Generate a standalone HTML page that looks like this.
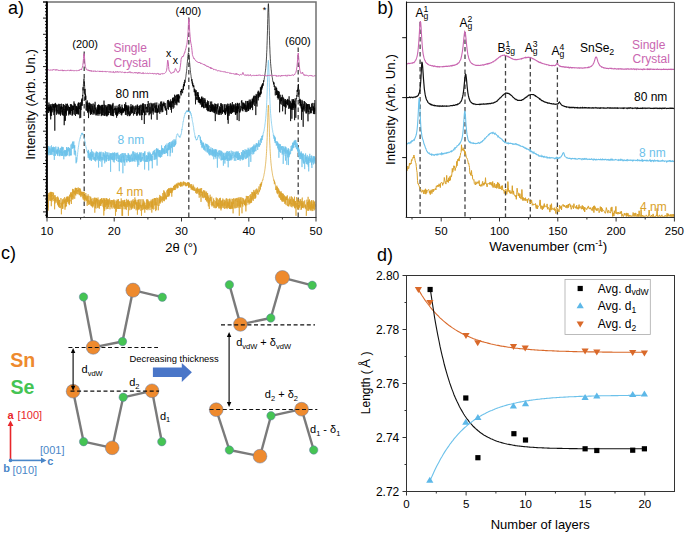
<!DOCTYPE html>
<html><head><meta charset="utf-8"><style>
html,body{margin:0;padding:0;background:#fff;}
svg{display:block;}
text{font-family:"Liberation Sans", sans-serif;}
</style></head><body>
<svg width="685" height="533" viewBox="0 0 685 533" font-family='"Liberation Sans", sans-serif'>
<rect width="685" height="533" fill="#fff"/>
<g id="pa">
<line x1="84.2" y1="51.5" x2="84.2" y2="217.5" stroke="#444" stroke-width="1.3" stroke-dasharray="4.5,3"/>
<line x1="188.8" y1="17.5" x2="188.8" y2="217.5" stroke="#444" stroke-width="1.3" stroke-dasharray="4.5,3"/>
<line x1="298.2" y1="47.5" x2="298.2" y2="217.5" stroke="#444" stroke-width="1.3" stroke-dasharray="4.5,3"/>
<path d="M47.6,194.9 L47.8,198.1 L47.9,207.4 L48.0,196.5 L48.2,210.6 L48.3,196.4 L48.5,194.9 L48.6,196.3 L48.8,192.9 L48.9,195.1 L49.1,195.2 L49.2,200.4 L49.4,200.6 L49.5,199.6 L49.7,196.8 L49.8,192.4 L50.0,197.1 L50.1,196.6 L50.3,197.3 L50.4,200.9 L50.6,191.9 L50.7,196.7 L50.9,192.6 L51.0,200.4 L51.2,191.9 L51.3,206.2 L51.5,192.8 L51.6,197.0 L51.8,192.0 L51.9,201.5 L52.1,198.2 L52.2,200.1 L52.4,195.5 L52.5,195.2 L52.7,196.0 L52.8,192.1 L53.0,199.1 L53.1,197.6 L53.3,198.4 L53.4,195.3 L53.6,192.8 L53.7,199.3 L53.9,201.1 L54.0,196.7 L54.2,196.9 L54.3,195.5 L54.5,195.3 L54.6,209.3 L54.8,198.8 L54.9,203.6 L55.1,199.8 L55.2,195.3 L55.4,196.4 L55.5,200.9 L55.7,197.6 L55.8,201.5 L56.0,201.1 L56.1,202.7 L56.3,200.9 L56.4,199.9 L56.6,200.1 L56.7,197.6 L56.9,197.0 L57.0,200.9 L57.2,199.9 L57.3,201.6 L57.5,204.1 L57.6,196.5 L57.8,202.3 L57.9,205.0 L58.1,202.2 L58.2,205.7 L58.4,197.6 L58.5,206.8 L58.7,199.6 L58.8,204.3 L59.0,205.8 L59.1,202.9 L59.3,200.0 L59.4,207.8 L59.6,199.9 L59.7,202.3 L59.9,203.8 L60.0,203.0 L60.2,206.0 L60.3,207.8 L60.5,208.1 L60.6,206.3 L60.8,206.8 L60.9,198.0 L61.1,200.4 L61.2,204.0 L61.4,214.3 L61.5,208.3 L61.7,208.1 L61.8,203.2 L62.0,205.6 L62.1,201.8 L62.3,206.7 L62.4,199.3 L62.6,208.9 L62.7,202.8 L62.9,208.6 L63.0,200.6 L63.2,200.8 L63.3,200.7 L63.5,200.8 L63.6,198.5 L63.8,204.2 L63.9,201.2 L64.1,203.0 L64.2,200.1 L64.4,202.4 L64.5,202.0 L64.7,197.1 L64.8,200.1 L65.0,209.7 L65.1,199.9 L65.3,201.3 L65.4,207.3 L65.6,198.6 L65.7,206.0 L65.9,204.2 L66.0,206.8 L66.2,204.8 L66.3,206.0 L66.5,197.2 L66.6,204.0 L66.8,199.2 L66.9,199.5 L67.1,196.3 L67.2,196.5 L67.4,202.2 L67.5,197.1 L67.7,201.5 L67.8,198.3 L68.0,201.1 L68.1,200.9 L68.3,196.4 L68.4,203.7 L68.6,201.4 L68.7,199.7 L68.9,200.1 L69.0,200.3 L69.2,197.1 L69.3,205.1 L69.5,194.7 L69.6,203.4 L69.8,200.2 L69.9,200.8 L70.1,200.4 L70.2,201.4 L70.4,197.2 L70.5,194.9 L70.7,192.5 L70.8,197.3 L71.0,193.5 L71.1,196.5 L71.3,192.2 L71.4,204.0 L71.6,194.9 L71.7,194.2 L71.9,199.0 L72.0,194.8 L72.2,195.3 L72.3,197.0 L72.5,188.9 L72.6,193.2 L72.8,199.7 L72.9,196.5 L73.1,190.9 L73.2,198.6 L73.4,198.2 L73.5,193.1 L73.7,189.2 L73.8,192.8 L74.0,192.3 L74.1,190.3 L74.3,194.0 L74.4,191.0 L74.6,194.0 L74.7,198.8 L74.9,196.1 L75.0,190.3 L75.2,187.9 L75.3,195.0 L75.5,189.4 L75.6,187.8 L75.8,195.5 L75.9,188.2 L76.1,193.1 L76.2,188.0 L76.4,193.8 L76.5,193.4 L76.7,189.2 L76.8,188.9 L77.0,188.0 L77.1,191.7 L77.3,190.2 L77.4,194.2 L77.6,189.9 L77.7,191.0 L77.9,190.0 L78.0,189.1 L78.2,187.4 L78.3,191.9 L78.5,189.4 L78.6,193.5 L78.8,192.7 L78.9,192.6 L79.1,194.7 L79.2,188.0 L79.4,195.2 L79.5,194.7 L79.7,189.3 L79.8,189.7 L80.0,188.3 L80.1,192.0 L80.3,189.2 L80.4,195.6 L80.6,190.9 L80.7,190.6 L80.9,197.1 L81.0,191.7 L81.2,192.1 L81.3,194.3 L81.5,194.3 L81.6,192.2 L81.8,195.4 L81.9,191.7 L82.1,196.3 L82.2,192.5 L82.4,192.0 L82.5,193.6 L82.7,192.9 L82.8,198.4 L83.0,198.1 L83.1,191.9 L83.3,199.8 L83.4,199.2 L83.6,192.1 L83.7,196.2 L83.9,196.6 L84.0,196.5 L84.2,191.7 L84.3,200.9 L84.5,196.1 L84.6,199.2 L84.8,197.5 L84.9,201.5 L85.1,195.1 L85.2,199.4 L85.4,195.6 L85.5,199.2 L85.7,195.7 L85.8,193.0 L86.0,196.8 L86.1,200.2 L86.3,197.2 L86.4,200.9 L86.6,200.9 L86.7,195.6 L86.9,197.6 L87.0,203.9 L87.2,205.9 L87.3,203.0 L87.5,198.0 L87.6,196.2 L87.8,203.4 L87.9,198.9 L88.1,194.3 L88.2,201.8 L88.4,200.1 L88.5,203.4 L88.7,205.0 L88.8,202.1 L89.0,196.2 L89.1,195.9 L89.3,203.7 L89.4,203.1 L89.6,204.1 L89.7,201.2 L89.9,201.8 L90.0,204.5 L90.2,200.2 L90.3,201.6 L90.5,198.8 L90.6,196.6 L90.8,205.6 L90.9,197.6 L91.1,201.7 L91.2,203.5 L91.4,201.6 L91.5,206.1 L91.7,198.9 L91.8,206.3 L92.0,204.8 L92.1,202.6 L92.3,201.2 L92.4,206.2 L92.6,202.2 L92.7,207.5 L92.9,198.5 L93.0,198.0 L93.2,198.9 L93.3,206.4 L93.5,201.9 L93.6,202.3 L93.8,204.6 L93.9,199.5 L94.1,202.1 L94.2,204.0 L94.4,197.6 L94.5,199.6 L94.7,203.9 L94.8,212.7 L95.0,198.4 L95.1,198.1 L95.3,207.9 L95.4,206.3 L95.6,200.3 L95.7,205.5 L95.9,197.7 L96.0,208.6 L96.2,201.2 L96.3,202.4 L96.5,198.2 L96.6,201.1 L96.8,198.8 L96.9,201.3 L97.1,201.9 L97.2,204.3 L97.4,199.0 L97.5,207.2 L97.7,208.1 L97.8,199.0 L98.0,197.5 L98.1,206.4 L98.3,201.3 L98.4,200.6 L98.6,200.6 L98.7,199.7 L98.9,207.8 L99.0,205.1 L99.2,200.1 L99.3,208.8 L99.5,201.4 L99.6,206.2 L99.8,205.9 L99.9,202.6 L100.1,205.2 L100.2,199.2 L100.4,205.9 L100.5,200.0 L100.7,199.2 L100.8,202.0 L101.0,205.7 L101.1,205.8 L101.3,200.9 L101.4,198.2 L101.6,204.0 L101.7,203.4 L101.9,198.3 L102.0,199.4 L102.2,203.0 L102.3,200.1 L102.5,202.2 L102.6,199.9 L102.8,205.8 L102.9,206.6 L103.1,206.5 L103.2,198.3 L103.4,199.5 L103.5,207.8 L103.7,205.7 L103.8,215.5 L104.0,198.2 L104.1,209.1 L104.3,201.6 L104.4,198.6 L104.6,210.9 L104.7,199.7 L104.9,205.3 L105.0,202.7 L105.2,201.2 L105.3,200.0 L105.5,201.2 L105.6,207.1 L105.8,202.2 L105.9,198.2 L106.1,209.3 L106.2,208.8 L106.4,202.3 L106.5,205.4 L106.7,198.1 L106.8,203.1 L107.0,198.8 L107.1,200.8 L107.3,208.7 L107.4,199.7 L107.6,204.1 L107.7,204.9 L107.9,200.7 L108.0,209.0 L108.2,203.9 L108.3,199.1 L108.5,206.9 L108.6,203.6 L108.8,200.2 L108.9,202.3 L109.1,204.5 L109.2,203.9 L109.4,203.2 L109.5,198.4 L109.7,199.4 L109.8,203.0 L110.0,209.3 L110.1,200.3 L110.3,201.0 L110.4,203.5 L110.6,201.8 L110.7,205.2 L110.9,206.9 L111.0,206.1 L111.2,200.0 L111.3,202.6 L111.5,207.3 L111.6,204.7 L111.8,200.1 L111.9,208.0 L112.1,208.7 L112.2,207.0 L112.4,205.1 L112.5,200.3 L112.7,202.4 L112.8,203.5 L113.0,204.9 L113.1,204.5 L113.3,200.1 L113.4,205.2 L113.6,207.5 L113.7,200.9 L113.9,199.4 L114.0,202.9 L114.2,202.9 L114.3,208.9 L114.5,201.6 L114.6,207.2 L114.8,207.8 L114.9,200.1 L115.1,206.3 L115.2,205.0 L115.4,208.3 L115.5,215.8 L115.7,204.1 L115.8,208.1 L116.0,201.6 L116.1,202.2 L116.3,205.3 L116.4,211.7 L116.6,201.0 L116.7,207.7 L116.9,207.8 L117.0,199.6 L117.2,206.6 L117.3,209.0 L117.5,207.8 L117.6,200.3 L117.8,199.7 L117.9,203.7 L118.1,208.7 L118.2,208.9 L118.4,199.0 L118.5,208.8 L118.7,206.0 L118.8,206.1 L119.0,201.4 L119.1,205.8 L119.3,206.2 L119.4,205.3 L119.6,209.0 L119.7,206.5 L119.9,201.5 L120.0,202.7 L120.2,201.7 L120.3,202.1 L120.5,206.3 L120.6,204.3 L120.8,208.9 L120.9,201.0 L121.1,200.3 L121.2,198.4 L121.4,201.6 L121.5,206.8 L121.7,200.7 L121.8,206.0 L122.0,215.8 L122.1,205.9 L122.3,200.6 L122.4,207.4 L122.6,215.8 L122.7,204.8 L122.9,203.2 L123.0,202.9 L123.2,200.0 L123.3,206.3 L123.5,201.4 L123.6,206.0 L123.8,202.4 L123.9,203.1 L124.1,209.3 L124.2,202.7 L124.4,205.8 L124.5,200.1 L124.7,206.7 L124.8,199.8 L125.0,204.6 L125.1,206.6 L125.3,202.0 L125.4,202.1 L125.6,209.2 L125.7,203.8 L125.9,206.1 L126.0,207.0 L126.2,207.1 L126.3,209.8 L126.5,209.7 L126.6,198.9 L126.8,199.6 L126.9,207.3 L127.1,201.3 L127.2,206.9 L127.4,200.3 L127.5,204.2 L127.7,203.9 L127.8,203.9 L128.0,205.2 L128.1,200.5 L128.3,204.0 L128.4,215.8 L128.6,199.7 L128.7,204.7 L128.9,205.4 L129.0,201.1 L129.2,206.5 L129.3,202.9 L129.5,204.4 L129.6,201.5 L129.8,210.2 L129.9,209.5 L130.1,204.7 L130.2,204.4 L130.4,203.5 L130.5,205.5 L130.7,206.1 L130.8,207.6 L131.0,200.7 L131.1,206.6 L131.3,207.8 L131.4,209.6 L131.6,201.5 L131.7,204.6 L131.9,208.5 L132.0,203.1 L132.2,200.3 L132.3,206.7 L132.5,207.3 L132.6,203.7 L132.8,206.5 L132.9,208.5 L133.1,199.2 L133.2,206.4 L133.4,206.1 L133.5,204.2 L133.7,201.4 L133.8,202.9 L134.0,201.0 L134.1,208.3 L134.3,207.4 L134.4,204.9 L134.6,200.1 L134.7,208.9 L134.9,197.4 L135.0,203.2 L135.2,202.9 L135.3,204.6 L135.5,199.7 L135.6,203.9 L135.8,200.8 L135.9,199.8 L136.1,210.3 L136.2,208.5 L136.4,202.9 L136.5,205.5 L136.7,201.8 L136.8,209.1 L137.0,206.3 L137.1,204.1 L137.3,202.4 L137.4,214.7 L137.6,207.6 L137.7,207.9 L137.9,199.8 L138.0,210.1 L138.2,205.0 L138.3,209.3 L138.5,199.8 L138.6,208.8 L138.8,205.8 L138.9,200.3 L139.1,199.2 L139.2,201.9 L139.4,209.4 L139.5,206.6 L139.7,202.9 L139.8,202.6 L140.0,207.3 L140.1,203.7 L140.3,199.4 L140.4,206.3 L140.6,204.9 L140.7,206.3 L140.9,210.9 L141.0,206.6 L141.2,207.9 L141.3,204.9 L141.5,215.8 L141.6,209.1 L141.8,207.5 L141.9,199.2 L142.1,199.4 L142.2,202.2 L142.4,210.2 L142.5,209.9 L142.7,204.3 L142.8,206.2 L143.0,202.7 L143.1,206.4 L143.3,199.4 L143.4,206.2 L143.6,209.4 L143.7,206.9 L143.9,200.8 L144.0,202.4 L144.2,208.6 L144.3,202.6 L144.5,208.1 L144.6,208.8 L144.8,212.7 L144.9,202.6 L145.1,202.9 L145.2,208.8 L145.4,207.3 L145.5,208.4 L145.7,209.0 L145.8,205.2 L146.0,206.8 L146.1,205.6 L146.3,209.9 L146.4,200.3 L146.6,199.5 L146.7,208.2 L146.9,207.9 L147.0,204.3 L147.2,199.4 L147.3,202.7 L147.5,208.7 L147.6,200.9 L147.8,199.5 L147.9,210.2 L148.1,205.3 L148.2,200.5 L148.4,203.4 L148.5,208.7 L148.7,208.7 L148.8,202.1 L149.0,207.9 L149.1,203.0 L149.3,201.3 L149.4,205.7 L149.6,203.4 L149.7,207.9 L149.9,209.2 L150.0,210.1 L150.2,207.7 L150.3,203.2 L150.5,203.1 L150.6,201.3 L150.8,204.4 L150.9,207.5 L151.1,199.7 L151.2,200.4 L151.4,206.8 L151.5,201.9 L151.7,204.0 L151.8,212.6 L152.0,200.8 L152.1,208.8 L152.3,204.1 L152.4,199.2 L152.6,208.6 L152.7,206.9 L152.9,200.5 L153.0,207.5 L153.2,198.7 L153.3,203.9 L153.5,205.9 L153.6,209.5 L153.8,208.9 L153.9,208.1 L154.1,208.5 L154.2,199.4 L154.4,198.1 L154.5,199.2 L154.7,205.5 L154.8,198.3 L155.0,199.6 L155.1,198.2 L155.3,204.5 L155.4,205.0 L155.6,198.3 L155.7,211.1 L155.9,208.0 L156.0,201.9 L156.2,209.9 L156.3,204.4 L156.5,204.8 L156.6,202.5 L156.8,197.6 L156.9,199.4 L157.1,205.2 L157.2,199.4 L157.4,198.0 L157.5,199.2 L157.7,204.2 L157.8,205.9 L158.0,205.4 L158.1,205.4 L158.3,210.3 L158.4,206.1 L158.6,204.6 L158.7,202.1 L158.9,198.4 L159.0,205.9 L159.2,197.3 L159.3,198.3 L159.5,203.0 L159.6,199.3 L159.8,194.9 L159.9,200.3 L160.1,203.7 L160.2,199.8 L160.4,202.3 L160.5,196.0 L160.7,202.2 L160.8,197.2 L161.0,197.4 L161.1,201.3 L161.3,199.3 L161.4,197.8 L161.6,196.9 L161.7,196.3 L161.9,200.3 L162.0,198.9 L162.2,200.8 L162.3,202.6 L162.5,197.2 L162.6,199.8 L162.8,193.0 L162.9,197.3 L163.1,199.1 L163.2,199.7 L163.4,198.2 L163.5,196.6 L163.7,201.1 L163.8,190.3 L164.0,198.4 L164.1,195.3 L164.3,191.4 L164.4,201.2 L164.6,198.8 L164.7,199.4 L164.9,192.0 L165.0,198.9 L165.2,195.1 L165.3,193.4 L165.5,196.0 L165.6,198.7 L165.8,199.5 L165.9,195.1 L166.1,197.4 L166.2,198.0 L166.4,196.1 L166.5,199.2 L166.7,194.0 L166.8,190.5 L167.0,193.6 L167.1,194.2 L167.3,196.3 L167.4,196.8 L167.6,189.4 L167.7,191.0 L167.9,190.1 L168.0,196.9 L168.2,189.4 L168.3,196.2 L168.5,188.3 L168.6,195.9 L168.8,192.5 L168.9,195.0 L169.1,196.1 L169.2,196.3 L169.4,188.2 L169.5,195.0 L169.7,193.7 L169.8,190.2 L170.0,188.8 L170.1,190.4 L170.3,192.6 L170.4,187.8 L170.6,192.6 L170.7,191.0 L170.9,191.9 L171.0,192.9 L171.2,189.8 L171.3,193.3 L171.5,190.4 L171.6,187.9 L171.8,196.7 L171.9,187.9 L172.1,192.7 L172.2,190.4 L172.4,188.2 L172.5,191.2 L172.7,189.6 L172.8,188.8 L173.0,188.2 L173.1,190.4 L173.3,187.7 L173.4,187.3 L173.6,186.0 L173.7,186.6 L173.9,189.8 L174.0,185.8 L174.2,190.1 L174.3,189.7 L174.5,185.8 L174.6,184.8 L174.8,189.6 L174.9,187.8 L175.1,189.4 L175.2,190.0 L175.4,185.0 L175.5,187.9 L175.7,185.3 L175.8,186.7 L176.0,184.3 L176.1,188.5 L176.3,185.8 L176.4,183.5 L176.6,184.0 L176.7,185.8 L176.9,184.7 L177.0,187.3 L177.2,184.1 L177.3,184.8 L177.5,188.3 L177.6,184.9 L177.8,183.6 L177.9,182.7 L178.1,187.8 L178.2,183.3 L178.4,183.8 L178.5,184.3 L178.7,184.5 L178.8,182.7 L179.0,184.6 L179.1,183.5 L179.3,184.5 L179.4,185.3 L179.6,184.8 L179.7,182.8 L179.9,185.6 L180.0,183.1 L180.2,186.1 L180.3,184.5 L180.5,182.1 L180.6,186.8 L180.8,183.1 L180.9,181.8 L181.1,185.9 L181.2,183.7 L181.4,183.5 L181.5,185.3 L181.7,186.4 L181.8,182.3 L182.0,185.3 L182.1,185.2 L182.3,185.9 L182.4,186.1 L182.6,186.2 L182.7,183.8 L182.9,184.3 L183.0,182.5 L183.2,184.1 L183.3,181.6 L183.5,185.3 L183.6,183.0 L183.8,181.6 L183.9,182.6 L184.1,185.4 L184.2,182.3 L184.4,182.6 L184.5,182.6 L184.7,183.4 L184.8,182.3 L185.0,182.5 L185.1,185.1 L185.3,184.2 L185.4,182.5 L185.6,186.1 L185.7,183.1 L185.9,184.1 L186.0,184.6 L186.2,186.3 L186.3,185.0 L186.5,185.8 L186.6,183.7 L186.8,182.9 L186.9,185.6 L187.1,184.9 L187.2,184.1 L187.4,182.5 L187.5,184.3 L187.7,182.4 L187.8,185.8 L188.0,183.3 L188.1,185.0 L188.3,184.8 L188.4,182.4 L188.6,187.6 L188.7,183.5 L188.9,186.5 L189.0,187.7 L189.2,185.3 L189.3,184.5 L189.5,183.2 L189.6,184.5 L189.8,185.5 L189.9,185.3 L190.1,184.3 L190.2,185.2 L190.4,187.8 L190.5,185.6 L190.7,184.7 L190.8,185.2 L191.0,184.7 L191.1,189.5 L191.3,189.0 L191.4,184.1 L191.6,184.5 L191.7,189.1 L191.9,187.0 L192.0,186.0 L192.2,190.1 L192.3,186.8 L192.5,187.0 L192.6,190.1 L192.8,189.3 L192.9,188.1 L193.1,184.6 L193.2,188.1 L193.4,190.4 L193.5,188.4 L193.7,185.9 L193.8,189.2 L194.0,190.4 L194.1,188.7 L194.3,188.6 L194.4,190.9 L194.6,187.6 L194.7,187.3 L194.9,188.3 L195.0,187.9 L195.2,190.2 L195.3,191.2 L195.5,189.4 L195.6,192.7 L195.8,192.3 L195.9,192.3 L196.1,191.5 L196.2,193.3 L196.4,188.2 L196.5,191.5 L196.7,189.2 L196.8,189.6 L197.0,194.0 L197.1,190.5 L197.3,191.1 L197.4,187.3 L197.6,192.9 L197.7,188.9 L197.9,190.2 L198.0,188.8 L198.2,192.2 L198.3,188.8 L198.5,191.7 L198.6,190.6 L198.8,192.0 L198.9,194.6 L199.1,191.3 L199.2,197.7 L199.4,192.4 L199.5,189.2 L199.7,194.8 L199.8,192.1 L200.0,193.7 L200.1,188.3 L200.3,192.4 L200.4,190.5 L200.6,188.7 L200.7,196.6 L200.9,194.2 L201.0,201.9 L201.2,193.7 L201.3,191.5 L201.5,192.9 L201.6,188.0 L201.8,194.3 L201.9,194.9 L202.1,193.5 L202.2,195.9 L202.4,191.8 L202.5,197.5 L202.7,195.5 L202.8,191.5 L203.0,195.7 L203.1,196.0 L203.3,198.2 L203.4,194.2 L203.6,190.2 L203.7,191.1 L203.9,193.0 L204.0,194.0 L204.2,197.3 L204.3,190.7 L204.5,191.3 L204.6,197.5 L204.8,192.3 L204.9,190.7 L205.1,191.4 L205.2,197.1 L205.4,196.6 L205.5,200.1 L205.7,192.4 L205.8,197.7 L206.0,198.0 L206.1,199.4 L206.3,196.5 L206.4,192.0 L206.6,191.6 L206.7,201.4 L206.9,196.7 L207.0,201.3 L207.2,193.4 L207.3,197.0 L207.5,199.4 L207.6,193.0 L207.8,198.3 L207.9,202.7 L208.1,195.4 L208.2,204.2 L208.4,206.4 L208.5,198.7 L208.7,196.8 L208.8,199.6 L209.0,203.8 L209.1,200.2 L209.3,209.0 L209.4,202.2 L209.6,200.7 L209.7,198.1 L209.9,202.5 L210.0,195.9 L210.2,194.7 L210.3,200.8 L210.5,197.0 L210.6,197.8 L210.8,198.3 L210.9,198.7 L211.1,201.4 L211.2,204.8 L211.4,205.3 L211.5,201.2 L211.7,197.3 L211.8,196.7 L212.0,206.5 L212.1,204.8 L212.3,204.9 L212.4,202.4 L212.6,204.7 L212.7,205.1 L212.9,201.5 L213.0,205.5 L213.2,205.5 L213.3,205.9 L213.5,203.6 L213.6,198.4 L213.8,202.1 L213.9,207.8 L214.1,200.1 L214.2,200.6 L214.4,206.4 L214.5,205.6 L214.7,205.9 L214.8,206.5 L215.0,208.2 L215.1,207.2 L215.3,203.1 L215.4,201.7 L215.6,201.2 L215.7,205.9 L215.9,208.2 L216.0,205.0 L216.2,197.5 L216.3,201.9 L216.5,207.8 L216.6,203.1 L216.8,199.8 L216.9,198.7 L217.1,205.2 L217.2,198.3 L217.4,206.5 L217.5,202.9 L217.7,204.5 L217.8,206.1 L218.0,202.6 L218.1,206.2 L218.3,206.4 L218.4,205.1 L218.6,199.6 L218.7,208.3 L218.9,203.1 L219.0,205.7 L219.2,200.6 L219.3,198.8 L219.5,198.2 L219.6,198.3 L219.8,208.5 L219.9,198.6 L220.1,199.2 L220.2,207.8 L220.4,197.8 L220.5,204.7 L220.7,206.4 L220.8,207.9 L221.0,210.4 L221.1,200.6 L221.3,208.8 L221.4,206.4 L221.6,200.7 L221.7,200.8 L221.9,206.3 L222.0,204.0 L222.2,207.8 L222.3,201.8 L222.5,200.0 L222.6,206.1 L222.8,198.5 L222.9,201.3 L223.1,202.5 L223.2,204.1 L223.4,203.7 L223.5,207.8 L223.7,207.2 L223.8,199.7 L224.0,199.5 L224.1,205.3 L224.3,202.1 L224.4,208.9 L224.6,201.3 L224.7,200.2 L224.9,201.8 L225.0,205.8 L225.2,204.3 L225.3,200.8 L225.5,208.1 L225.6,208.4 L225.8,207.0 L225.9,201.3 L226.1,198.6 L226.2,205.2 L226.4,205.4 L226.5,208.0 L226.7,198.3 L226.8,200.6 L227.0,208.5 L227.1,209.1 L227.3,201.9 L227.4,207.7 L227.6,207.2 L227.7,199.3 L227.9,206.6 L228.0,202.6 L228.2,201.7 L228.3,206.0 L228.5,202.8 L228.6,207.9 L228.8,201.2 L228.9,200.7 L229.1,198.9 L229.2,207.5 L229.4,208.8 L229.5,198.7 L229.7,208.9 L229.8,199.8 L230.0,200.5 L230.1,205.6 L230.3,208.9 L230.4,205.6 L230.6,209.1 L230.7,201.8 L230.9,201.9 L231.0,198.7 L231.2,205.3 L231.3,207.5 L231.5,208.8 L231.6,201.7 L231.8,207.9 L231.9,202.6 L232.1,206.8 L232.2,202.6 L232.4,208.7 L232.5,198.9 L232.7,206.1 L232.8,208.4 L233.0,206.8 L233.1,213.4 L233.3,201.4 L233.4,204.0 L233.6,203.5 L233.7,198.3 L233.9,206.7 L234.0,198.6 L234.2,200.4 L234.3,201.0 L234.5,208.3 L234.6,208.0 L234.8,207.5 L234.9,201.9 L235.1,199.8 L235.2,200.9 L235.4,198.7 L235.5,205.0 L235.7,208.3 L235.8,200.0 L236.0,198.7 L236.1,199.3 L236.3,198.1 L236.4,202.2 L236.6,206.8 L236.7,207.9 L236.9,200.3 L237.0,198.8 L237.2,201.8 L237.3,197.8 L237.5,206.6 L237.6,200.9 L237.8,200.9 L237.9,207.3 L238.1,207.9 L238.2,207.5 L238.4,203.1 L238.5,201.1 L238.7,198.3 L238.8,206.2 L239.0,197.1 L239.1,206.5 L239.3,215.8 L239.4,206.3 L239.6,206.1 L239.7,199.3 L239.9,206.8 L240.0,201.2 L240.2,207.6 L240.3,197.7 L240.5,206.7 L240.6,201.3 L240.8,203.4 L240.9,197.4 L241.1,197.1 L241.2,198.1 L241.4,199.4 L241.5,200.2 L241.7,203.9 L241.8,201.5 L242.0,213.3 L242.1,199.7 L242.3,197.8 L242.4,205.1 L242.6,203.1 L242.7,206.2 L242.9,206.6 L243.0,201.5 L243.2,198.6 L243.3,198.2 L243.5,201.2 L243.6,199.5 L243.8,204.0 L243.9,201.3 L244.1,202.5 L244.2,199.8 L244.4,204.5 L244.5,201.6 L244.7,205.2 L244.8,201.0 L245.0,205.1 L245.1,204.7 L245.3,198.7 L245.4,198.8 L245.6,206.3 L245.7,199.9 L245.9,211.4 L246.0,205.2 L246.2,200.2 L246.3,195.9 L246.5,199.6 L246.6,200.8 L246.8,205.3 L246.9,205.1 L247.1,196.7 L247.2,196.0 L247.4,197.2 L247.5,199.1 L247.7,202.7 L247.8,199.7 L248.0,196.1 L248.1,198.6 L248.3,196.2 L248.4,202.6 L248.6,199.7 L248.7,202.0 L248.9,200.0 L249.0,204.5 L249.2,198.5 L249.3,200.3 L249.5,202.0 L249.6,200.9 L249.8,203.4 L249.9,194.9 L250.1,201.2 L250.2,203.2 L250.4,201.3 L250.5,201.5 L250.7,194.2 L250.8,195.4 L251.0,203.0 L251.1,196.1 L251.3,199.1 L251.4,198.4 L251.6,202.5 L251.7,195.7 L251.9,191.9 L252.0,197.1 L252.2,200.2 L252.3,194.4 L252.5,192.6 L252.6,193.7 L252.8,198.8 L252.9,192.4 L253.1,197.2 L253.2,200.9 L253.4,200.0 L253.5,193.6 L253.7,190.9 L253.8,189.9 L254.0,198.4 L254.1,198.5 L254.3,191.6 L254.4,195.9 L254.6,192.1 L254.7,193.1 L254.9,195.1 L255.0,199.0 L255.2,190.2 L255.3,196.3 L255.5,197.7 L255.6,193.6 L255.8,197.6 L255.9,192.5 L256.1,189.1 L256.2,192.5 L256.4,193.0 L256.5,193.9 L256.7,188.7 L256.8,188.5 L257.0,189.1 L257.1,189.0 L257.3,189.4 L257.4,192.9 L257.6,190.3 L257.7,194.5 L257.9,194.3 L258.0,194.1 L258.2,193.5 L258.3,194.4 L258.5,190.6 L258.6,189.1 L258.8,189.2 L258.9,186.4 L259.1,186.6 L259.2,192.3 L259.4,190.1 L259.5,191.1 L259.7,190.7 L259.8,190.0 L260.0,186.6 L260.1,184.2 L260.3,186.4 L260.4,189.5 L260.6,183.9 L260.7,186.0 L260.9,183.6 L261.0,186.8 L261.2,186.5 L261.3,182.4 L261.5,184.5 L261.6,184.8 L261.8,182.3 L261.9,182.6 L262.1,182.0 L262.2,181.4 L262.4,180.4 L262.5,180.0 L262.7,180.3 L262.8,179.6 L263.0,179.8 L263.1,178.5 L263.3,178.0 L263.4,177.5 L263.6,176.9 L263.7,176.3 L263.9,175.5 L264.0,174.6 L264.2,173.9 L264.3,172.9 L264.5,172.4 L264.6,171.4 L264.8,170.3 L264.9,169.5 L265.1,168.3 L265.2,166.9 L265.4,165.8 L265.5,164.3 L265.7,163.2 L265.8,161.7 L266.0,159.7 L266.1,157.8 L266.3,155.6 L266.4,153.7 L266.6,151.4 L266.7,148.5 L266.9,145.2 L267.0,141.4 L267.2,137.6 L267.3,132.7 L267.5,128.1 L267.6,122.9 L267.8,117.9 L267.9,112.6 L268.1,108.8 L268.2,105.8 L268.4,105.1 L268.5,105.9 L268.7,108.6 L268.8,112.8 L269.0,117.8 L269.1,123.0 L269.3,128.1 L269.4,132.9 L269.6,137.7 L269.7,142.0 L269.9,145.2 L270.0,148.5 L270.2,151.5 L270.3,153.9 L270.5,156.3 L270.6,158.5 L270.8,160.3 L270.9,162.2 L271.1,163.9 L271.2,165.3 L271.4,166.4 L271.5,167.8 L271.7,168.8 L271.8,170.1 L272.0,171.1 L272.1,172.1 L272.3,172.8 L272.4,173.7 L272.6,174.9 L272.7,175.6 L272.9,176.2 L273.0,177.1 L273.2,177.5 L273.3,178.2 L273.5,178.9 L273.6,179.7 L273.8,180.6 L273.9,179.7 L274.1,181.1 L274.2,180.9 L274.4,184.2 L274.5,181.1 L274.7,182.6 L274.8,182.8 L275.0,182.5 L275.1,183.6 L275.3,183.6 L275.4,186.2 L275.6,186.4 L275.7,187.5 L275.9,190.0 L276.0,186.4 L276.2,189.9 L276.3,189.3 L276.5,190.3 L276.6,190.0 L276.8,185.6 L276.9,192.6 L277.1,190.5 L277.2,193.6 L277.4,193.7 L277.5,186.9 L277.7,188.9 L277.8,190.8 L278.0,194.3 L278.1,188.1 L278.3,192.8 L278.4,189.7 L278.6,191.5 L278.7,190.9 L278.9,189.5 L279.0,196.6 L279.2,194.9 L279.3,197.5 L279.5,190.8 L279.6,195.4 L279.8,194.8 L279.9,198.1 L280.1,191.6 L280.2,192.2 L280.4,194.1 L280.5,199.7 L280.7,192.5 L280.8,195.6 L281.0,193.5 L281.1,191.3 L281.3,199.4 L281.4,192.9 L281.6,193.8 L281.7,200.5 L281.9,198.2 L282.0,201.5 L282.2,193.6 L282.3,200.0 L282.5,193.5 L282.6,200.2 L282.8,197.0 L282.9,201.8 L283.1,196.4 L283.2,201.2 L283.4,196.5 L283.5,193.8 L283.7,199.5 L283.8,195.6 L284.0,201.4 L284.1,201.6 L284.3,197.5 L284.4,195.4 L284.6,202.3 L284.7,203.6 L284.9,203.9 L285.0,202.2 L285.2,196.2 L285.3,203.4 L285.5,197.7 L285.6,199.7 L285.8,197.1 L285.9,202.6 L286.1,205.1 L286.2,198.6 L286.4,196.8 L286.5,200.0 L286.7,196.9 L286.8,196.5 L287.0,200.2 L287.1,200.0 L287.3,195.3 L287.4,205.7 L287.6,206.1 L287.7,204.4 L287.9,198.8 L288.0,202.5 L288.2,205.7 L288.3,204.4 L288.5,206.4 L288.6,203.9 L288.8,199.4 L288.9,198.9 L289.1,198.5 L289.2,203.9 L289.4,200.4 L289.5,202.6 L289.7,204.6 L289.8,196.7 L290.0,199.3 L290.1,206.3 L290.3,201.3 L290.4,199.7 L290.6,203.6 L290.7,198.9 L290.9,201.7 L291.0,203.9 L291.2,206.6 L291.3,196.3 L291.5,198.3 L291.6,204.5 L291.8,203.0 L291.9,207.1 L292.1,207.3 L292.2,205.1 L292.4,197.4 L292.5,205.2 L292.7,206.0 L292.8,204.6 L293.0,199.9 L293.1,201.8 L293.3,202.4 L293.4,198.8 L293.6,202.8 L293.7,206.3 L293.9,200.0 L294.0,204.7 L294.2,201.5 L294.3,206.8 L294.5,196.7 L294.6,208.2 L294.8,205.4 L294.9,201.0 L295.1,202.3 L295.2,207.6 L295.4,208.4 L295.5,201.1 L295.7,205.2 L295.8,203.2 L296.0,215.8 L296.1,206.4 L296.3,202.7 L296.4,199.6 L296.6,197.1 L296.7,207.3 L296.9,203.2 L297.0,207.4 L297.2,207.5 L297.3,206.3 L297.5,200.1 L297.6,209.3 L297.8,202.9 L297.9,209.1 L298.1,198.5 L298.2,206.9 L298.4,208.2 L298.5,207.7 L298.7,205.7 L298.8,209.6 L299.0,201.2 L299.1,203.5 L299.3,201.1 L299.4,207.6 L299.6,204.8 L299.7,207.3 L299.9,199.5 L300.0,199.2 L300.2,199.6 L300.3,205.6 L300.5,204.7 L300.6,199.4 L300.8,199.4 L300.9,206.6 L301.1,210.0 L301.2,206.3 L301.4,201.0 L301.5,209.0 L301.7,202.7 L301.8,207.5 L302.0,202.4 L302.1,199.0 L302.3,197.6 L302.4,208.0 L302.6,202.9 L302.7,206.9 L302.9,201.1 L303.0,202.2 L303.2,205.3 L303.3,207.6 L303.5,208.2 L303.6,203.3 L303.8,202.5 L303.9,201.6 L304.1,207.0 L304.2,206.8 L304.4,202.3 L304.5,201.5 L304.7,200.4 L304.8,200.7 L305.0,207.9 L305.1,208.3 L305.3,204.6 L305.4,208.0 L305.6,205.3 L305.7,205.3 L305.9,209.2 L306.0,204.6 L306.2,205.4 L306.3,215.8 L306.5,210.6 L306.6,206.4 L306.8,205.1 L306.9,199.7 L307.1,204.7 L307.2,202.8 L307.4,204.6 L307.5,202.2 L307.7,210.7 L307.8,202.3 L308.0,207.1 L308.1,196.8 L308.3,204.3 L308.4,210.8 L308.6,204.0 L308.7,200.8 L308.9,207.3 L309.0,209.4 L309.2,200.2 L309.3,206.7 L309.5,199.4 L309.6,208.7 L309.8,206.7 L309.9,209.1 L310.1,210.5 L310.2,205.0 L310.4,208.8 L310.5,204.7 L310.7,201.4 L310.8,210.4 L311.0,203.5 L311.1,209.8 L311.3,205.2 L311.4,200.2 L311.6,206.7 L311.7,208.4 L311.9,200.3 L312.0,211.1 L312.2,203.8 L312.3,205.2 L312.5,208.4 L312.6,206.6 L312.8,205.4 L312.9,210.9 L313.1,201.6 L313.2,208.2 L313.4,200.3 L313.5,208.8 L313.7,208.2 L313.8,204.8 L314.0,204.8 L314.1,205.4 L314.3,210.3 L314.4,202.0 L314.6,204.6 L314.7,205.4 L314.9,201.2 L315.0,209.2 L315.2,205.7 L315.3,204.1 L315.5,206.9 L315.6,205.2" fill="none" stroke="#daa12a" stroke-width="0.7"/>
<path d="M47.6,149.2 L47.8,148.6 L47.9,148.0 L48.0,154.5 L48.2,150.8 L48.3,146.0 L48.5,152.0 L48.6,154.6 L48.8,155.1 L48.9,155.3 L49.1,154.6 L49.2,147.8 L49.4,151.1 L49.5,153.1 L49.7,152.4 L49.8,148.9 L50.0,146.4 L50.1,154.9 L50.3,153.8 L50.4,154.6 L50.6,149.9 L50.7,148.5 L50.9,154.4 L51.0,152.5 L51.2,152.7 L51.3,146.4 L51.5,145.4 L51.6,153.7 L51.8,154.8 L51.9,149.6 L52.1,154.7 L52.2,147.9 L52.4,151.8 L52.5,147.2 L52.7,151.4 L52.8,148.0 L53.0,149.9 L53.1,150.7 L53.3,149.0 L53.4,146.7 L53.6,152.1 L53.7,148.2 L53.9,155.8 L54.0,148.5 L54.2,147.2 L54.3,159.9 L54.5,151.8 L54.6,150.6 L54.8,152.7 L54.9,147.2 L55.1,150.3 L55.2,151.7 L55.4,155.8 L55.5,155.0 L55.7,151.9 L55.8,146.5 L56.0,147.3 L56.1,152.5 L56.3,150.3 L56.4,150.9 L56.6,153.4 L56.7,150.8 L56.9,154.0 L57.0,149.1 L57.2,149.5 L57.3,154.8 L57.5,149.7 L57.6,155.7 L57.8,154.6 L57.9,155.5 L58.1,146.8 L58.2,153.7 L58.4,152.0 L58.5,147.5 L58.7,149.3 L58.8,151.1 L59.0,151.9 L59.1,151.2 L59.3,156.1 L59.4,156.2 L59.6,149.8 L59.7,153.5 L59.9,155.6 L60.0,156.1 L60.2,148.2 L60.3,155.3 L60.5,151.5 L60.6,152.9 L60.8,148.8 L60.9,147.8 L61.1,152.2 L61.2,153.0 L61.4,150.6 L61.5,155.9 L61.7,153.5 L61.8,146.6 L62.0,155.8 L62.1,147.1 L62.3,154.8 L62.4,152.1 L62.6,155.9 L62.7,147.8 L62.9,149.5 L63.0,147.0 L63.2,147.4 L63.3,150.8 L63.5,152.3 L63.6,151.7 L63.8,159.3 L63.9,150.8 L64.1,151.0 L64.2,155.9 L64.4,149.9 L64.5,152.9 L64.7,151.5 L64.8,154.4 L65.0,152.7 L65.1,156.6 L65.3,153.0 L65.4,150.1 L65.6,150.9 L65.7,155.2 L65.9,150.4 L66.0,156.0 L66.2,151.1 L66.3,156.2 L66.5,147.1 L66.6,154.6 L66.8,151.2 L66.9,149.0 L67.1,152.7 L67.2,147.4 L67.4,148.8 L67.5,155.3 L67.7,152.0 L67.8,150.2 L68.0,148.3 L68.1,148.4 L68.3,149.1 L68.4,151.4 L68.6,147.0 L68.7,148.9 L68.9,151.1 L69.0,155.7 L69.2,155.5 L69.3,156.2 L69.5,149.0 L69.6,148.0 L69.8,155.2 L69.9,153.6 L70.1,148.9 L70.2,150.3 L70.4,155.4 L70.5,154.1 L70.7,155.1 L70.8,150.5 L71.0,144.5 L71.1,150.2 L71.3,155.4 L71.4,145.4 L71.6,144.8 L71.7,143.7 L71.9,144.5 L72.0,144.9 L72.2,148.4 L72.3,147.7 L72.5,141.6 L72.6,148.4 L72.8,147.6 L72.9,148.4 L73.1,142.1 L73.2,146.2 L73.4,144.8 L73.5,146.1 L73.7,147.9 L73.8,141.3 L74.0,148.0 L74.1,148.7 L74.3,154.6 L74.4,146.0 L74.6,148.0 L74.7,145.1 L74.9,151.9 L75.0,151.2 L75.2,152.8 L75.3,155.5 L75.5,150.7 L75.6,151.6 L75.8,153.8 L75.9,154.7 L76.1,163.3 L76.2,157.3 L76.4,158.6 L76.5,162.2 L76.7,161.6 L76.8,161.7 L77.0,159.5 L77.1,159.5 L77.3,157.4 L77.4,156.7 L77.6,154.3 L77.7,152.4 L77.9,151.7 L78.0,149.6 L78.2,149.2 L78.3,147.6 L78.5,147.0 L78.6,145.8 L78.8,144.5 L78.9,144.0 L79.1,142.3 L79.2,141.7 L79.4,141.2 L79.5,140.9 L79.7,140.9 L79.8,138.8 L80.0,138.6 L80.1,137.7 L80.3,138.3 L80.4,137.8 L80.6,136.7 L80.7,135.7 L80.9,136.2 L81.0,134.9 L81.2,135.0 L81.3,134.9 L81.5,133.9 L81.6,133.5 L81.8,133.0 L81.9,134.3 L82.1,132.8 L82.2,134.0 L82.4,134.3 L82.5,133.5 L82.7,133.3 L82.8,134.4 L83.0,133.9 L83.1,134.6 L83.3,134.8 L83.4,135.9 L83.6,136.4 L83.7,136.7 L83.9,137.1 L84.0,138.1 L84.2,137.8 L84.3,138.5 L84.5,139.1 L84.6,139.8 L84.8,141.0 L84.9,141.2 L85.1,143.1 L85.2,142.5 L85.4,144.6 L85.5,145.1 L85.7,145.4 L85.8,146.0 L86.0,147.1 L86.1,147.0 L86.3,148.4 L86.4,148.4 L86.6,149.5 L86.7,149.6 L86.9,150.9 L87.0,150.8 L87.2,151.3 L87.3,151.1 L87.5,152.7 L87.6,151.6 L87.8,151.9 L87.9,152.7 L88.1,157.7 L88.2,156.3 L88.4,149.9 L88.5,151.7 L88.7,156.3 L88.8,151.4 L89.0,158.0 L89.1,156.6 L89.3,159.6 L89.4,153.6 L89.6,157.2 L89.7,156.4 L89.9,157.3 L90.0,160.2 L90.2,154.1 L90.3,152.9 L90.5,158.9 L90.6,152.1 L90.8,156.3 L90.9,160.3 L91.1,159.5 L91.2,157.9 L91.4,149.4 L91.5,161.0 L91.7,155.5 L91.8,153.9 L92.0,157.0 L92.1,152.4 L92.3,151.4 L92.4,156.8 L92.6,154.9 L92.7,154.0 L92.9,159.5 L93.0,151.8 L93.2,155.4 L93.3,159.4 L93.5,159.7 L93.6,158.4 L93.8,156.5 L93.9,152.7 L94.1,155.2 L94.2,158.7 L94.4,159.2 L94.5,157.5 L94.7,160.5 L94.8,157.0 L95.0,160.0 L95.1,160.6 L95.3,152.9 L95.4,152.7 L95.6,161.5 L95.7,154.3 L95.9,155.9 L96.0,155.6 L96.2,160.1 L96.3,151.4 L96.5,156.4 L96.6,156.1 L96.8,152.3 L96.9,155.9 L97.1,160.4 L97.2,151.9 L97.4,153.9 L97.5,157.7 L97.7,157.0 L97.8,159.3 L98.0,154.9 L98.1,152.7 L98.3,155.2 L98.4,160.0 L98.6,167.5 L98.7,155.6 L98.9,159.6 L99.0,157.5 L99.2,152.9 L99.3,155.4 L99.5,160.9 L99.6,151.8 L99.8,159.4 L99.9,154.7 L100.1,159.3 L100.2,153.2 L100.4,158.4 L100.5,159.2 L100.7,152.2 L100.8,161.5 L101.0,152.7 L101.1,151.7 L101.3,160.2 L101.4,156.9 L101.6,158.3 L101.7,158.4 L101.9,166.9 L102.0,162.0 L102.2,161.8 L102.3,160.8 L102.5,157.1 L102.6,160.2 L102.8,159.4 L102.9,152.3 L103.1,159.5 L103.2,154.8 L103.4,156.1 L103.5,152.6 L103.7,153.2 L103.8,157.0 L104.0,160.5 L104.1,160.0 L104.3,153.4 L104.4,157.4 L104.6,155.0 L104.7,163.3 L104.9,155.6 L105.0,158.9 L105.2,161.4 L105.3,151.4 L105.5,154.9 L105.6,157.6 L105.8,157.0 L105.9,155.9 L106.1,160.2 L106.2,152.1 L106.4,161.7 L106.5,154.7 L106.7,160.7 L106.8,160.6 L107.0,160.6 L107.1,158.4 L107.3,158.7 L107.4,152.4 L107.6,156.4 L107.7,156.3 L107.9,154.8 L108.0,159.0 L108.2,157.7 L108.3,158.9 L108.5,160.9 L108.6,155.5 L108.8,158.5 L108.9,152.5 L109.1,160.3 L109.2,160.5 L109.4,159.2 L109.5,159.2 L109.7,157.9 L109.8,155.4 L110.0,160.3 L110.1,153.4 L110.3,158.1 L110.4,153.2 L110.6,171.8 L110.7,157.3 L110.9,158.7 L111.0,153.9 L111.2,156.4 L111.3,159.0 L111.5,156.7 L111.6,159.6 L111.8,153.0 L111.9,155.8 L112.1,153.2 L112.2,159.8 L112.4,156.2 L112.5,159.9 L112.7,160.0 L112.8,152.5 L113.0,158.6 L113.1,160.5 L113.3,161.7 L113.4,153.1 L113.6,153.1 L113.7,156.8 L113.9,160.0 L114.0,153.3 L114.2,162.5 L114.3,159.6 L114.5,152.3 L114.6,159.9 L114.8,154.1 L114.9,154.0 L115.1,159.1 L115.2,159.6 L115.4,158.7 L115.5,154.8 L115.7,154.1 L115.8,152.8 L116.0,154.0 L116.1,156.0 L116.3,155.7 L116.4,152.9 L116.6,161.0 L116.7,154.2 L116.9,153.1 L117.0,153.6 L117.2,156.8 L117.3,158.7 L117.5,153.1 L117.6,153.8 L117.8,152.5 L117.9,156.4 L118.1,161.8 L118.2,160.4 L118.4,161.1 L118.5,161.7 L118.7,154.5 L118.8,159.0 L119.0,156.6 L119.1,156.0 L119.3,171.2 L119.4,158.1 L119.6,158.7 L119.7,155.1 L119.9,162.0 L120.0,159.1 L120.2,158.8 L120.3,160.1 L120.5,161.7 L120.6,154.1 L120.8,155.0 L120.9,162.4 L121.1,159.2 L121.2,161.5 L121.4,153.5 L121.5,162.5 L121.7,156.7 L121.8,160.6 L122.0,161.7 L122.1,157.6 L122.3,156.6 L122.4,157.4 L122.6,153.6 L122.7,153.0 L122.9,173.3 L123.0,159.0 L123.2,153.1 L123.3,158.4 L123.5,154.8 L123.6,161.0 L123.8,156.0 L123.9,162.2 L124.1,159.1 L124.2,162.6 L124.4,159.9 L124.5,162.2 L124.7,153.3 L124.8,165.8 L125.0,160.3 L125.1,157.0 L125.3,153.3 L125.4,155.8 L125.6,155.2 L125.7,159.5 L125.9,160.2 L126.0,159.9 L126.2,159.2 L126.3,160.0 L126.5,161.8 L126.6,154.9 L126.8,155.1 L126.9,162.4 L127.1,161.4 L127.2,159.1 L127.4,160.4 L127.5,158.9 L127.7,155.4 L127.8,158.1 L128.0,154.7 L128.1,153.2 L128.3,155.7 L128.4,160.6 L128.6,153.6 L128.7,160.6 L128.9,154.6 L129.0,160.3 L129.2,161.3 L129.3,155.0 L129.5,162.2 L129.6,157.1 L129.8,159.3 L129.9,159.1 L130.1,156.8 L130.2,160.9 L130.4,161.5 L130.5,157.0 L130.7,155.3 L130.8,161.9 L131.0,159.4 L131.1,155.9 L131.3,153.8 L131.4,156.2 L131.6,155.2 L131.7,160.6 L131.9,159.4 L132.0,157.4 L132.2,161.6 L132.3,158.2 L132.5,161.1 L132.6,151.5 L132.8,152.9 L132.9,161.0 L133.1,159.7 L133.2,154.8 L133.4,151.4 L133.5,152.8 L133.7,155.4 L133.8,161.3 L134.0,151.9 L134.1,154.7 L134.3,160.7 L134.4,154.0 L134.6,154.5 L134.7,159.8 L134.9,158.2 L135.0,161.8 L135.2,152.5 L135.3,155.5 L135.5,158.4 L135.6,155.5 L135.8,159.7 L135.9,154.4 L136.1,158.3 L136.2,153.7 L136.4,152.9 L136.5,160.3 L136.7,158.5 L136.8,157.9 L137.0,155.9 L137.1,159.0 L137.3,161.9 L137.4,155.9 L137.6,152.5 L137.7,166.8 L137.9,160.1 L138.0,155.1 L138.2,159.8 L138.3,154.1 L138.5,158.2 L138.6,155.7 L138.8,165.1 L138.9,155.8 L139.1,158.1 L139.2,159.6 L139.4,159.2 L139.5,156.4 L139.7,152.3 L139.8,160.5 L140.0,153.0 L140.1,155.8 L140.3,159.5 L140.4,162.1 L140.6,159.4 L140.7,153.1 L140.9,161.9 L141.0,152.4 L141.2,152.2 L141.3,159.5 L141.5,161.4 L141.6,158.5 L141.8,160.9 L141.9,157.1 L142.1,159.4 L142.2,158.3 L142.4,158.1 L142.5,157.0 L142.7,158.6 L142.8,156.7 L143.0,152.9 L143.1,160.8 L143.3,153.9 L143.4,153.9 L143.6,153.1 L143.7,155.4 L143.9,155.9 L144.0,153.8 L144.2,161.7 L144.3,156.4 L144.5,151.9 L144.6,169.5 L144.8,152.8 L144.9,151.2 L145.1,153.0 L145.2,160.5 L145.4,160.0 L145.5,161.9 L145.7,160.1 L145.8,156.9 L146.0,155.7 L146.1,157.7 L146.3,158.2 L146.4,161.9 L146.6,155.1 L146.7,161.0 L146.9,161.5 L147.0,161.5 L147.2,158.0 L147.3,157.9 L147.5,161.8 L147.6,155.8 L147.8,159.5 L147.9,152.3 L148.1,153.9 L148.2,156.6 L148.4,159.0 L148.5,153.2 L148.7,170.4 L148.8,157.2 L149.0,152.6 L149.1,151.6 L149.3,155.3 L149.4,159.7 L149.6,161.3 L149.7,159.0 L149.9,153.4 L150.0,160.3 L150.2,152.6 L150.3,155.1 L150.5,157.9 L150.6,160.4 L150.8,154.3 L150.9,155.3 L151.1,160.2 L151.2,155.6 L151.4,161.1 L151.5,154.3 L151.7,156.7 L151.8,156.2 L152.0,160.5 L152.1,155.8 L152.3,168.3 L152.4,158.2 L152.6,155.2 L152.7,152.6 L152.9,155.0 L153.0,151.5 L153.2,151.1 L153.3,151.3 L153.5,151.4 L153.6,150.9 L153.8,154.1 L153.9,151.5 L154.1,160.0 L154.2,154.1 L154.4,149.9 L154.5,156.6 L154.7,157.1 L154.8,159.5 L155.0,152.1 L155.1,152.8 L155.3,157.2 L155.4,153.3 L155.6,155.9 L155.7,159.0 L155.9,159.6 L156.0,149.3 L156.2,151.6 L156.3,158.9 L156.5,148.2 L156.6,150.9 L156.8,156.6 L156.9,149.7 L157.1,165.6 L157.2,158.3 L157.4,154.3 L157.5,148.8 L157.7,149.8 L157.8,152.8 L158.0,148.7 L158.1,155.3 L158.3,151.2 L158.4,150.4 L158.6,156.3 L158.7,155.8 L158.9,156.4 L159.0,150.1 L159.2,157.2 L159.3,154.5 L159.5,150.2 L159.6,156.2 L159.8,152.1 L159.9,157.1 L160.1,150.0 L160.2,154.4 L160.4,155.8 L160.5,157.6 L160.7,151.3 L160.8,156.4 L161.0,153.5 L161.1,153.8 L161.3,149.8 L161.4,153.8 L161.6,145.4 L161.7,156.9 L161.9,152.6 L162.0,152.6 L162.2,148.4 L162.3,152.6 L162.5,148.1 L162.6,154.7 L162.8,153.8 L162.9,147.9 L163.1,153.9 L163.2,152.3 L163.4,148.8 L163.5,149.5 L163.7,152.6 L163.8,150.1 L164.0,152.3 L164.1,150.3 L164.3,154.0 L164.4,153.3 L164.6,146.1 L164.7,153.3 L164.9,154.0 L165.0,149.4 L165.2,153.3 L165.3,146.7 L165.5,144.8 L165.6,148.6 L165.8,145.3 L165.9,145.3 L166.1,148.2 L166.2,153.1 L166.4,148.7 L166.5,152.9 L166.7,148.3 L166.8,147.8 L167.0,143.5 L167.1,144.0 L167.3,151.2 L167.4,153.9 L167.6,148.1 L167.7,156.1 L167.9,148.7 L168.0,145.2 L168.2,150.4 L168.3,149.0 L168.5,143.1 L168.6,149.7 L168.8,145.4 L168.9,149.6 L169.1,149.1 L169.2,149.9 L169.4,142.0 L169.5,148.2 L169.7,144.4 L169.8,149.1 L170.0,142.5 L170.1,156.3 L170.3,149.8 L170.4,145.8 L170.6,145.9 L170.7,152.9 L170.9,148.8 L171.0,141.8 L171.2,147.0 L171.3,143.8 L171.5,144.2 L171.6,148.1 L171.8,141.7 L171.9,141.4 L172.1,146.2 L172.2,146.5 L172.4,142.3 L172.5,152.6 L172.7,143.2 L172.8,140.4 L173.0,142.3 L173.1,141.4 L173.3,143.6 L173.4,143.5 L173.6,142.9 L173.7,146.9 L173.9,142.6 L174.0,139.3 L174.2,146.7 L174.3,144.1 L174.5,146.2 L174.6,142.1 L174.8,143.0 L174.9,140.6 L175.1,144.8 L175.2,139.5 L175.4,143.5 L175.5,145.3 L175.7,141.2 L175.8,144.1 L176.0,140.0 L176.1,138.6 L176.3,136.9 L176.4,136.0 L176.6,135.9 L176.7,136.1 L176.9,135.7 L177.0,134.2 L177.2,134.4 L177.3,134.2 L177.5,133.7 L177.6,133.6 L177.8,133.9 L177.9,134.1 L178.1,134.7 L178.2,135.0 L178.4,135.2 L178.5,135.3 L178.7,135.2 L178.8,135.4 L179.0,135.8 L179.1,137.0 L179.3,136.4 L179.4,137.0 L179.6,136.8 L179.7,136.9 L179.9,137.6 L180.0,137.6 L180.2,137.0 L180.3,136.8 L180.5,136.5 L180.6,136.3 L180.8,134.6 L180.9,134.4 L181.1,134.6 L181.2,134.3 L181.4,133.1 L181.5,132.5 L181.7,130.6 L181.8,129.5 L182.0,130.1 L182.1,128.0 L182.3,127.1 L182.4,126.8 L182.6,125.7 L182.7,125.2 L182.9,123.3 L183.0,122.3 L183.2,121.3 L183.3,121.5 L183.5,120.5 L183.6,119.7 L183.8,118.3 L183.9,117.4 L184.1,117.6 L184.2,117.0 L184.4,115.6 L184.5,115.1 L184.7,115.3 L184.8,114.8 L185.0,113.4 L185.1,113.1 L185.3,113.6 L185.4,113.2 L185.6,112.4 L185.7,112.8 L185.9,112.4 L186.0,111.8 L186.2,111.8 L186.3,111.2 L186.5,111.4 L186.6,110.8 L186.8,111.4 L186.9,110.7 L187.1,110.5 L187.2,112.1 L187.4,110.7 L187.5,111.0 L187.7,111.9 L187.8,110.6 L188.0,111.4 L188.1,111.3 L188.3,111.5 L188.4,111.6 L188.6,111.4 L188.7,112.0 L188.9,111.6 L189.0,110.9 L189.2,111.6 L189.3,110.9 L189.5,111.3 L189.6,112.4 L189.8,111.2 L189.9,111.9 L190.1,111.6 L190.2,113.2 L190.4,112.1 L190.5,113.2 L190.7,113.4 L190.8,114.4 L191.0,113.5 L191.1,113.9 L191.3,115.7 L191.4,115.2 L191.6,116.2 L191.7,117.6 L191.9,117.3 L192.0,117.9 L192.2,119.6 L192.3,120.4 L192.5,121.5 L192.6,122.0 L192.8,122.6 L192.9,122.9 L193.1,124.7 L193.2,125.3 L193.4,126.1 L193.5,127.3 L193.7,127.6 L193.8,129.8 L194.0,129.8 L194.1,131.6 L194.3,132.3 L194.4,132.9 L194.6,133.2 L194.7,134.7 L194.9,134.9 L195.0,136.5 L195.2,136.2 L195.3,137.6 L195.5,136.9 L195.6,138.6 L195.8,138.5 L195.9,139.0 L196.1,139.3 L196.2,140.1 L196.4,139.6 L196.5,140.2 L196.7,139.8 L196.8,139.3 L197.0,139.9 L197.1,139.4 L197.3,139.0 L197.4,139.1 L197.6,137.6 L197.7,137.2 L197.9,137.5 L198.0,136.8 L198.2,136.1 L198.3,136.0 L198.5,135.4 L198.6,136.4 L198.8,135.2 L198.9,135.0 L199.1,135.8 L199.2,135.5 L199.4,135.5 L199.5,136.4 L199.7,136.6 L199.8,137.0 L200.0,137.9 L200.1,138.0 L200.3,140.6 L200.4,136.7 L200.6,143.0 L200.7,139.7 L200.9,140.6 L201.0,144.6 L201.2,145.0 L201.3,140.2 L201.5,142.4 L201.6,144.1 L201.8,143.2 L201.9,147.3 L202.1,141.6 L202.2,148.2 L202.4,145.1 L202.5,145.7 L202.7,146.4 L202.8,143.1 L203.0,144.7 L203.1,142.9 L203.3,146.1 L203.4,144.1 L203.6,142.6 L203.7,149.2 L203.9,144.6 L204.0,150.0 L204.2,145.7 L204.3,147.6 L204.5,148.9 L204.6,146.6 L204.8,150.5 L204.9,149.4 L205.1,150.3 L205.2,147.1 L205.4,143.6 L205.5,144.1 L205.7,144.0 L205.8,147.6 L206.0,151.6 L206.1,148.0 L206.3,147.0 L206.4,144.2 L206.6,146.8 L206.7,143.9 L206.9,147.8 L207.0,147.9 L207.2,152.5 L207.3,147.6 L207.5,152.3 L207.6,144.5 L207.8,147.5 L207.9,151.2 L208.1,148.7 L208.2,145.3 L208.4,148.1 L208.5,149.1 L208.7,154.2 L208.8,147.4 L209.0,146.0 L209.1,152.7 L209.3,149.0 L209.4,155.4 L209.6,149.5 L209.7,149.0 L209.9,152.4 L210.0,154.5 L210.2,149.0 L210.3,155.2 L210.5,150.4 L210.6,151.2 L210.8,149.0 L210.9,147.4 L211.1,148.6 L211.2,149.2 L211.4,151.2 L211.5,151.8 L211.7,155.4 L211.8,150.6 L212.0,154.8 L212.1,149.7 L212.3,152.0 L212.4,148.0 L212.6,156.3 L212.7,150.9 L212.9,153.9 L213.0,153.2 L213.2,152.5 L213.3,150.0 L213.5,155.5 L213.6,152.5 L213.8,159.3 L213.9,148.9 L214.1,153.0 L214.2,153.7 L214.4,150.8 L214.5,150.5 L214.7,156.6 L214.8,155.2 L215.0,149.7 L215.1,156.6 L215.3,149.0 L215.4,157.1 L215.6,157.0 L215.7,149.8 L215.9,158.7 L216.0,157.9 L216.2,150.5 L216.3,155.4 L216.5,153.6 L216.6,149.5 L216.8,151.0 L216.9,151.1 L217.1,155.9 L217.2,154.9 L217.4,167.7 L217.5,152.3 L217.7,154.1 L217.8,153.1 L218.0,153.2 L218.1,155.3 L218.3,155.2 L218.4,156.5 L218.6,150.6 L218.7,152.3 L218.9,156.0 L219.0,157.4 L219.2,158.6 L219.3,153.4 L219.5,154.4 L219.6,150.2 L219.8,155.1 L219.9,153.0 L220.1,155.3 L220.2,156.1 L220.4,151.7 L220.5,150.7 L220.7,157.4 L220.8,157.5 L221.0,160.3 L221.1,155.3 L221.3,150.8 L221.4,150.9 L221.6,160.2 L221.7,157.8 L221.9,151.5 L222.0,154.6 L222.2,152.3 L222.3,158.4 L222.5,157.9 L222.6,160.0 L222.8,157.2 L222.9,154.6 L223.1,159.9 L223.2,154.4 L223.4,165.7 L223.5,152.8 L223.7,159.7 L223.8,156.8 L224.0,153.6 L224.1,159.5 L224.3,156.0 L224.4,160.2 L224.6,156.9 L224.7,156.6 L224.9,163.6 L225.0,152.7 L225.2,154.3 L225.3,160.0 L225.5,157.7 L225.6,158.7 L225.8,155.0 L225.9,152.8 L226.1,159.0 L226.2,155.1 L226.4,158.8 L226.5,151.5 L226.7,154.4 L226.8,157.5 L227.0,160.5 L227.1,152.9 L227.3,161.0 L227.4,157.8 L227.6,152.9 L227.7,151.0 L227.9,160.5 L228.0,157.9 L228.2,167.3 L228.3,155.2 L228.5,151.8 L228.6,155.9 L228.8,154.5 L228.9,153.8 L229.1,160.9 L229.2,159.0 L229.4,151.1 L229.5,154.0 L229.7,160.3 L229.8,158.7 L230.0,159.3 L230.1,152.9 L230.3,160.1 L230.4,157.8 L230.6,155.2 L230.7,158.1 L230.9,153.6 L231.0,160.4 L231.2,150.6 L231.3,153.8 L231.5,158.5 L231.6,155.4 L231.8,157.8 L231.9,159.7 L232.1,158.1 L232.2,154.8 L232.4,155.6 L232.5,152.9 L232.7,154.3 L232.8,151.2 L233.0,153.8 L233.1,158.3 L233.3,156.7 L233.4,154.5 L233.6,154.5 L233.7,153.0 L233.9,151.9 L234.0,152.7 L234.2,157.6 L234.3,160.8 L234.5,158.2 L234.6,154.7 L234.8,156.9 L234.9,152.5 L235.1,151.9 L235.2,151.7 L235.4,157.0 L235.5,157.2 L235.7,152.7 L235.8,160.9 L236.0,152.5 L236.1,156.4 L236.3,157.8 L236.4,151.4 L236.6,153.9 L236.7,156.6 L236.9,158.1 L237.0,158.1 L237.2,157.9 L237.3,151.8 L237.5,151.6 L237.6,159.9 L237.8,152.5 L237.9,154.8 L238.1,159.7 L238.2,151.4 L238.4,159.9 L238.5,157.8 L238.7,155.0 L238.8,153.4 L239.0,156.3 L239.1,159.5 L239.3,153.0 L239.4,153.5 L239.6,156.1 L239.7,159.3 L239.9,155.2 L240.0,155.1 L240.2,160.8 L240.3,156.4 L240.5,158.9 L240.6,157.7 L240.8,156.4 L240.9,155.2 L241.1,157.5 L241.2,159.3 L241.4,152.1 L241.5,153.4 L241.7,152.7 L241.8,158.9 L242.0,153.8 L242.1,155.0 L242.3,153.6 L242.4,160.2 L242.6,150.3 L242.7,152.1 L242.9,159.1 L243.0,154.8 L243.2,153.8 L243.3,159.7 L243.5,151.0 L243.6,150.0 L243.8,159.2 L243.9,158.2 L244.1,155.2 L244.2,152.3 L244.4,157.6 L244.5,151.1 L244.7,153.8 L244.8,151.1 L245.0,153.4 L245.1,149.2 L245.3,153.8 L245.4,153.7 L245.6,159.1 L245.7,152.8 L245.9,153.8 L246.0,150.3 L246.2,151.6 L246.3,150.9 L246.5,158.5 L246.6,149.7 L246.8,154.9 L246.9,156.8 L247.1,157.8 L247.2,155.3 L247.4,149.9 L247.5,157.4 L247.7,152.0 L247.8,153.2 L248.0,156.8 L248.1,147.8 L248.3,154.9 L248.4,155.2 L248.6,154.2 L248.7,149.3 L248.9,166.9 L249.0,149.7 L249.2,150.4 L249.3,155.5 L249.5,156.3 L249.6,149.6 L249.8,151.7 L249.9,155.3 L250.1,152.1 L250.2,147.6 L250.4,150.3 L250.5,152.8 L250.7,153.7 L250.8,161.9 L251.0,148.2 L251.1,154.0 L251.3,149.1 L251.4,148.5 L251.6,148.8 L251.7,148.2 L251.9,147.1 L252.0,149.5 L252.2,147.5 L252.3,151.9 L252.5,146.5 L252.6,148.9 L252.8,154.5 L252.9,149.6 L253.1,151.2 L253.2,147.2 L253.4,152.5 L253.5,145.6 L253.7,153.9 L253.8,153.9 L254.0,151.1 L254.1,144.4 L254.3,151.5 L254.4,151.8 L254.6,150.3 L254.7,151.3 L254.9,146.3 L255.0,151.1 L255.2,145.7 L255.3,148.2 L255.5,147.1 L255.6,145.3 L255.8,145.5 L255.9,151.2 L256.1,143.5 L256.2,147.3 L256.4,147.0 L256.5,143.5 L256.7,143.1 L256.8,146.2 L257.0,145.3 L257.1,144.3 L257.3,144.1 L257.4,143.7 L257.6,147.1 L257.7,149.9 L257.9,143.9 L258.0,144.5 L258.2,146.9 L258.3,143.4 L258.5,141.7 L258.6,145.8 L258.8,143.2 L258.9,140.1 L259.1,142.6 L259.2,146.8 L259.4,147.0 L259.5,146.3 L259.7,143.9 L259.8,145.3 L260.0,143.0 L260.1,143.8 L260.3,144.8 L260.4,139.3 L260.6,138.6 L260.7,141.6 L260.9,140.7 L261.0,140.6 L261.2,138.7 L261.3,142.9 L261.5,138.7 L261.6,139.8 L261.8,136.0 L261.9,137.1 L262.1,136.7 L262.2,140.1 L262.4,135.3 L262.5,136.6 L262.7,137.2 L262.8,136.1 L263.0,136.1 L263.1,134.0 L263.3,132.9 L263.4,132.6 L263.6,132.8 L263.7,132.1 L263.9,131.2 L264.0,131.0 L264.2,129.7 L264.3,128.8 L264.5,128.1 L264.6,127.2 L264.8,126.3 L264.9,125.1 L265.1,123.7 L265.2,122.7 L265.4,121.2 L265.5,119.8 L265.7,118.5 L265.8,117.0 L266.0,115.1 L266.1,112.8 L266.3,110.8 L266.4,108.6 L266.6,105.9 L266.7,102.6 L266.9,99.5 L267.0,96.0 L267.2,91.8 L267.3,87.3 L267.5,82.6 L267.6,77.6 L267.8,72.7 L267.9,68.0 L268.1,63.9 L268.2,61.3 L268.4,60.3 L268.5,61.4 L268.7,64.0 L268.8,68.0 L269.0,72.9 L269.1,77.6 L269.3,82.6 L269.4,87.7 L269.6,92.1 L269.7,96.4 L269.9,99.8 L270.0,103.2 L270.2,106.2 L270.3,108.6 L270.5,110.9 L270.6,113.3 L270.8,115.2 L270.9,117.0 L271.1,118.7 L271.2,120.3 L271.4,121.9 L271.5,123.3 L271.7,124.5 L271.8,125.7 L272.0,126.5 L272.1,127.8 L272.3,128.9 L272.4,129.8 L272.6,130.2 L272.7,131.1 L272.9,132.5 L273.0,133.0 L273.2,133.2 L273.3,135.3 L273.5,136.3 L273.6,135.6 L273.8,134.9 L273.9,138.7 L274.1,136.9 L274.2,136.7 L274.4,135.9 L274.5,141.0 L274.7,140.0 L274.8,136.7 L275.0,137.7 L275.1,142.9 L275.3,137.6 L275.4,142.1 L275.6,141.7 L275.7,141.5 L275.9,143.3 L276.0,141.0 L276.2,143.5 L276.3,145.7 L276.5,143.7 L276.6,143.6 L276.8,144.5 L276.9,141.4 L277.1,142.6 L277.2,144.3 L277.4,145.2 L277.5,141.7 L277.7,148.3 L277.8,144.6 L278.0,143.4 L278.1,142.7 L278.3,149.7 L278.4,148.2 L278.6,144.7 L278.7,143.8 L278.9,157.8 L279.0,143.8 L279.2,146.3 L279.3,148.9 L279.5,151.5 L279.6,149.4 L279.8,144.2 L279.9,148.2 L280.1,152.0 L280.2,146.1 L280.4,144.6 L280.5,144.4 L280.7,151.9 L280.8,153.0 L281.0,148.6 L281.1,147.3 L281.3,148.3 L281.4,146.3 L281.6,148.9 L281.7,149.4 L281.9,150.1 L282.0,146.1 L282.2,154.6 L282.3,151.3 L282.5,150.9 L282.6,153.5 L282.8,146.0 L282.9,151.4 L283.1,149.3 L283.2,163.9 L283.4,155.1 L283.5,146.7 L283.7,147.8 L283.8,149.6 L284.0,151.5 L284.1,154.5 L284.3,153.7 L284.4,151.9 L284.6,148.4 L284.7,151.6 L284.9,151.0 L285.0,146.4 L285.2,155.9 L285.3,155.2 L285.5,160.6 L285.6,146.9 L285.8,152.8 L285.9,150.3 L286.1,153.6 L286.2,147.5 L286.4,153.2 L286.5,152.9 L286.7,156.6 L286.8,164.8 L287.0,155.2 L287.1,149.6 L287.3,153.0 L287.4,150.7 L287.6,157.4 L287.7,157.1 L287.9,149.9 L288.0,153.7 L288.2,148.1 L288.3,152.9 L288.5,165.1 L288.6,148.8 L288.8,154.7 L288.9,152.5 L289.1,157.2 L289.2,151.2 L289.4,155.4 L289.5,152.9 L289.7,154.9 L289.8,153.2 L290.0,153.0 L290.1,149.4 L290.3,152.2 L290.4,153.9 L290.6,154.0 L290.7,151.9 L290.9,149.9 L291.0,146.0 L291.2,146.0 L291.3,150.9 L291.5,148.2 L291.6,150.5 L291.8,148.7 L291.9,147.2 L292.1,145.1 L292.2,150.6 L292.4,145.0 L292.5,147.9 L292.7,142.9 L292.8,148.5 L293.0,142.7 L293.1,145.4 L293.3,147.7 L293.4,142.5 L293.6,145.7 L293.7,143.5 L293.9,147.7 L294.0,140.9 L294.2,141.2 L294.3,142.8 L294.5,144.8 L294.6,143.9 L294.8,140.8 L294.9,143.2 L295.1,139.9 L295.2,144.7 L295.4,142.1 L295.5,147.3 L295.7,143.0 L295.8,140.4 L296.0,140.2 L296.1,143.1 L296.3,142.8 L296.4,149.0 L296.6,148.0 L296.7,144.8 L296.9,144.2 L297.0,142.9 L297.2,143.8 L297.3,150.0 L297.5,144.1 L297.6,151.4 L297.8,148.2 L297.9,151.5 L298.1,151.4 L298.2,146.9 L298.4,152.5 L298.5,155.5 L298.7,148.2 L298.8,157.4 L299.0,156.1 L299.1,154.5 L299.3,155.9 L299.4,149.6 L299.6,151.8 L299.7,159.2 L299.9,159.1 L300.0,152.7 L300.2,156.4 L300.3,154.6 L300.5,153.2 L300.6,158.7 L300.8,158.8 L300.9,152.7 L301.1,159.1 L301.2,151.4 L301.4,153.5 L301.5,156.9 L301.7,153.1 L301.8,157.3 L302.0,167.1 L302.1,155.7 L302.3,160.3 L302.4,153.9 L302.6,154.2 L302.7,158.5 L302.9,153.6 L303.0,161.3 L303.2,162.7 L303.3,153.6 L303.5,161.9 L303.6,159.5 L303.8,163.8 L303.9,162.0 L304.1,163.1 L304.2,162.6 L304.4,162.7 L304.5,161.7 L304.7,169.1 L304.8,154.8 L305.0,162.3 L305.1,161.0 L305.3,157.8 L305.4,158.6 L305.6,153.4 L305.7,157.3 L305.9,161.6 L306.0,156.9 L306.2,163.8 L306.3,156.9 L306.5,156.6 L306.6,161.9 L306.8,164.2 L306.9,158.1 L307.1,158.4 L307.2,154.9 L307.4,156.8 L307.5,163.9 L307.7,164.6 L307.8,159.6 L308.0,163.4 L308.1,156.8 L308.3,166.7 L308.4,164.1 L308.6,158.2 L308.7,171.4 L308.9,162.4 L309.0,156.1 L309.2,157.4 L309.3,160.9 L309.5,157.4 L309.6,156.4 L309.8,153.8 L309.9,162.9 L310.1,159.6 L310.2,160.6 L310.4,161.5 L310.5,158.2 L310.7,161.7 L310.8,159.6 L311.0,155.9 L311.1,160.4 L311.3,160.1 L311.4,162.1 L311.6,165.0 L311.7,155.5 L311.9,168.0 L312.0,162.3 L312.2,157.6 L312.3,159.5 L312.5,162.5 L312.6,160.7 L312.8,159.4 L312.9,161.1 L313.1,161.4 L313.2,156.0 L313.4,158.9 L313.5,164.4 L313.7,156.8 L313.8,160.6 L314.0,161.8 L314.1,156.4 L314.3,157.3 L314.4,158.6 L314.6,161.4 L314.7,156.5 L314.9,163.2 L315.0,162.3 L315.2,163.6 L315.3,157.7 L315.5,160.9 L315.6,164.2" fill="none" stroke="#6cc1ea" stroke-width="0.7"/>
<path d="M47.6,108.3 L47.8,107.6 L47.9,111.5 L48.0,105.9 L48.2,104.9 L48.3,112.3 L48.5,113.0 L48.6,107.3 L48.8,109.8 L48.9,102.5 L49.1,108.6 L49.2,110.8 L49.4,106.8 L49.5,107.9 L49.7,111.2 L49.8,110.9 L50.0,104.3 L50.1,112.4 L50.3,104.6 L50.4,115.6 L50.6,106.1 L50.7,119.4 L50.9,106.1 L51.0,112.6 L51.2,107.2 L51.3,111.1 L51.5,115.9 L51.6,115.4 L51.8,104.1 L51.9,110.1 L52.1,109.3 L52.2,112.3 L52.4,107.8 L52.5,107.4 L52.7,103.7 L52.8,104.0 L53.0,110.4 L53.1,104.6 L53.3,106.1 L53.4,107.7 L53.6,104.5 L53.7,104.0 L53.9,115.1 L54.0,108.2 L54.2,106.1 L54.3,112.4 L54.5,103.7 L54.6,106.6 L54.8,130.7 L54.9,114.7 L55.1,111.5 L55.2,104.8 L55.4,107.5 L55.5,102.9 L55.7,106.3 L55.8,103.9 L56.0,105.2 L56.1,111.5 L56.3,104.8 L56.4,105.5 L56.6,114.8 L56.7,107.8 L56.9,107.7 L57.0,104.7 L57.2,113.5 L57.3,112.0 L57.5,110.4 L57.6,111.3 L57.8,104.8 L57.9,106.8 L58.1,110.8 L58.2,113.1 L58.4,113.7 L58.5,111.5 L58.7,110.0 L58.8,103.8 L59.0,114.6 L59.1,104.2 L59.3,105.2 L59.4,112.2 L59.6,113.7 L59.7,113.3 L59.9,109.2 L60.0,105.8 L60.2,104.0 L60.3,114.1 L60.5,115.7 L60.6,106.6 L60.8,114.3 L60.9,108.6 L61.1,107.4 L61.2,109.8 L61.4,103.7 L61.5,109.1 L61.7,106.1 L61.8,112.4 L62.0,109.8 L62.1,114.3 L62.3,114.7 L62.4,107.5 L62.6,107.0 L62.7,115.2 L62.9,109.8 L63.0,104.8 L63.2,104.1 L63.3,115.8 L63.5,110.7 L63.6,104.2 L63.8,109.9 L63.9,109.8 L64.1,109.0 L64.2,125.2 L64.4,115.3 L64.5,105.1 L64.7,105.4 L64.8,121.0 L65.0,113.9 L65.1,111.3 L65.3,120.6 L65.4,110.7 L65.6,106.1 L65.7,113.7 L65.9,103.7 L66.0,112.2 L66.2,105.9 L66.3,109.4 L66.5,115.6 L66.6,110.2 L66.8,104.2 L66.9,106.2 L67.1,111.1 L67.2,104.2 L67.4,105.4 L67.5,103.7 L67.7,110.2 L67.8,108.2 L68.0,109.8 L68.1,107.2 L68.3,108.1 L68.4,105.6 L68.6,114.7 L68.7,115.4 L68.9,109.6 L69.0,109.3 L69.2,114.1 L69.3,107.1 L69.5,113.4 L69.6,107.0 L69.8,112.4 L69.9,107.6 L70.1,110.9 L70.2,114.9 L70.4,104.1 L70.5,113.5 L70.7,110.2 L70.8,108.1 L71.0,107.8 L71.1,104.3 L71.3,106.6 L71.4,111.1 L71.6,104.6 L71.7,111.7 L71.9,115.3 L72.0,115.5 L72.2,114.4 L72.3,113.4 L72.5,105.6 L72.6,115.4 L72.8,105.9 L72.9,114.1 L73.1,112.7 L73.2,108.4 L73.4,109.8 L73.5,105.8 L73.7,109.7 L73.8,106.9 L74.0,101.4 L74.1,104.8 L74.3,113.2 L74.4,114.7 L74.6,105.0 L74.7,103.4 L74.9,106.5 L75.0,104.8 L75.2,104.0 L75.3,110.4 L75.5,116.0 L75.6,108.4 L75.8,105.6 L75.9,111.3 L76.1,106.6 L76.2,107.9 L76.4,108.7 L76.5,114.1 L76.7,106.0 L76.8,111.8 L77.0,106.7 L77.1,113.9 L77.3,107.7 L77.4,109.0 L77.6,113.5 L77.7,111.0 L77.9,103.8 L78.0,104.2 L78.2,114.7 L78.3,102.8 L78.5,106.1 L78.6,114.1 L78.8,102.4 L78.9,104.1 L79.1,104.6 L79.2,103.0 L79.4,107.6 L79.5,109.0 L79.7,105.5 L79.8,118.2 L80.0,111.2 L80.1,110.9 L80.3,107.8 L80.4,102.3 L80.6,107.0 L80.7,117.8 L80.9,105.0 L81.0,110.0 L81.2,103.8 L81.3,104.8 L81.5,99.5 L81.6,104.3 L81.8,106.0 L81.9,104.7 L82.1,98.3 L82.2,105.6 L82.4,101.2 L82.5,96.6 L82.7,94.9 L82.8,96.4 L83.0,87.2 L83.1,90.4 L83.3,88.2 L83.4,84.4 L83.6,83.3 L83.7,80.2 L83.9,79.1 L84.0,78.7 L84.2,80.6 L84.3,80.9 L84.5,84.4 L84.6,85.1 L84.8,91.6 L84.9,94.6 L85.1,88.9 L85.2,100.0 L85.4,97.9 L85.5,93.8 L85.7,99.6 L85.8,95.7 L86.0,102.4 L86.1,110.4 L86.3,101.8 L86.4,101.7 L86.6,105.8 L86.7,107.9 L86.9,110.8 L87.0,103.8 L87.2,107.0 L87.3,100.4 L87.5,105.0 L87.6,112.6 L87.8,102.5 L87.9,111.9 L88.1,109.4 L88.2,105.2 L88.4,111.3 L88.5,118.1 L88.7,113.0 L88.8,103.1 L89.0,103.6 L89.1,111.5 L89.3,107.9 L89.4,102.6 L89.6,108.8 L89.7,106.2 L89.9,109.4 L90.0,111.9 L90.2,113.3 L90.3,103.5 L90.5,110.2 L90.6,115.0 L90.8,108.6 L90.9,112.5 L91.1,104.2 L91.2,113.8 L91.4,110.3 L91.5,114.1 L91.7,112.9 L91.8,110.5 L92.0,103.9 L92.1,112.1 L92.3,105.7 L92.4,106.5 L92.6,107.3 L92.7,110.6 L92.9,111.1 L93.0,114.9 L93.2,103.5 L93.3,105.8 L93.5,107.9 L93.6,113.5 L93.8,110.2 L93.9,109.8 L94.1,112.9 L94.2,111.3 L94.4,107.1 L94.5,104.6 L94.7,109.2 L94.8,114.4 L95.0,110.9 L95.1,101.8 L95.3,109.0 L95.4,108.3 L95.6,110.8 L95.7,110.8 L95.9,115.4 L96.0,107.4 L96.2,108.5 L96.3,111.2 L96.5,114.6 L96.6,112.4 L96.8,109.5 L96.9,113.0 L97.1,109.7 L97.2,115.6 L97.4,107.2 L97.5,105.2 L97.7,114.0 L97.8,107.4 L98.0,114.2 L98.1,111.2 L98.3,110.0 L98.4,104.8 L98.6,113.5 L98.7,104.5 L98.9,115.7 L99.0,114.6 L99.2,107.5 L99.3,105.3 L99.5,114.1 L99.6,109.7 L99.8,105.3 L99.9,109.9 L100.1,106.5 L100.2,108.8 L100.4,111.7 L100.5,112.3 L100.7,113.7 L100.8,105.8 L101.0,109.7 L101.1,109.9 L101.3,116.1 L101.4,104.9 L101.6,110.1 L101.7,115.1 L101.9,108.7 L102.0,107.0 L102.2,110.7 L102.3,105.6 L102.5,115.3 L102.6,104.9 L102.8,106.4 L102.9,104.9 L103.1,112.7 L103.2,107.5 L103.4,115.0 L103.5,114.9 L103.7,115.4 L103.8,115.4 L104.0,100.6 L104.1,108.7 L104.3,115.8 L104.4,113.3 L104.6,104.6 L104.7,112.6 L104.9,115.2 L105.0,115.9 L105.2,112.7 L105.3,114.6 L105.5,114.3 L105.6,108.3 L105.8,105.1 L105.9,112.9 L106.1,105.6 L106.2,108.6 L106.4,116.2 L106.5,107.2 L106.7,110.4 L106.8,115.6 L107.0,107.4 L107.1,116.3 L107.3,115.2 L107.4,108.4 L107.6,108.0 L107.7,105.5 L107.9,115.3 L108.0,106.2 L108.2,104.0 L108.3,114.9 L108.5,111.3 L108.6,112.2 L108.8,113.0 L108.9,104.4 L109.1,105.1 L109.2,110.1 L109.4,104.5 L109.5,110.2 L109.7,113.1 L109.8,112.1 L110.0,111.6 L110.1,104.5 L110.3,106.9 L110.4,115.1 L110.6,105.5 L110.7,110.5 L110.9,104.6 L111.0,115.6 L111.2,106.1 L111.3,109.0 L111.5,107.3 L111.6,112.9 L111.8,115.6 L111.9,113.1 L112.1,108.3 L112.2,104.9 L112.4,112.7 L112.5,116.0 L112.7,104.2 L112.8,113.6 L113.0,102.9 L113.1,109.7 L113.3,110.4 L113.4,111.6 L113.6,116.2 L113.7,112.5 L113.9,108.8 L114.0,112.8 L114.2,109.7 L114.3,109.1 L114.5,108.5 L114.6,110.1 L114.8,107.4 L114.9,107.0 L115.1,105.8 L115.2,109.4 L115.4,107.6 L115.5,114.3 L115.7,114.5 L115.8,108.2 L116.0,111.6 L116.1,115.1 L116.3,108.4 L116.4,110.8 L116.6,117.7 L116.7,112.0 L116.9,115.9 L117.0,105.7 L117.2,115.9 L117.3,112.2 L117.5,113.8 L117.6,111.8 L117.8,114.8 L117.9,108.0 L118.1,112.7 L118.2,107.2 L118.4,110.3 L118.5,112.4 L118.7,106.5 L118.8,104.7 L119.0,113.8 L119.1,114.0 L119.3,110.6 L119.4,107.9 L119.6,112.1 L119.7,104.1 L119.9,108.8 L120.0,111.1 L120.2,111.6 L120.3,109.5 L120.5,106.7 L120.6,113.0 L120.8,109.7 L120.9,113.2 L121.1,108.5 L121.2,114.9 L121.4,110.7 L121.5,109.2 L121.7,115.4 L121.8,115.0 L122.0,104.7 L122.1,113.5 L122.3,107.2 L122.4,112.6 L122.6,108.6 L122.7,107.9 L122.9,109.5 L123.0,110.5 L123.2,112.5 L123.3,111.8 L123.5,112.3 L123.6,108.7 L123.8,112.3 L123.9,108.2 L124.1,111.2 L124.2,109.6 L124.4,110.9 L124.5,104.1 L124.7,110.1 L124.8,106.6 L125.0,108.7 L125.1,104.8 L125.3,109.3 L125.4,114.8 L125.6,108.3 L125.7,102.3 L125.9,111.6 L126.0,105.5 L126.2,115.0 L126.3,105.4 L126.5,108.4 L126.6,110.0 L126.8,105.4 L126.9,107.8 L127.1,107.3 L127.2,112.7 L127.4,116.1 L127.5,108.4 L127.7,113.7 L127.8,105.6 L128.0,111.1 L128.1,109.2 L128.3,107.4 L128.4,114.1 L128.6,113.1 L128.7,105.5 L128.9,114.8 L129.0,114.0 L129.2,116.2 L129.3,111.4 L129.5,114.7 L129.6,116.0 L129.8,113.0 L129.9,111.8 L130.1,106.6 L130.2,108.4 L130.4,111.6 L130.5,115.3 L130.7,107.6 L130.8,108.7 L131.0,104.1 L131.1,112.4 L131.3,109.3 L131.4,113.7 L131.6,106.7 L131.7,112.0 L131.9,112.1 L132.0,107.2 L132.2,106.1 L132.3,108.8 L132.5,113.0 L132.6,106.1 L132.8,104.9 L132.9,109.5 L133.1,106.7 L133.2,113.7 L133.4,113.9 L133.5,115.5 L133.7,114.2 L133.8,111.8 L134.0,106.0 L134.1,113.9 L134.3,112.7 L134.4,113.0 L134.6,112.4 L134.7,114.0 L134.9,107.4 L135.0,112.0 L135.2,110.1 L135.3,107.9 L135.5,107.7 L135.6,105.6 L135.8,109.8 L135.9,108.2 L136.1,108.9 L136.2,114.2 L136.4,112.1 L136.5,112.1 L136.7,115.8 L136.8,106.3 L137.0,108.8 L137.1,104.8 L137.3,108.5 L137.4,115.4 L137.6,104.7 L137.7,113.0 L137.9,112.5 L138.0,109.9 L138.2,113.5 L138.3,109.0 L138.5,108.0 L138.6,109.8 L138.8,106.0 L138.9,107.4 L139.1,107.3 L139.2,114.3 L139.4,107.7 L139.5,106.4 L139.7,115.2 L139.8,105.2 L140.0,115.5 L140.1,114.1 L140.3,111.5 L140.4,108.8 L140.6,105.9 L140.7,104.8 L140.9,104.7 L141.0,107.3 L141.2,108.5 L141.3,114.9 L141.5,110.1 L141.6,115.7 L141.8,120.1 L141.9,105.2 L142.1,110.3 L142.2,105.4 L142.4,103.9 L142.5,115.1 L142.7,107.6 L142.8,103.4 L143.0,104.1 L143.1,111.4 L143.3,109.1 L143.4,103.5 L143.6,112.2 L143.7,106.5 L143.9,113.0 L144.0,109.4 L144.2,109.9 L144.3,124.0 L144.5,111.6 L144.6,115.5 L144.8,113.1 L144.9,104.1 L145.1,109.4 L145.2,106.1 L145.4,104.5 L145.5,105.6 L145.7,106.3 L145.8,115.1 L146.0,110.6 L146.1,111.2 L146.3,111.8 L146.4,107.1 L146.6,108.0 L146.7,108.6 L146.9,106.8 L147.0,108.3 L147.2,112.7 L147.3,104.0 L147.5,106.5 L147.6,109.0 L147.8,111.4 L147.9,111.0 L148.1,112.0 L148.2,101.0 L148.4,105.2 L148.5,106.8 L148.7,106.5 L148.8,112.3 L149.0,115.3 L149.1,111.4 L149.3,103.3 L149.4,106.6 L149.6,112.9 L149.7,114.4 L149.9,110.3 L150.0,107.2 L150.2,107.3 L150.3,110.7 L150.5,113.5 L150.6,107.0 L150.8,105.2 L150.9,102.8 L151.1,104.5 L151.2,113.3 L151.4,119.4 L151.5,115.0 L151.7,103.6 L151.8,107.3 L152.0,112.6 L152.1,110.9 L152.3,103.5 L152.4,107.6 L152.6,110.5 L152.7,111.1 L152.9,108.2 L153.0,104.9 L153.2,114.5 L153.3,108.3 L153.5,111.4 L153.6,109.2 L153.8,103.5 L153.9,105.4 L154.1,103.3 L154.2,104.8 L154.4,104.9 L154.5,107.6 L154.7,106.4 L154.8,106.9 L155.0,112.5 L155.1,102.6 L155.3,103.6 L155.4,112.3 L155.6,108.9 L155.7,107.7 L155.9,105.6 L156.0,109.0 L156.2,105.0 L156.3,112.8 L156.5,112.4 L156.6,106.2 L156.8,102.5 L156.9,113.1 L157.1,119.8 L157.2,110.2 L157.4,112.7 L157.5,109.0 L157.7,112.7 L157.8,108.1 L158.0,112.4 L158.1,107.7 L158.3,105.2 L158.4,107.9 L158.6,106.1 L158.7,111.4 L158.9,112.1 L159.0,103.6 L159.2,103.9 L159.3,106.5 L159.5,107.5 L159.6,113.5 L159.8,113.3 L159.9,113.6 L160.1,110.7 L160.2,110.0 L160.4,105.0 L160.5,106.2 L160.7,101.6 L160.8,111.8 L161.0,104.9 L161.1,102.5 L161.3,105.3 L161.4,105.4 L161.6,110.3 L161.7,101.4 L161.9,104.2 L162.0,112.3 L162.2,111.8 L162.3,109.0 L162.5,108.1 L162.6,103.9 L162.8,111.9 L162.9,107.0 L163.1,106.1 L163.2,103.0 L163.4,103.7 L163.5,105.7 L163.7,105.0 L163.8,101.7 L164.0,105.9 L164.1,106.4 L164.3,102.9 L164.4,105.5 L164.6,104.8 L164.7,105.3 L164.9,108.3 L165.0,106.7 L165.2,103.0 L165.3,110.3 L165.5,106.8 L165.6,106.1 L165.8,109.1 L165.9,109.6 L166.1,110.7 L166.2,109.2 L166.4,108.4 L166.5,109.0 L166.7,114.9 L166.8,108.6 L167.0,103.2 L167.1,103.2 L167.3,101.4 L167.4,101.4 L167.6,100.1 L167.7,107.8 L167.9,108.9 L168.0,109.1 L168.2,101.2 L168.3,104.7 L168.5,109.7 L168.6,99.9 L168.8,101.8 L168.9,102.6 L169.1,104.9 L169.2,101.3 L169.4,105.7 L169.5,103.3 L169.7,107.0 L169.8,105.4 L170.0,107.2 L170.1,101.8 L170.3,107.3 L170.4,107.6 L170.6,107.3 L170.7,99.4 L170.9,109.9 L171.0,105.4 L171.2,101.6 L171.3,103.5 L171.5,112.6 L171.6,102.4 L171.8,101.0 L171.9,101.1 L172.1,102.2 L172.2,107.1 L172.4,102.1 L172.5,98.1 L172.7,102.9 L172.8,99.8 L173.0,97.5 L173.1,108.8 L173.3,100.6 L173.4,103.4 L173.6,101.2 L173.7,97.5 L173.9,107.3 L174.0,107.6 L174.2,98.7 L174.3,101.3 L174.5,100.4 L174.6,94.7 L174.8,103.8 L174.9,105.0 L175.1,104.6 L175.2,103.5 L175.4,95.8 L175.5,98.1 L175.7,101.2 L175.8,103.2 L176.0,99.5 L176.1,100.0 L176.3,104.3 L176.4,94.9 L176.6,97.5 L176.7,97.6 L176.9,105.3 L177.0,96.6 L177.2,94.4 L177.3,98.3 L177.5,100.7 L177.6,95.1 L177.8,102.4 L177.9,95.2 L178.1,100.5 L178.2,94.4 L178.4,101.9 L178.5,94.5 L178.7,99.9 L178.8,100.7 L179.0,102.8 L179.1,102.5 L179.3,97.1 L179.4,96.2 L179.6,95.8 L179.7,98.5 L179.9,95.1 L180.0,95.2 L180.2,94.8 L180.3,94.2 L180.5,93.5 L180.6,90.9 L180.8,91.9 L180.9,91.3 L181.1,90.9 L181.2,95.4 L181.4,89.1 L181.5,89.6 L181.7,92.1 L181.8,89.9 L182.0,89.0 L182.1,89.8 L182.3,90.4 L182.4,91.4 L182.6,93.2 L182.7,91.8 L182.9,88.3 L183.0,88.1 L183.2,87.4 L183.3,85.8 L183.5,89.9 L183.6,84.0 L183.8,84.4 L183.9,86.5 L184.1,85.5 L184.2,82.1 L184.4,86.0 L184.5,83.0 L184.7,83.1 L184.8,79.9 L185.0,82.6 L185.1,79.7 L185.3,79.7 L185.4,79.5 L185.6,78.6 L185.7,77.6 L185.9,76.6 L186.0,75.2 L186.2,73.9 L186.3,73.0 L186.5,71.4 L186.6,70.6 L186.8,68.5 L186.9,67.1 L187.1,65.3 L187.2,63.4 L187.4,61.9 L187.5,59.8 L187.7,58.5 L187.8,56.8 L188.0,55.1 L188.1,54.2 L188.3,53.4 L188.4,52.7 L188.6,53.1 L188.7,53.7 L188.9,54.4 L189.0,55.6 L189.2,57.4 L189.3,59.1 L189.5,60.6 L189.6,62.3 L189.8,64.5 L189.9,66.1 L190.1,67.6 L190.2,69.3 L190.4,70.6 L190.5,72.4 L190.7,73.3 L190.8,74.4 L191.0,75.4 L191.1,76.6 L191.3,78.0 L191.4,78.3 L191.6,79.3 L191.7,81.2 L191.9,79.1 L192.0,81.0 L192.2,83.5 L192.3,81.4 L192.5,85.4 L192.6,85.7 L192.8,82.9 L192.9,85.8 L193.1,86.1 L193.2,87.4 L193.4,85.6 L193.5,86.5 L193.7,84.9 L193.8,86.7 L194.0,86.3 L194.1,91.9 L194.3,92.3 L194.4,88.7 L194.6,91.7 L194.7,90.5 L194.9,89.1 L195.0,90.0 L195.2,95.6 L195.3,90.6 L195.5,104.3 L195.6,96.6 L195.8,91.2 L195.9,96.1 L196.1,90.0 L196.2,96.1 L196.4,97.1 L196.5,97.7 L196.7,99.4 L196.8,97.1 L197.0,100.1 L197.1,93.4 L197.3,96.1 L197.4,93.2 L197.6,92.1 L197.7,96.0 L197.9,99.1 L198.0,100.0 L198.2,92.3 L198.3,102.2 L198.5,95.1 L198.6,95.8 L198.8,101.8 L198.9,102.7 L199.1,101.2 L199.2,97.0 L199.4,98.6 L199.5,102.9 L199.7,97.8 L199.8,103.0 L200.0,102.9 L200.1,99.6 L200.3,104.6 L200.4,99.0 L200.6,103.3 L200.7,102.2 L200.9,98.9 L201.0,101.3 L201.2,99.7 L201.3,101.7 L201.5,96.9 L201.6,107.2 L201.8,107.1 L201.9,96.5 L202.1,107.1 L202.2,102.5 L202.4,97.9 L202.5,106.1 L202.7,101.7 L202.8,105.1 L203.0,106.6 L203.1,103.3 L203.3,97.7 L203.4,106.9 L203.6,105.5 L203.7,108.2 L203.9,99.7 L204.0,106.9 L204.2,108.1 L204.3,102.0 L204.5,102.8 L204.6,102.0 L204.8,98.1 L204.9,100.9 L205.1,102.2 L205.2,99.6 L205.4,107.6 L205.5,103.6 L205.7,105.4 L205.8,102.1 L206.0,103.1 L206.1,107.9 L206.3,104.6 L206.4,106.2 L206.6,104.2 L206.7,105.9 L206.9,110.1 L207.0,102.5 L207.2,105.6 L207.3,107.8 L207.5,100.5 L207.6,111.2 L207.8,105.7 L207.9,102.7 L208.1,109.0 L208.2,109.8 L208.4,107.6 L208.5,111.1 L208.7,101.1 L208.8,106.5 L209.0,109.2 L209.1,111.4 L209.3,108.1 L209.4,107.7 L209.6,105.1 L209.7,107.4 L209.9,107.3 L210.0,111.6 L210.2,110.7 L210.3,109.7 L210.5,112.0 L210.6,101.6 L210.8,108.1 L210.9,106.5 L211.1,110.1 L211.2,104.6 L211.4,106.7 L211.5,111.2 L211.7,101.5 L211.8,104.7 L212.0,104.6 L212.1,111.7 L212.3,104.6 L212.4,111.4 L212.6,104.4 L212.7,105.1 L212.9,108.3 L213.0,109.5 L213.2,112.4 L213.3,112.4 L213.5,104.7 L213.6,110.6 L213.8,109.5 L213.9,106.5 L214.1,111.3 L214.2,112.7 L214.4,107.4 L214.5,113.2 L214.7,103.5 L214.8,104.0 L215.0,111.4 L215.1,105.8 L215.3,121.1 L215.4,108.2 L215.6,103.9 L215.7,111.5 L215.9,111.4 L216.0,104.0 L216.2,105.5 L216.3,112.2 L216.5,113.6 L216.6,113.1 L216.8,108.6 L216.9,107.0 L217.1,114.4 L217.2,104.7 L217.4,108.6 L217.5,105.4 L217.7,104.6 L217.8,107.3 L218.0,103.4 L218.1,108.5 L218.3,111.3 L218.4,110.8 L218.6,114.8 L218.7,113.3 L218.9,110.6 L219.0,113.9 L219.2,108.3 L219.3,112.7 L219.5,106.4 L219.6,109.4 L219.8,115.0 L219.9,110.3 L220.1,109.2 L220.2,112.7 L220.4,106.9 L220.5,113.3 L220.7,103.3 L220.8,106.0 L221.0,105.3 L221.1,106.3 L221.3,114.8 L221.4,103.4 L221.6,106.8 L221.7,110.3 L221.9,111.9 L222.0,112.8 L222.2,107.9 L222.3,105.9 L222.5,113.8 L222.6,104.7 L222.8,104.1 L222.9,106.1 L223.1,109.4 L223.2,112.2 L223.4,111.3 L223.5,110.3 L223.7,109.8 L223.8,111.9 L224.0,111.1 L224.1,107.5 L224.3,104.5 L224.4,105.9 L224.6,113.1 L224.7,111.2 L224.9,113.3 L225.0,104.0 L225.2,114.6 L225.3,108.2 L225.5,114.9 L225.6,110.8 L225.8,110.2 L225.9,113.6 L226.1,111.2 L226.2,111.8 L226.4,105.4 L226.5,110.9 L226.7,107.9 L226.8,104.4 L227.0,105.1 L227.1,109.4 L227.3,106.7 L227.4,112.9 L227.6,119.9 L227.7,103.6 L227.9,115.8 L228.0,107.3 L228.2,123.7 L228.3,106.1 L228.5,106.0 L228.6,108.4 L228.8,113.2 L228.9,103.9 L229.1,113.8 L229.2,115.7 L229.4,110.3 L229.5,107.9 L229.7,106.3 L229.8,105.7 L230.0,107.4 L230.1,113.9 L230.3,103.4 L230.4,113.1 L230.6,111.6 L230.7,103.6 L230.9,104.2 L231.0,112.4 L231.2,111.7 L231.3,107.2 L231.5,114.0 L231.6,105.9 L231.8,108.6 L231.9,104.7 L232.1,111.3 L232.2,104.3 L232.4,102.0 L232.5,112.7 L232.7,109.4 L232.8,108.0 L233.0,112.3 L233.1,108.0 L233.3,105.6 L233.4,111.8 L233.6,104.5 L233.7,106.4 L233.9,108.6 L234.0,104.5 L234.2,104.3 L234.3,111.1 L234.5,112.2 L234.6,107.6 L234.8,107.8 L234.9,105.5 L235.1,109.4 L235.2,110.1 L235.4,114.4 L235.5,103.3 L235.7,114.1 L235.8,115.0 L236.0,107.0 L236.1,109.1 L236.3,112.9 L236.4,107.0 L236.6,106.2 L236.7,108.7 L236.9,113.5 L237.0,103.9 L237.2,120.1 L237.3,102.8 L237.5,112.9 L237.6,112.1 L237.8,103.0 L237.9,111.6 L238.1,110.9 L238.2,103.9 L238.4,108.8 L238.5,108.7 L238.7,106.4 L238.8,106.6 L239.0,114.2 L239.1,121.1 L239.3,108.3 L239.4,102.9 L239.6,103.5 L239.7,112.5 L239.9,111.1 L240.0,112.3 L240.2,109.0 L240.3,109.0 L240.5,108.4 L240.6,110.9 L240.8,105.8 L240.9,107.8 L241.1,107.5 L241.2,107.9 L241.4,101.1 L241.5,101.9 L241.7,102.6 L241.8,100.1 L242.0,109.5 L242.1,106.7 L242.3,110.6 L242.4,106.8 L242.6,102.5 L242.7,106.9 L242.9,111.3 L243.0,107.4 L243.2,108.8 L243.3,105.6 L243.5,102.8 L243.6,108.6 L243.8,106.8 L243.9,102.8 L244.1,103.9 L244.2,109.3 L244.4,104.6 L244.5,107.7 L244.7,103.7 L244.8,109.7 L245.0,105.0 L245.1,106.3 L245.3,111.7 L245.4,109.1 L245.6,109.2 L245.7,100.9 L245.9,110.4 L246.0,104.8 L246.2,112.1 L246.3,110.9 L246.5,107.9 L246.6,109.9 L246.8,106.4 L246.9,108.6 L247.1,101.1 L247.2,111.6 L247.4,109.2 L247.5,101.2 L247.7,102.3 L247.8,106.3 L248.0,108.5 L248.1,100.9 L248.3,110.7 L248.4,103.2 L248.6,110.9 L248.7,107.9 L248.9,104.6 L249.0,103.1 L249.2,99.8 L249.3,99.6 L249.5,106.0 L249.6,107.7 L249.8,109.2 L249.9,102.6 L250.1,109.4 L250.2,101.6 L250.4,109.2 L250.5,108.8 L250.7,99.6 L250.8,107.9 L251.0,106.0 L251.1,105.8 L251.3,107.4 L251.4,103.7 L251.6,103.2 L251.7,101.4 L251.9,107.2 L252.0,107.5 L252.2,98.7 L252.3,105.8 L252.5,99.8 L252.6,110.1 L252.8,98.7 L252.9,102.9 L253.1,99.4 L253.2,98.8 L253.4,97.0 L253.5,99.5 L253.7,104.6 L253.8,95.8 L254.0,100.9 L254.1,102.2 L254.3,95.7 L254.4,98.4 L254.6,105.2 L254.7,106.0 L254.9,104.2 L255.0,103.9 L255.2,102.9 L255.3,99.2 L255.5,95.9 L255.6,99.2 L255.8,115.1 L255.9,103.2 L256.1,97.7 L256.2,93.9 L256.4,102.8 L256.5,103.5 L256.7,98.2 L256.8,95.0 L257.0,106.5 L257.1,99.6 L257.3,97.1 L257.4,95.5 L257.6,94.2 L257.7,94.5 L257.9,91.8 L258.0,93.7 L258.2,100.4 L258.3,90.7 L258.5,97.6 L258.6,98.0 L258.8,93.9 L258.9,95.5 L259.1,91.7 L259.2,95.6 L259.4,95.7 L259.5,95.6 L259.7,93.1 L259.8,97.1 L260.0,95.8 L260.1,92.9 L260.3,93.5 L260.4,87.2 L260.6,94.9 L260.7,92.0 L260.9,93.7 L261.0,88.5 L261.2,93.4 L261.3,86.4 L261.5,89.2 L261.6,85.8 L261.8,86.0 L261.9,89.5 L262.1,84.5 L262.2,86.1 L262.4,84.5 L262.5,87.6 L262.7,83.1 L262.8,83.0 L263.0,86.0 L263.1,84.6 L263.3,84.0 L263.4,84.4 L263.6,80.4 L263.7,81.8 L263.9,81.3 L264.0,80.4 L264.2,79.5 L264.3,78.0 L264.5,77.4 L264.6,76.9 L264.8,75.9 L264.9,74.7 L265.1,73.5 L265.2,72.7 L265.4,71.2 L265.5,70.3 L265.7,68.6 L265.8,67.3 L266.0,65.1 L266.1,63.4 L266.3,61.0 L266.4,59.0 L266.6,56.1 L266.7,52.7 L266.9,49.7 L267.0,45.5 L267.2,40.8 L267.3,36.1 L267.5,30.3 L267.6,24.7 L267.8,18.3 L267.9,13.1 L268.1,7.8 L268.2,5.0 L268.4,3.6 L268.5,4.8 L268.7,8.1 L268.8,12.5 L269.0,18.2 L269.1,24.1 L269.3,30.5 L269.4,35.7 L269.6,40.9 L269.7,45.2 L269.9,49.2 L270.0,53.2 L270.2,56.0 L270.3,58.8 L270.5,61.3 L270.6,63.5 L270.8,65.0 L270.9,66.8 L271.1,68.5 L271.2,69.8 L271.4,71.1 L271.5,72.8 L271.7,73.8 L271.8,74.7 L272.0,75.5 L272.1,76.8 L272.3,77.5 L272.4,78.1 L272.6,79.8 L272.7,80.7 L272.9,81.6 L273.0,82.1 L273.2,82.0 L273.3,81.8 L273.5,83.7 L273.6,82.1 L273.8,84.7 L273.9,82.5 L274.1,82.7 L274.2,86.9 L274.4,85.3 L274.5,87.9 L274.7,88.9 L274.8,89.8 L275.0,88.8 L275.1,90.8 L275.3,95.4 L275.4,92.3 L275.6,92.6 L275.7,86.4 L275.9,88.5 L276.0,89.8 L276.2,87.7 L276.3,88.7 L276.5,94.9 L276.6,87.9 L276.8,89.5 L276.9,94.9 L277.1,90.4 L277.2,91.0 L277.4,97.8 L277.5,96.2 L277.7,91.6 L277.8,90.9 L278.0,92.4 L278.1,99.5 L278.3,98.0 L278.4,91.1 L278.6,97.7 L278.7,93.8 L278.9,98.3 L279.0,94.2 L279.2,92.7 L279.3,91.7 L279.5,94.8 L279.6,112.3 L279.8,101.5 L279.9,99.5 L280.1,100.4 L280.2,94.7 L280.4,96.6 L280.5,102.6 L280.7,103.7 L280.8,98.0 L281.0,101.8 L281.1,103.7 L281.3,104.6 L281.4,97.1 L281.6,101.2 L281.7,98.4 L281.9,99.4 L282.0,99.3 L282.2,97.6 L282.3,94.8 L282.5,103.4 L282.6,111.3 L282.8,104.5 L282.9,96.8 L283.1,97.9 L283.2,102.1 L283.4,106.1 L283.5,100.9 L283.7,97.9 L283.8,99.9 L284.0,104.9 L284.1,106.0 L284.3,106.4 L284.4,100.9 L284.6,99.3 L284.7,106.4 L284.9,105.6 L285.0,106.4 L285.2,101.1 L285.3,114.3 L285.5,99.1 L285.6,107.0 L285.8,107.7 L285.9,101.3 L286.1,107.4 L286.2,101.6 L286.4,102.5 L286.5,104.0 L286.7,100.0 L286.8,100.6 L287.0,100.7 L287.1,100.6 L287.3,103.8 L287.4,98.9 L287.6,105.3 L287.7,99.9 L287.9,102.0 L288.0,104.8 L288.2,99.6 L288.3,102.9 L288.5,104.8 L288.6,104.7 L288.8,108.9 L288.9,107.7 L289.1,96.3 L289.2,108.3 L289.4,105.0 L289.5,106.6 L289.7,100.4 L289.8,102.6 L290.0,107.0 L290.1,108.2 L290.3,108.3 L290.4,101.3 L290.6,121.1 L290.7,105.6 L290.9,106.8 L291.0,109.0 L291.2,102.8 L291.3,109.9 L291.5,109.5 L291.6,105.9 L291.8,103.5 L291.9,118.7 L292.1,99.2 L292.2,108.1 L292.4,109.7 L292.5,100.8 L292.7,107.9 L292.8,107.3 L293.0,99.3 L293.1,109.9 L293.3,104.6 L293.4,102.1 L293.6,99.1 L293.7,108.1 L293.9,100.4 L294.0,104.8 L294.2,100.9 L294.3,105.7 L294.5,103.1 L294.6,120.2 L294.8,106.1 L294.9,106.6 L295.1,100.8 L295.2,98.4 L295.4,107.8 L295.5,108.2 L295.7,104.4 L295.8,117.8 L296.0,104.3 L296.1,102.6 L296.3,99.8 L296.4,98.4 L296.6,99.1 L296.7,95.3 L296.9,96.4 L297.0,96.0 L297.2,90.0 L297.3,92.0 L297.5,89.5 L297.6,90.7 L297.8,90.3 L297.9,87.6 L298.1,87.2 L298.2,86.8 L298.4,84.0 L298.5,87.0 L298.7,91.8 L298.8,94.6 L299.0,89.9 L299.1,89.7 L299.3,100.5 L299.4,101.0 L299.6,99.6 L299.7,103.0 L299.9,101.4 L300.0,105.8 L300.2,98.9 L300.3,101.8 L300.5,105.0 L300.6,100.0 L300.8,106.4 L300.9,101.3 L301.1,107.0 L301.2,108.4 L301.4,104.1 L301.5,119.9 L301.7,107.0 L301.8,108.7 L302.0,99.9 L302.1,101.2 L302.3,108.6 L302.4,111.6 L302.6,107.8 L302.7,111.4 L302.9,101.1 L303.0,111.4 L303.2,126.8 L303.3,108.3 L303.5,105.9 L303.6,109.4 L303.8,103.8 L303.9,109.1 L304.1,109.4 L304.2,107.6 L304.4,104.2 L304.5,101.1 L304.7,103.5 L304.8,111.4 L305.0,103.8 L305.1,102.1 L305.3,104.3 L305.4,106.9 L305.6,108.6 L305.7,112.2 L305.9,111.9 L306.0,113.4 L306.2,112.4 L306.3,107.0 L306.5,103.3 L306.6,113.3 L306.8,104.4 L306.9,109.3 L307.1,104.9 L307.2,111.7 L307.4,104.2 L307.5,105.6 L307.7,104.4 L307.8,110.7 L308.0,121.3 L308.1,109.6 L308.3,105.7 L308.4,104.0 L308.6,112.0 L308.7,111.3 L308.9,110.9 L309.0,114.2 L309.2,105.3 L309.3,104.1 L309.5,109.5 L309.6,105.5 L309.8,108.3 L309.9,107.7 L310.1,109.0 L310.2,113.4 L310.4,112.1 L310.5,107.2 L310.7,112.2 L310.8,112.7 L311.0,109.5 L311.1,108.9 L311.3,113.2 L311.4,108.2 L311.6,103.5 L311.7,105.5 L311.9,110.3 L312.0,106.9 L312.2,107.4 L312.3,107.2 L312.5,104.6 L312.6,103.4 L312.8,102.9 L312.9,110.6 L313.1,106.3 L313.2,107.9 L313.4,113.9 L313.5,106.7 L313.7,112.3 L313.8,111.7 L314.0,114.1 L314.1,103.2 L314.3,107.1 L314.4,111.8 L314.6,108.1 L314.7,114.1 L314.9,104.7 L315.0,100.0 L315.2,111.1 L315.3,107.5 L315.5,108.7 L315.6,114.0" fill="none" stroke="#000" stroke-width="0.7"/>
<path d="M47.5,70.0 L47.8,70.1 L48.2,69.9 L48.5,69.7 L48.8,69.9 L49.1,69.7 L49.5,70.1 L49.8,70.5 L50.1,69.9 L50.5,69.8 L50.8,70.2 L51.1,70.2 L51.5,70.1 L51.8,69.8 L52.1,70.1 L52.4,70.4 L52.8,69.6 L53.1,70.0 L53.4,69.5 L53.8,69.7 L54.1,69.5 L54.4,70.1 L54.8,69.7 L55.1,70.3 L55.4,70.2 L55.7,70.1 L56.1,69.3 L56.4,70.0 L56.7,70.2 L57.1,70.3 L57.4,69.7 L57.7,70.1 L58.1,69.9 L58.4,70.0 L58.7,70.6 L59.0,70.0 L59.4,70.3 L59.7,70.6 L60.0,70.1 L60.4,70.3 L60.7,70.3 L61.0,70.3 L61.4,69.9 L61.7,70.4 L62.0,70.8 L62.3,69.8 L62.7,70.7 L63.0,70.4 L63.3,70.1 L63.7,71.1 L64.0,70.7 L64.3,70.0 L64.7,70.4 L65.0,70.6 L65.3,70.3 L65.6,70.7 L66.0,70.4 L66.3,70.7 L66.6,70.9 L67.0,70.2 L67.3,70.5 L67.6,70.3 L68.0,70.5 L68.3,70.1 L68.6,70.3 L68.9,70.4 L69.3,70.8 L69.6,70.9 L69.9,70.1 L70.3,70.2 L70.6,70.8 L70.9,69.8 L71.3,70.4 L71.6,70.5 L71.9,71.0 L72.2,70.8 L72.6,70.4 L72.9,70.4 L73.2,70.5 L73.6,71.1 L73.9,70.4 L74.2,70.5 L74.6,70.7 L74.9,70.5 L75.2,70.5 L75.5,70.2 L75.9,70.6 L76.2,70.4 L76.5,71.0 L76.9,70.8 L77.2,70.5 L77.5,70.8 L77.9,70.4 L78.2,70.8 L78.5,70.4 L78.8,70.6 L79.2,69.9 L79.5,70.4 L79.8,69.6 L80.2,69.4 L80.5,69.9 L80.8,69.5 L81.2,69.6 L81.5,70.0 L81.8,68.5 L82.1,67.9 L82.5,67.1 L82.8,65.5 L83.1,62.5 L83.5,58.4 L83.8,54.3 L84.1,53.6 L84.5,57.1 L84.8,61.9 L85.1,64.9 L85.4,66.5 L85.8,68.1 L86.1,68.5 L86.4,69.7 L86.8,69.8 L87.1,70.0 L87.4,70.0 L87.8,70.3 L88.1,69.7 L88.4,70.2 L88.7,70.8 L89.1,70.0 L89.4,71.1 L89.7,70.2 L90.1,71.1 L90.4,70.6 L90.7,71.2 L91.1,71.0 L91.4,70.5 L91.7,71.5 L92.0,71.6 L92.4,71.1 L92.7,71.0 L93.0,71.1 L93.4,70.8 L93.7,71.6 L94.0,71.0 L94.4,71.2 L94.7,70.9 L95.0,71.0 L95.3,70.8 L95.7,71.7 L96.0,71.2 L96.3,71.6 L96.7,71.3 L97.0,71.1 L97.3,71.2 L97.7,71.2 L98.0,71.4 L98.3,71.3 L98.6,71.3 L99.0,70.9 L99.3,71.1 L99.6,72.0 L100.0,71.2 L100.3,71.1 L100.6,71.6 L101.0,72.0 L101.3,71.0 L101.6,71.4 L101.9,71.3 L102.3,70.9 L102.6,71.8 L102.9,71.6 L103.3,71.6 L103.6,71.3 L103.9,71.8 L104.3,71.4 L104.6,71.6 L104.9,71.2 L105.2,71.2 L105.6,72.1 L105.9,71.5 L106.2,71.8 L106.6,71.7 L106.9,71.6 L107.2,71.5 L107.6,72.0 L107.9,71.6 L108.2,71.7 L108.5,71.8 L108.9,72.2 L109.2,72.0 L109.5,71.9 L109.9,71.6 L110.2,71.3 L110.5,72.2 L110.9,72.2 L111.2,71.8 L111.5,72.1 L111.8,72.2 L112.2,72.2 L112.5,72.2 L112.8,71.8 L113.2,72.5 L113.5,71.5 L113.8,72.3 L114.2,72.2 L114.5,72.3 L114.8,72.7 L115.1,72.5 L115.5,71.6 L115.8,71.5 L116.1,72.3 L116.5,71.7 L116.8,72.1 L117.1,72.4 L117.5,71.5 L117.8,71.4 L118.1,72.2 L118.4,72.2 L118.8,72.1 L119.1,72.2 L119.4,71.9 L119.8,71.7 L120.1,72.2 L120.4,71.9 L120.8,71.7 L121.1,72.4 L121.4,72.2 L121.7,72.4 L122.1,72.0 L122.4,72.1 L122.7,72.0 L123.1,72.0 L123.4,72.4 L123.7,72.1 L124.1,72.5 L124.4,72.5 L124.7,73.1 L125.0,71.9 L125.4,72.7 L125.7,72.4 L126.0,72.5 L126.4,72.0 L126.7,72.3 L127.0,72.8 L127.4,72.5 L127.7,72.6 L128.0,72.4 L128.3,73.0 L128.7,72.6 L129.0,71.8 L129.3,72.4 L129.7,71.9 L130.0,71.5 L130.3,72.4 L130.7,73.1 L131.0,72.7 L131.3,72.3 L131.6,72.4 L132.0,73.1 L132.3,72.8 L132.6,72.7 L133.0,72.7 L133.3,72.8 L133.6,73.1 L134.0,73.0 L134.3,72.9 L134.6,72.4 L134.9,73.0 L135.3,72.6 L135.6,73.2 L135.9,72.4 L136.3,72.8 L136.6,72.9 L136.9,72.4 L137.3,73.5 L137.6,73.4 L137.9,72.8 L138.2,73.2 L138.6,73.1 L138.9,72.1 L139.2,73.1 L139.6,73.0 L139.9,73.1 L140.2,72.7 L140.6,73.0 L140.9,73.0 L141.2,73.5 L141.5,73.2 L141.9,73.1 L142.2,73.7 L142.5,72.9 L142.9,73.0 L143.2,72.5 L143.5,73.7 L143.9,73.5 L144.2,73.5 L144.5,73.5 L144.8,73.3 L145.2,73.3 L145.5,73.2 L145.8,73.2 L146.2,73.3 L146.5,73.8 L146.8,73.5 L147.2,73.3 L147.5,73.1 L147.8,73.1 L148.1,73.9 L148.5,73.6 L148.8,73.4 L149.1,73.3 L149.5,73.0 L149.8,73.4 L150.1,73.8 L150.5,73.3 L150.8,73.4 L151.1,73.4 L151.4,73.5 L151.8,73.0 L152.1,73.5 L152.4,73.3 L152.8,73.9 L153.1,73.3 L153.4,73.8 L153.8,74.2 L154.1,73.5 L154.4,73.4 L154.7,73.7 L155.1,73.7 L155.4,73.4 L155.7,73.9 L156.1,74.4 L156.4,73.7 L156.7,73.7 L157.1,73.4 L157.4,73.9 L157.7,73.4 L158.0,73.4 L158.4,74.3 L158.7,73.5 L159.0,74.2 L159.4,74.4 L159.7,74.0 L160.0,74.1 L160.4,74.6 L160.7,73.8 L161.0,73.7 L161.3,73.4 L161.7,73.9 L162.0,74.3 L162.3,74.1 L162.7,73.4 L163.0,73.4 L163.3,73.5 L163.7,73.7 L164.0,73.5 L164.3,73.5 L164.6,73.4 L165.0,73.0 L165.3,72.8 L165.6,72.5 L166.0,71.8 L166.3,71.2 L166.6,70.3 L167.0,67.6 L167.3,64.1 L167.6,60.1 L167.9,60.6 L168.3,63.0 L168.6,66.5 L168.9,69.6 L169.3,70.9 L169.6,71.4 L169.9,71.4 L170.3,72.3 L170.6,72.4 L170.9,73.0 L171.2,73.6 L171.6,73.0 L171.9,72.6 L172.2,72.5 L172.6,72.8 L172.9,72.7 L173.2,72.2 L173.6,72.5 L173.9,71.7 L174.2,72.1 L174.5,71.3 L174.9,70.3 L175.2,68.6 L175.5,68.4 L175.9,68.9 L176.2,69.9 L176.5,70.8 L176.9,71.1 L177.2,71.4 L177.5,72.4 L177.8,72.1 L178.2,72.2 L178.5,72.3 L178.8,71.1 L179.2,71.1 L179.5,71.0 L179.8,69.8 L180.2,67.3 L180.5,65.1 L180.8,62.4 L181.1,59.4 L181.5,57.6 L181.8,57.7 L182.1,57.2 L182.5,56.0 L182.8,56.9 L183.1,56.3 L183.5,56.1 L183.8,54.9 L184.1,54.1 L184.4,52.8 L184.8,53.0 L185.1,50.9 L185.4,50.4 L185.8,48.5 L186.1,47.7 L186.4,45.7 L186.8,44.5 L187.1,42.9 L187.4,39.5 L187.7,36.7 L188.1,31.3 L188.4,24.2 L188.7,18.7 L189.1,18.9 L189.4,25.0 L189.7,31.4 L190.1,36.3 L190.4,39.9 L190.7,42.0 L191.0,43.6 L191.4,45.4 L191.7,47.6 L192.0,50.5 L192.4,54.5 L192.7,55.7 L193.0,56.4 L193.4,57.7 L193.7,57.7 L194.0,59.0 L194.3,58.6 L194.7,59.5 L195.0,59.7 L195.3,59.9 L195.7,60.7 L196.0,60.8 L196.3,61.3 L196.7,61.3 L197.0,61.1 L197.3,61.7 L197.6,62.0 L198.0,62.5 L198.3,62.0 L198.6,62.5 L199.0,62.0 L199.3,63.0 L199.6,62.5 L200.0,62.4 L200.3,63.2 L200.6,63.7 L200.9,62.9 L201.3,63.2 L201.6,63.5 L201.9,63.5 L202.3,64.1 L202.6,63.8 L202.9,64.0 L203.3,64.6 L203.6,64.2 L203.9,64.8 L204.2,64.4 L204.6,64.5 L204.9,64.4 L205.2,65.9 L205.6,65.3 L205.9,65.6 L206.2,65.7 L206.6,65.9 L206.9,66.1 L207.2,66.9 L207.5,66.0 L207.9,66.0 L208.2,66.4 L208.5,66.5 L208.9,67.4 L209.2,67.6 L209.5,67.1 L209.9,67.1 L210.2,67.7 L210.5,68.4 L210.8,67.1 L211.2,68.5 L211.5,68.1 L211.8,69.0 L212.2,68.4 L212.5,68.8 L212.8,68.5 L213.2,68.8 L213.5,69.8 L213.8,69.7 L214.1,69.4 L214.5,69.3 L214.8,69.0 L215.1,69.7 L215.5,69.9 L215.8,70.0 L216.1,70.1 L216.5,69.8 L216.8,70.3 L217.1,70.4 L217.4,70.9 L217.8,71.2 L218.1,70.6 L218.4,70.5 L218.8,70.8 L219.1,70.7 L219.4,70.8 L219.8,71.1 L220.1,70.8 L220.4,71.5 L220.7,71.3 L221.1,71.5 L221.4,71.4 L221.7,71.3 L222.1,71.3 L222.4,71.7 L222.7,71.6 L223.1,72.0 L223.4,72.0 L223.7,71.6 L224.0,72.1 L224.4,71.7 L224.7,72.0 L225.0,72.2 L225.4,71.7 L225.7,72.5 L226.0,72.6 L226.4,72.5 L226.7,72.5 L227.0,72.6 L227.3,72.4 L227.7,72.7 L228.0,72.7 L228.3,73.0 L228.7,72.6 L229.0,73.1 L229.3,73.2 L229.7,73.1 L230.0,73.1 L230.3,73.5 L230.6,72.8 L231.0,73.6 L231.3,73.5 L231.6,73.6 L232.0,73.7 L232.3,73.4 L232.6,73.6 L233.0,73.9 L233.3,73.9 L233.6,73.9 L233.9,73.4 L234.3,74.1 L234.6,74.4 L234.9,74.4 L235.3,74.2 L235.6,73.6 L235.9,74.6 L236.3,74.2 L236.6,73.4 L236.9,74.5 L237.2,73.9 L237.6,74.0 L237.9,74.3 L238.2,75.0 L238.6,74.5 L238.9,74.8 L239.2,75.3 L239.6,75.3 L239.9,74.7 L240.2,74.7 L240.5,74.4 L240.9,74.6 L241.2,74.9 L241.5,74.8 L241.9,74.5 L242.2,74.5 L242.5,73.1 L242.9,72.4 L243.2,72.8 L243.5,73.8 L243.8,74.7 L244.2,74.9 L244.5,74.9 L244.8,75.3 L245.2,74.9 L245.5,74.7 L245.8,75.5 L246.2,75.3 L246.5,75.5 L246.8,74.8 L247.1,75.3 L247.5,75.2 L247.8,75.1 L248.1,74.6 L248.5,75.3 L248.8,75.8 L249.1,75.6 L249.5,75.2 L249.8,75.4 L250.1,75.7 L250.4,74.5 L250.8,75.4 L251.1,75.6 L251.4,75.7 L251.8,76.0 L252.1,75.8 L252.4,75.5 L252.8,75.5 L253.1,75.7 L253.4,75.2 L253.7,75.4 L254.1,75.7 L254.4,76.0 L254.7,75.3 L255.1,75.3 L255.4,75.4 L255.7,75.8 L256.1,75.3 L256.4,75.8 L256.7,75.0 L257.0,75.2 L257.4,75.2 L257.7,75.6 L258.0,75.7 L258.4,74.8 L258.7,75.0 L259.0,75.4 L259.4,75.0 L259.7,74.7 L260.0,75.6 L260.3,75.4 L260.7,75.4 L261.0,75.1 L261.3,75.6 L261.7,75.2 L262.0,75.7 L262.3,75.0 L262.7,75.0 L263.0,75.4 L263.3,75.1 L263.6,75.5 L264.0,75.4 L264.3,75.0 L264.6,75.4 L265.0,75.2 L265.3,75.7 L265.6,75.1 L266.0,75.2 L266.3,75.8 L266.6,76.2 L266.9,76.1 L267.3,75.4 L267.6,75.5 L267.9,76.0 L268.3,75.4 L268.6,75.1 L268.9,75.5 L269.3,75.6 L269.6,75.2 L269.9,74.9 L270.2,75.0 L270.6,75.7 L270.9,75.3 L271.2,75.5 L271.6,75.6 L271.9,75.8 L272.2,75.4 L272.6,75.7 L272.9,75.3 L273.2,75.5 L273.5,75.2 L273.9,76.0 L274.2,75.6 L274.5,75.4 L274.9,75.5 L275.2,75.6 L275.5,75.9 L275.9,75.1 L276.2,75.3 L276.5,75.5 L276.8,76.6 L277.2,76.0 L277.5,75.7 L277.8,76.0 L278.2,76.4 L278.5,75.6 L278.8,75.6 L279.2,76.1 L279.5,75.9 L279.8,76.0 L280.1,75.5 L280.5,76.4 L280.8,76.3 L281.1,75.9 L281.5,76.0 L281.8,75.0 L282.1,75.9 L282.5,75.7 L282.8,75.9 L283.1,76.0 L283.4,75.6 L283.8,75.1 L284.1,75.8 L284.4,75.5 L284.8,75.6 L285.1,75.5 L285.4,75.6 L285.8,74.9 L286.1,76.1 L286.4,75.8 L286.7,76.1 L287.1,76.4 L287.4,75.7 L287.7,75.0 L288.1,75.3 L288.4,75.2 L288.7,75.4 L289.1,75.6 L289.4,74.9 L289.7,75.7 L290.0,75.0 L290.4,75.6 L290.7,75.4 L291.0,75.3 L291.4,75.4 L291.7,75.2 L292.0,75.1 L292.4,74.6 L292.7,75.1 L293.0,75.7 L293.3,75.6 L293.7,75.3 L294.0,74.9 L294.3,74.2 L294.7,74.7 L295.0,73.8 L295.3,73.4 L295.7,72.7 L296.0,72.0 L296.3,70.7 L296.6,69.1 L297.0,66.3 L297.3,62.9 L297.6,59.2 L298.0,54.0 L298.3,53.0 L298.6,56.6 L299.0,61.5 L299.3,64.9 L299.6,68.1 L299.9,70.4 L300.3,71.5 L300.6,72.3 L300.9,73.4 L301.3,72.9 L301.6,73.3 L301.9,72.9 L302.3,73.3 L302.6,72.2 L302.9,73.2 L303.2,73.9 L303.6,74.7 L303.9,75.0 L304.2,75.5 L304.6,74.6 L304.9,75.5 L305.2,75.3 L305.6,75.2 L305.9,75.7 L306.2,75.2 L306.5,74.9 L306.9,75.5 L307.2,75.1 L307.5,75.4 L307.9,75.8 L308.2,75.8 L308.5,76.3 L308.9,75.7 L309.2,75.2 L309.5,75.5 L309.8,75.5 L310.2,75.4 L310.5,76.0 L310.8,75.6 L311.2,75.1 L311.5,76.1 L311.8,75.8 L312.2,76.0 L312.5,75.9 L312.8,76.1 L313.1,75.9 L313.5,76.3 L313.8,76.0 L314.1,76.0 L314.5,76.0 L314.8,75.4 L315.1,75.9 L315.5,75.8 L315.8,76.0" fill="none" stroke="#c966b0" stroke-width="1"/>
<path d="M43.0,2.0 H316.0 V217.5" fill="none" stroke="#707070" stroke-width="1.5"/>
<line x1="46.9" y1="1.5" x2="46.9" y2="218.0" stroke="#000" stroke-width="2"/>
<line x1="46.5" y1="217.5" x2="316.5" y2="217.5" stroke="#333" stroke-width="1.1"/>
<line x1="43.0" y1="2.0" x2="47.0" y2="2.0" stroke="#000" stroke-width="0.9"/>
<line x1="45.0" y1="5.2" x2="47.0" y2="5.2" stroke="#000" stroke-width="0.9"/>
<line x1="45.0" y1="8.5" x2="47.0" y2="8.5" stroke="#000" stroke-width="0.9"/>
<line x1="45.0" y1="11.7" x2="47.0" y2="11.7" stroke="#000" stroke-width="0.9"/>
<line x1="45.0" y1="14.9" x2="47.0" y2="14.9" stroke="#000" stroke-width="0.9"/>
<line x1="43.0" y1="18.1" x2="47.0" y2="18.1" stroke="#000" stroke-width="0.9"/>
<line x1="45.0" y1="21.4" x2="47.0" y2="21.4" stroke="#000" stroke-width="0.9"/>
<line x1="45.0" y1="24.6" x2="47.0" y2="24.6" stroke="#000" stroke-width="0.9"/>
<line x1="45.0" y1="27.8" x2="47.0" y2="27.8" stroke="#000" stroke-width="0.9"/>
<line x1="45.0" y1="31.1" x2="47.0" y2="31.1" stroke="#000" stroke-width="0.9"/>
<line x1="43.0" y1="34.3" x2="47.0" y2="34.3" stroke="#000" stroke-width="0.9"/>
<line x1="45.0" y1="37.5" x2="47.0" y2="37.5" stroke="#000" stroke-width="0.9"/>
<line x1="45.0" y1="40.8" x2="47.0" y2="40.8" stroke="#000" stroke-width="0.9"/>
<line x1="45.0" y1="44.0" x2="47.0" y2="44.0" stroke="#000" stroke-width="0.9"/>
<line x1="45.0" y1="47.2" x2="47.0" y2="47.2" stroke="#000" stroke-width="0.9"/>
<line x1="43.0" y1="50.4" x2="47.0" y2="50.4" stroke="#000" stroke-width="0.9"/>
<line x1="45.0" y1="53.7" x2="47.0" y2="53.7" stroke="#000" stroke-width="0.9"/>
<line x1="45.0" y1="56.9" x2="47.0" y2="56.9" stroke="#000" stroke-width="0.9"/>
<line x1="45.0" y1="60.1" x2="47.0" y2="60.1" stroke="#000" stroke-width="0.9"/>
<line x1="45.0" y1="63.4" x2="47.0" y2="63.4" stroke="#000" stroke-width="0.9"/>
<line x1="43.0" y1="66.6" x2="47.0" y2="66.6" stroke="#000" stroke-width="0.9"/>
<line x1="45.0" y1="69.8" x2="47.0" y2="69.8" stroke="#000" stroke-width="0.9"/>
<line x1="45.0" y1="73.1" x2="47.0" y2="73.1" stroke="#000" stroke-width="0.9"/>
<line x1="45.0" y1="76.3" x2="47.0" y2="76.3" stroke="#000" stroke-width="0.9"/>
<line x1="45.0" y1="79.5" x2="47.0" y2="79.5" stroke="#000" stroke-width="0.9"/>
<line x1="43.0" y1="82.7" x2="47.0" y2="82.7" stroke="#000" stroke-width="0.9"/>
<line x1="45.0" y1="86.0" x2="47.0" y2="86.0" stroke="#000" stroke-width="0.9"/>
<line x1="45.0" y1="89.2" x2="47.0" y2="89.2" stroke="#000" stroke-width="0.9"/>
<line x1="45.0" y1="92.4" x2="47.0" y2="92.4" stroke="#000" stroke-width="0.9"/>
<line x1="45.0" y1="95.7" x2="47.0" y2="95.7" stroke="#000" stroke-width="0.9"/>
<line x1="43.0" y1="98.9" x2="47.0" y2="98.9" stroke="#000" stroke-width="0.9"/>
<line x1="45.0" y1="102.1" x2="47.0" y2="102.1" stroke="#000" stroke-width="0.9"/>
<line x1="45.0" y1="105.4" x2="47.0" y2="105.4" stroke="#000" stroke-width="0.9"/>
<line x1="45.0" y1="108.6" x2="47.0" y2="108.6" stroke="#000" stroke-width="0.9"/>
<line x1="45.0" y1="111.8" x2="47.0" y2="111.8" stroke="#000" stroke-width="0.9"/>
<line x1="43.0" y1="115.1" x2="47.0" y2="115.1" stroke="#000" stroke-width="0.9"/>
<line x1="45.0" y1="118.3" x2="47.0" y2="118.3" stroke="#000" stroke-width="0.9"/>
<line x1="45.0" y1="121.5" x2="47.0" y2="121.5" stroke="#000" stroke-width="0.9"/>
<line x1="45.0" y1="124.7" x2="47.0" y2="124.7" stroke="#000" stroke-width="0.9"/>
<line x1="45.0" y1="128.0" x2="47.0" y2="128.0" stroke="#000" stroke-width="0.9"/>
<line x1="43.0" y1="131.2" x2="47.0" y2="131.2" stroke="#000" stroke-width="0.9"/>
<line x1="45.0" y1="134.4" x2="47.0" y2="134.4" stroke="#000" stroke-width="0.9"/>
<line x1="45.0" y1="137.7" x2="47.0" y2="137.7" stroke="#000" stroke-width="0.9"/>
<line x1="45.0" y1="140.9" x2="47.0" y2="140.9" stroke="#000" stroke-width="0.9"/>
<line x1="45.0" y1="144.1" x2="47.0" y2="144.1" stroke="#000" stroke-width="0.9"/>
<line x1="43.0" y1="147.3" x2="47.0" y2="147.3" stroke="#000" stroke-width="0.9"/>
<line x1="45.0" y1="150.6" x2="47.0" y2="150.6" stroke="#000" stroke-width="0.9"/>
<line x1="45.0" y1="153.8" x2="47.0" y2="153.8" stroke="#000" stroke-width="0.9"/>
<line x1="45.0" y1="157.0" x2="47.0" y2="157.0" stroke="#000" stroke-width="0.9"/>
<line x1="45.0" y1="160.3" x2="47.0" y2="160.3" stroke="#000" stroke-width="0.9"/>
<line x1="43.0" y1="163.5" x2="47.0" y2="163.5" stroke="#000" stroke-width="0.9"/>
<line x1="45.0" y1="166.7" x2="47.0" y2="166.7" stroke="#000" stroke-width="0.9"/>
<line x1="45.0" y1="170.0" x2="47.0" y2="170.0" stroke="#000" stroke-width="0.9"/>
<line x1="45.0" y1="173.2" x2="47.0" y2="173.2" stroke="#000" stroke-width="0.9"/>
<line x1="45.0" y1="176.4" x2="47.0" y2="176.4" stroke="#000" stroke-width="0.9"/>
<line x1="43.0" y1="179.6" x2="47.0" y2="179.6" stroke="#000" stroke-width="0.9"/>
<line x1="45.0" y1="182.9" x2="47.0" y2="182.9" stroke="#000" stroke-width="0.9"/>
<line x1="45.0" y1="186.1" x2="47.0" y2="186.1" stroke="#000" stroke-width="0.9"/>
<line x1="45.0" y1="189.3" x2="47.0" y2="189.3" stroke="#000" stroke-width="0.9"/>
<line x1="45.0" y1="192.6" x2="47.0" y2="192.6" stroke="#000" stroke-width="0.9"/>
<line x1="43.0" y1="195.8" x2="47.0" y2="195.8" stroke="#000" stroke-width="0.9"/>
<line x1="45.0" y1="199.0" x2="47.0" y2="199.0" stroke="#000" stroke-width="0.9"/>
<line x1="45.0" y1="202.3" x2="47.0" y2="202.3" stroke="#000" stroke-width="0.9"/>
<line x1="45.0" y1="205.5" x2="47.0" y2="205.5" stroke="#000" stroke-width="0.9"/>
<line x1="45.0" y1="208.7" x2="47.0" y2="208.7" stroke="#000" stroke-width="0.9"/>
<line x1="43.0" y1="211.9" x2="47.0" y2="211.9" stroke="#000" stroke-width="0.9"/>
<line x1="45.0" y1="215.2" x2="47.0" y2="215.2" stroke="#000" stroke-width="0.9"/>
<line x1="47.0" y1="217.5" x2="47.0" y2="221.5" stroke="#333" stroke-width="1"/>
<text x="47.0" y="234.5" font-size="11.5" text-anchor="middle" fill="#000" font-weight="normal" >10</text>
<line x1="80.6" y1="217.5" x2="80.6" y2="219.5" stroke="#333" stroke-width="1"/>
<line x1="114.2" y1="217.5" x2="114.2" y2="221.5" stroke="#333" stroke-width="1"/>
<text x="114.2" y="234.5" font-size="11.5" text-anchor="middle" fill="#000" font-weight="normal" >20</text>
<line x1="147.9" y1="217.5" x2="147.9" y2="219.5" stroke="#333" stroke-width="1"/>
<line x1="181.5" y1="217.5" x2="181.5" y2="221.5" stroke="#333" stroke-width="1"/>
<text x="181.5" y="234.5" font-size="11.5" text-anchor="middle" fill="#000" font-weight="normal" >30</text>
<line x1="215.1" y1="217.5" x2="215.1" y2="219.5" stroke="#333" stroke-width="1"/>
<line x1="248.8" y1="217.5" x2="248.8" y2="221.5" stroke="#333" stroke-width="1"/>
<text x="248.8" y="234.5" font-size="11.5" text-anchor="middle" fill="#000" font-weight="normal" >40</text>
<line x1="282.4" y1="217.5" x2="282.4" y2="219.5" stroke="#333" stroke-width="1"/>
<line x1="316.0" y1="217.5" x2="316.0" y2="221.5" stroke="#333" stroke-width="1"/>
<text x="316.0" y="234.5" font-size="11.5" text-anchor="middle" fill="#000" font-weight="normal" >50</text>
<text x="181.3" y="251.9" font-size="13" text-anchor="middle" fill="#000" font-weight="normal" >2θ (°)</text>
<text transform="translate(35.3,104.4) rotate(-90)" font-size="13.3" text-anchor="middle">Intensity (Arb. Un.)</text>
<text x="85.2" y="47.8" font-size="11" text-anchor="middle" fill="#000" font-weight="normal" >(200)</text>
<text x="188.4" y="14.6" font-size="11" text-anchor="middle" fill="#000" font-weight="normal" >(400)</text>
<text x="297.9" y="44.6" font-size="11" text-anchor="middle" fill="#000" font-weight="normal" >(600)</text>
<text x="264.4" y="13.2" font-size="9" text-anchor="middle" fill="#000" font-weight="normal" >*</text>
<text x="168.5" y="56.7" font-size="10.5" text-anchor="middle" fill="#000" font-weight="normal" >x</text>
<text x="175.4" y="63.9" font-size="10.5" text-anchor="middle" fill="#000" font-weight="normal" >x</text>
<text x="113.5" y="52" font-size="12" text-anchor="start" fill="#c966b0" font-weight="normal" >Single</text>
<text x="113.5" y="66.5" font-size="12" text-anchor="start" fill="#c966b0" font-weight="normal" >Crystal</text>
<text x="115.5" y="97.5" font-size="12" text-anchor="start" fill="#000" font-weight="normal" >80 nm</text>
<text x="117.5" y="144" font-size="12" text-anchor="start" fill="#6cc1ea" font-weight="normal" >8 nm</text>
<text x="116.5" y="196" font-size="12" text-anchor="start" fill="#daa12a" font-weight="normal" >4 nm</text>
<text x="8" y="14" font-size="18" text-anchor="start" fill="#000" font-weight="normal" >a)</text>
</g>
<g id="pb">
<line x1="420.1" y1="22" x2="420.1" y2="217.5" stroke="#444" stroke-width="1.3" stroke-dasharray="4.5,3"/>
<line x1="465" y1="32" x2="465" y2="217.5" stroke="#444" stroke-width="1.3" stroke-dasharray="4.5,3"/>
<line x1="505.5" y1="56" x2="505.5" y2="217.5" stroke="#444" stroke-width="1.3" stroke-dasharray="4.5,3"/>
<line x1="530.3" y1="57" x2="530.3" y2="217.5" stroke="#444" stroke-width="1.3" stroke-dasharray="4.5,3"/>
<line x1="557.4" y1="60" x2="557.4" y2="217.5" stroke="#444" stroke-width="1.3" stroke-dasharray="4.5,3"/>
<path d="M406.7,171.0 L407.1,170.9 L407.5,167.4 L407.9,166.1 L408.3,168.5 L408.7,168.8 L409.1,166.4 L409.5,163.0 L409.9,164.6 L410.3,164.5 L410.7,163.0 L411.1,164.0 L411.5,159.7 L411.9,160.7 L412.3,158.6 L412.7,158.3 L413.1,157.2 L413.5,158.2 L413.9,155.0 L414.3,156.6 L414.7,158.4 L415.1,160.5 L415.5,162.5 L415.9,162.8 L416.3,166.5 L416.7,170.3 L417.1,172.4 L417.5,180.5 L417.9,183.9 L418.3,183.6 L418.7,185.2 L419.1,185.8 L419.5,187.4 L419.9,189.0 L420.3,189.6 L420.7,189.0 L421.1,190.9 L421.5,192.3 L421.9,191.9 L422.3,191.7 L422.7,190.1 L423.1,190.3 L423.5,193.7 L423.9,191.1 L424.3,189.8 L424.7,192.7 L425.1,194.0 L425.5,188.8 L425.9,194.2 L426.3,189.8 L426.7,192.9 L427.1,191.6 L427.5,190.5 L427.9,189.9 L428.3,189.8 L428.7,189.4 L429.1,190.9 L429.5,193.2 L429.9,191.0 L430.3,194.6 L430.7,190.8 L431.1,189.9 L431.5,190.9 L431.9,193.6 L432.3,189.4 L432.7,190.4 L433.1,192.0 L433.5,189.2 L433.9,190.7 L434.3,189.4 L434.7,189.1 L435.1,189.0 L435.5,188.5 L435.9,190.0 L436.3,185.8 L436.7,186.0 L437.1,187.1 L437.5,185.1 L437.9,185.8 L438.3,185.1 L438.7,186.7 L439.1,183.8 L439.5,185.9 L439.9,185.0 L440.3,187.6 L440.7,183.0 L441.1,182.6 L441.5,182.5 L441.9,183.0 L442.3,183.1 L442.7,185.4 L443.1,182.7 L443.5,183.4 L443.9,183.3 L444.3,177.5 L444.7,180.5 L445.1,181.2 L445.5,182.2 L445.9,184.1 L446.3,180.4 L446.7,175.4 L447.1,182.0 L447.5,180.5 L447.9,179.9 L448.3,182.5 L448.7,177.8 L449.1,179.7 L449.5,181.0 L449.9,176.4 L450.3,180.3 L450.7,177.0 L451.1,175.5 L451.5,176.7 L451.9,173.8 L452.3,168.4 L452.7,172.2 L453.1,170.7 L453.5,167.7 L453.9,165.7 L454.3,167.6 L454.7,166.3 L455.1,170.6 L455.5,168.0 L455.9,167.8 L456.3,167.4 L456.7,161.4 L457.1,165.8 L457.5,160.1 L457.9,159.2 L458.3,160.6 L458.7,158.5 L459.1,161.1 L459.5,156.7 L459.9,157.5 L460.3,155.3 L460.7,152.9 L461.1,152.5 L461.5,144.8 L461.9,150.7 L462.3,149.2 L462.7,150.0 L463.1,147.7 L463.5,148.5 L463.9,151.1 L464.3,149.8 L464.7,154.6 L465.1,151.3 L465.5,153.0 L465.9,154.9 L466.3,157.3 L466.7,158.1 L467.1,158.2 L467.5,159.5 L467.9,161.0 L468.3,163.6 L468.7,163.0 L469.1,165.4 L469.5,167.4 L469.9,173.4 L470.3,172.8 L470.7,175.3 L471.1,174.4 L471.5,170.5 L471.9,175.8 L472.3,175.1 L472.7,179.0 L473.1,179.5 L473.5,180.2 L473.9,179.6 L474.3,183.4 L474.7,184.1 L475.1,183.9 L475.5,184.9 L475.9,181.7 L476.3,184.2 L476.7,183.1 L477.1,182.5 L477.5,183.3 L477.9,181.7 L478.3,182.8 L478.7,183.4 L479.1,180.5 L479.5,185.9 L479.9,185.1 L480.3,184.8 L480.7,186.4 L481.1,184.6 L481.5,184.5 L481.9,186.3 L482.3,182.8 L482.7,181.4 L483.1,185.2 L483.5,183.2 L483.9,185.3 L484.3,184.7 L484.7,182.5 L485.1,183.6 L485.5,177.7 L485.9,183.8 L486.3,183.4 L486.7,185.1 L487.1,186.9 L487.5,184.2 L487.9,183.4 L488.3,184.1 L488.7,183.7 L489.1,183.2 L489.5,184.4 L489.9,182.1 L490.3,182.7 L490.7,184.5 L491.1,182.3 L491.5,185.1 L491.9,183.9 L492.3,186.3 L492.7,181.5 L493.1,187.6 L493.5,185.7 L493.9,184.9 L494.3,183.1 L494.7,187.4 L495.1,187.0 L495.5,187.8 L495.9,184.8 L496.3,184.1 L496.7,188.4 L497.1,186.3 L497.5,182.4 L497.9,187.7 L498.3,184.7 L498.7,182.8 L499.1,189.0 L499.5,184.1 L499.9,188.2 L500.3,187.8 L500.7,189.0 L501.1,186.2 L501.5,186.0 L501.9,190.1 L502.3,185.5 L502.7,188.8 L503.1,189.9 L503.5,190.6 L503.9,190.1 L504.3,193.5 L504.7,191.9 L505.1,189.8 L505.5,190.0 L505.9,189.2 L506.3,190.9 L506.7,194.3 L507.1,192.1 L507.5,190.9 L507.9,181.6 L508.3,187.3 L508.7,191.5 L509.1,190.5 L509.5,192.6 L509.9,190.3 L510.3,193.6 L510.7,192.1 L511.1,191.6 L511.5,193.4 L511.9,192.2 L512.3,185.7 L512.7,192.1 L513.1,194.3 L513.5,190.9 L513.9,193.8 L514.3,195.1 L514.7,195.7 L515.1,195.4 L515.5,196.8 L515.9,195.3 L516.3,199.3 L516.7,194.3 L517.1,188.2 L517.5,191.9 L517.9,192.6 L518.3,195.9 L518.7,193.3 L519.1,193.8 L519.5,197.6 L519.9,193.7 L520.3,196.9 L520.7,198.5 L521.1,199.2 L521.5,197.8 L521.9,189.5 L522.3,196.1 L522.7,200.3 L523.1,200.8 L523.5,197.6 L523.9,199.9 L524.3,199.9 L524.7,198.3 L525.1,200.8 L525.5,197.7 L525.9,200.4 L526.3,200.6 L526.7,199.5 L527.1,199.0 L527.5,202.8 L527.9,199.0 L528.3,199.1 L528.7,198.4 L529.1,200.6 L529.5,200.9 L529.9,200.0 L530.3,203.5 L530.7,202.0 L531.1,203.0 L531.5,199.9 L531.9,201.9 L532.3,205.3 L532.7,204.6 L533.1,203.8 L533.5,205.2 L533.9,204.7 L534.3,204.2 L534.7,204.5 L535.1,204.8 L535.5,203.5 L535.9,207.3 L536.3,208.6 L536.7,205.0 L537.1,204.9 L537.5,209.0 L537.9,206.0 L538.3,206.4 L538.7,206.3 L539.1,205.8 L539.5,205.2 L539.9,199.9 L540.3,200.1 L540.7,207.9 L541.1,208.8 L541.5,205.9 L541.9,205.8 L542.3,209.9 L542.7,206.4 L543.1,205.8 L543.5,208.5 L543.9,205.1 L544.3,203.6 L544.7,207.2 L545.1,206.4 L545.5,206.1 L545.9,206.2 L546.3,206.5 L546.7,207.2 L547.1,203.9 L547.5,209.2 L547.9,207.4 L548.3,207.4 L548.7,207.6 L549.1,209.6 L549.5,208.8 L549.9,212.1 L550.3,204.8 L550.7,209.9 L551.1,210.2 L551.5,203.7 L551.9,209.7 L552.3,208.6 L552.7,208.6 L553.1,208.8 L553.5,209.6 L553.9,208.3 L554.3,207.7 L554.7,210.6 L555.1,209.0 L555.5,210.5 L555.9,213.6 L556.3,206.8 L556.7,207.6 L557.1,207.9 L557.5,208.9 L557.9,211.8 L558.3,209.6 L558.7,210.6 L559.1,211.8 L559.5,205.0 L559.9,207.6 L560.3,206.8 L560.7,208.5 L561.1,205.8 L561.5,210.0 L561.9,206.2 L562.3,205.5 L562.7,204.9 L563.1,204.3 L563.5,206.3 L563.9,205.2 L564.3,206.6 L564.7,205.2 L565.1,206.8 L565.5,206.4 L565.9,207.9 L566.3,207.3 L566.7,205.2 L567.1,208.2 L567.5,205.2 L567.9,204.7 L568.3,207.7 L568.7,204.1 L569.1,205.1 L569.5,203.8 L569.9,203.8 L570.3,206.9 L570.7,204.9 L571.1,209.4 L571.5,209.0 L571.9,207.2 L572.3,205.6 L572.7,206.7 L573.1,206.4 L573.5,208.7 L573.9,203.7 L574.3,206.6 L574.7,207.1 L575.1,207.7 L575.5,208.2 L575.9,206.4 L576.3,208.2 L576.7,205.2 L577.1,209.1 L577.5,207.9 L577.9,207.1 L578.3,209.3 L578.7,206.2 L579.1,204.6 L579.5,208.3 L579.9,207.7 L580.3,207.0 L580.7,206.5 L581.1,208.5 L581.5,209.2 L581.9,206.2 L582.3,205.4 L582.7,209.0 L583.1,206.1 L583.5,210.1 L583.9,210.4 L584.3,207.1 L584.7,212.0 L585.1,207.7 L585.5,208.0 L585.9,208.1 L586.3,209.0 L586.7,209.7 L587.1,209.0 L587.5,207.2 L587.9,207.9 L588.3,205.9 L588.7,206.8 L589.1,208.9 L589.5,208.7 L589.9,207.8 L590.3,209.2 L590.7,207.6 L591.1,208.8 L591.5,209.0 L591.9,210.6 L592.3,210.7 L592.7,207.4 L593.1,208.5 L593.5,206.2 L593.9,212.6 L594.3,205.7 L594.7,209.2 L595.1,206.7 L595.5,209.5 L595.9,209.8 L596.3,210.5 L596.7,208.5 L597.1,210.8 L597.5,208.5 L597.9,208.1 L598.3,208.4 L598.7,208.5 L599.1,212.7 L599.5,211.4 L599.9,211.0 L600.3,206.6 L600.7,209.9 L601.1,211.2 L601.5,207.2 L601.9,211.9 L602.3,208.5 L602.7,210.3 L603.1,210.8 L603.5,210.3 L603.9,210.5 L604.3,211.4 L604.7,212.7 L605.1,213.3 L605.5,213.1 L605.9,211.1 L606.3,207.6 L606.7,209.1 L607.1,210.3 L607.5,212.2 L607.9,213.2 L608.3,210.7 L608.7,210.2 L609.1,211.6 L609.5,211.9 L609.9,212.8 L610.3,213.0 L610.7,211.4 L611.1,207.6 L611.5,211.2 L611.9,206.9 L612.3,211.8 L612.7,216.5 L613.1,214.3 L613.5,212.9 L613.9,216.1 L614.3,210.7 L614.7,213.2 L615.1,213.5 L615.5,211.5 L615.9,206.4 L616.3,214.0 L616.7,213.3 L617.1,212.0 L617.5,212.8 L617.9,214.3 L618.3,212.9 L618.7,212.0 L619.1,214.0 L619.5,213.2 L619.9,213.7 L620.3,211.6 L620.7,213.6 L621.1,213.1 L621.5,211.3 L621.9,216.5 L622.3,214.2 L622.7,214.4 L623.1,215.6 L623.5,216.5 L623.9,216.0 L624.3,213.2 L624.7,214.8 L625.1,213.4 L625.5,214.1 L625.9,215.2 L626.3,216.5 L626.7,212.9 L627.1,216.1 L627.5,215.5 L627.9,213.1 L628.3,216.5 L628.7,214.8 L629.1,216.5 L629.5,215.0 L629.9,215.8 L630.3,216.5 L630.7,215.4 L631.1,215.4 L631.5,216.5 L631.9,216.5 L632.3,216.5 L632.7,216.0 L633.1,212.5 L633.5,213.2 L633.9,216.5 L634.3,214.0 L634.7,213.3 L635.1,216.5 L635.5,213.0 L635.9,213.0 L636.3,216.1 L636.7,216.5 L637.1,216.5 L637.5,214.0 L637.9,216.5 L638.3,214.2 L638.7,216.5 L639.1,210.8 L639.5,213.8 L639.9,216.5 L640.3,215.8 L640.7,216.5 L641.1,209.4 L641.5,216.5 L641.9,216.5 L642.3,216.5 L642.7,215.1 L643.1,216.5 L643.5,216.5 L643.9,215.8 L644.3,216.5 L644.7,216.3 L645.1,216.5 L645.5,215.9 L645.9,216.3 L646.3,214.9 L646.7,215.5 L647.1,216.5 L647.5,216.5 L647.9,216.5 L648.3,216.5 L648.7,215.0 L649.1,210.0 L649.5,213.4 L649.9,216.5 L650.3,216.5 L650.7,216.5 L651.1,216.5 L651.5,215.0 L651.9,216.5 L652.3,216.5 L652.7,216.5 L653.1,213.9 L653.5,216.5 L653.9,216.4 L654.3,216.5 L654.7,216.5 L655.1,216.5 L655.5,216.5 L655.9,216.5 L656.3,214.9 L656.7,216.1 L657.1,208.3 L657.5,216.5 L657.9,216.5 L658.3,216.5 L658.7,216.5 L659.1,215.2 L659.5,215.0 L659.9,216.5 L660.3,216.5 L660.7,215.9 L661.1,216.5 L661.5,215.2 L661.9,214.8 L662.3,216.5 L662.7,216.4 L663.1,216.5 L663.5,216.5 L663.9,216.5 L664.3,216.5 L664.7,216.5 L665.1,215.2 L665.5,216.3 L665.9,215.7 L666.3,216.4 L666.7,216.5 L667.1,213.2 L667.5,216.5 L667.9,214.3 L668.3,213.8 L668.7,216.3 L669.1,216.4 L669.5,216.1 L669.9,214.7 L670.3,216.5 L670.7,214.4 L671.1,216.5 L671.5,216.5 L671.9,214.3 L672.3,216.5 L672.7,216.5 L673.1,214.0 L673.5,216.5 L673.9,214.4 L674.3,216.5" fill="none" stroke="#daa12a" stroke-width="1"/>
<path d="M406.7,143.8 L407.1,144.0 L407.5,143.7 L407.9,143.3 L408.3,142.9 L408.7,142.9 L409.1,143.5 L409.5,142.8 L409.9,142.8 L410.3,143.0 L410.7,142.0 L411.1,142.4 L411.5,141.1 L411.9,141.3 L412.3,140.7 L412.7,141.0 L413.1,140.7 L413.5,140.0 L413.9,139.6 L414.3,140.1 L414.7,138.8 L415.1,138.1 L415.5,136.8 L415.9,135.7 L416.3,134.5 L416.7,132.3 L417.1,129.5 L417.5,125.4 L417.9,119.2 L418.3,112.0 L418.7,103.3 L419.1,98.1 L419.5,100.3 L419.9,108.7 L420.3,116.9 L420.7,124.2 L421.1,129.7 L421.5,132.9 L421.9,136.1 L422.3,137.6 L422.7,139.1 L423.1,140.2 L423.5,141.7 L423.9,143.5 L424.3,144.6 L424.7,145.4 L425.1,146.7 L425.5,148.1 L425.9,148.6 L426.3,149.9 L426.7,150.9 L427.1,151.3 L427.5,152.2 L427.9,152.7 L428.3,153.1 L428.7,153.3 L429.1,152.9 L429.5,153.9 L429.9,153.8 L430.3,154.3 L430.7,154.4 L431.1,154.3 L431.5,155.0 L431.9,154.1 L432.3,154.6 L432.7,154.7 L433.1,155.1 L433.5,154.7 L433.9,154.9 L434.3,154.8 L434.7,155.3 L435.1,154.6 L435.5,154.4 L435.9,154.5 L436.3,154.8 L436.7,155.0 L437.1,153.9 L437.5,154.1 L437.9,154.9 L438.3,154.3 L438.7,154.1 L439.1,154.1 L439.5,154.0 L439.9,153.8 L440.3,154.1 L440.7,153.8 L441.1,154.4 L441.5,153.1 L441.9,153.9 L442.3,153.5 L442.7,154.1 L443.1,153.3 L443.5,153.6 L443.9,153.9 L444.3,153.5 L444.7,153.0 L445.1,153.1 L445.5,153.1 L445.9,153.4 L446.3,152.9 L446.7,153.0 L447.1,152.4 L447.5,152.6 L447.9,152.9 L448.3,152.3 L448.7,152.2 L449.1,152.1 L449.5,152.4 L449.9,152.1 L450.3,151.9 L450.7,151.5 L451.1,151.0 L451.5,151.7 L451.9,151.0 L452.3,151.2 L452.7,150.9 L453.1,150.2 L453.5,149.7 L453.9,149.9 L454.3,148.6 L454.7,148.0 L455.1,148.7 L455.5,147.6 L455.9,147.4 L456.3,147.2 L456.7,147.1 L457.1,145.8 L457.5,145.7 L457.9,145.6 L458.3,145.1 L458.7,144.5 L459.1,144.6 L459.5,143.4 L459.9,143.7 L460.3,142.8 L460.7,142.1 L461.1,141.1 L461.5,140.1 L461.9,139.0 L462.3,136.8 L462.7,134.5 L463.1,130.7 L463.5,125.7 L463.9,120.0 L464.3,114.2 L464.7,110.7 L465.1,112.4 L465.5,116.5 L465.9,123.3 L466.3,127.8 L466.7,131.7 L467.1,134.9 L467.5,136.7 L467.9,139.1 L468.3,140.3 L468.7,141.1 L469.1,141.8 L469.5,142.2 L469.9,141.6 L470.3,142.7 L470.7,142.5 L471.1,143.1 L471.5,142.9 L471.9,143.0 L472.3,142.9 L472.7,143.4 L473.1,143.6 L473.5,143.0 L473.9,143.5 L474.3,143.5 L474.7,143.3 L475.1,143.3 L475.5,143.7 L475.9,143.7 L476.3,143.5 L476.7,143.5 L477.1,143.4 L477.5,143.0 L477.9,143.1 L478.3,143.0 L478.7,142.6 L479.1,143.1 L479.5,143.3 L479.9,143.2 L480.3,142.5 L480.7,142.2 L481.1,141.9 L481.5,142.1 L481.9,141.6 L482.3,141.6 L482.7,140.6 L483.1,140.6 L483.5,140.0 L483.9,139.9 L484.3,139.3 L484.7,138.4 L485.1,138.7 L485.5,138.0 L485.9,137.6 L486.3,137.1 L486.7,136.4 L487.1,136.3 L487.5,136.1 L487.9,135.9 L488.3,135.1 L488.7,134.5 L489.1,134.7 L489.5,133.9 L489.9,133.6 L490.3,133.5 L490.7,133.4 L491.1,132.7 L491.5,133.0 L491.9,132.9 L492.3,132.7 L492.7,133.4 L493.1,132.5 L493.5,133.1 L493.9,133.3 L494.3,133.5 L494.7,134.1 L495.1,133.3 L495.5,134.1 L495.9,134.2 L496.3,134.4 L496.7,135.0 L497.1,135.6 L497.5,135.7 L497.9,136.8 L498.3,136.1 L498.7,137.0 L499.1,137.3 L499.5,137.6 L499.9,138.0 L500.3,138.1 L500.7,138.6 L501.1,138.7 L501.5,139.1 L501.9,139.3 L502.3,139.9 L502.7,140.6 L503.1,140.6 L503.5,141.4 L503.9,141.4 L504.3,141.8 L504.7,142.5 L505.1,142.0 L505.5,142.5 L505.9,143.0 L506.3,143.0 L506.7,143.0 L507.1,143.4 L507.5,142.9 L507.9,143.1 L508.3,143.7 L508.7,142.9 L509.1,143.4 L509.5,143.5 L509.9,143.4 L510.3,143.5 L510.7,143.2 L511.1,143.5 L511.5,143.5 L511.9,143.6 L512.3,143.6 L512.7,144.2 L513.1,144.0 L513.5,144.3 L513.9,144.1 L514.3,144.0 L514.7,144.1 L515.1,144.4 L515.5,143.8 L515.9,143.7 L516.3,143.9 L516.7,144.6 L517.1,144.4 L517.5,144.5 L517.9,144.8 L518.3,145.1 L518.7,144.9 L519.1,145.0 L519.5,145.2 L519.9,145.8 L520.3,145.6 L520.7,146.1 L521.1,146.4 L521.5,146.2 L521.9,146.2 L522.3,146.3 L522.7,146.7 L523.1,146.7 L523.5,147.3 L523.9,147.0 L524.3,147.7 L524.7,147.7 L525.1,148.3 L525.5,147.9 L525.9,148.5 L526.3,148.9 L526.7,148.4 L527.1,149.2 L527.5,149.1 L527.9,149.2 L528.3,149.3 L528.7,149.9 L529.1,149.9 L529.5,150.2 L529.9,150.7 L530.3,149.8 L530.7,151.2 L531.1,151.8 L531.5,151.3 L531.9,151.5 L532.3,151.8 L532.7,152.4 L533.1,153.1 L533.5,152.4 L533.9,152.0 L534.3,153.2 L534.7,153.3 L535.1,153.6 L535.5,153.8 L535.9,153.5 L536.3,154.4 L536.7,154.4 L537.1,154.9 L537.5,154.8 L537.9,154.9 L538.3,154.8 L538.7,155.9 L539.1,155.7 L539.5,155.9 L539.9,156.4 L540.3,156.2 L540.7,156.2 L541.1,155.5 L541.5,156.6 L541.9,156.6 L542.3,156.1 L542.7,156.1 L543.1,156.8 L543.5,156.7 L543.9,157.2 L544.3,156.5 L544.7,156.9 L545.1,157.2 L545.5,157.2 L545.9,156.8 L546.3,156.8 L546.7,157.2 L547.1,158.0 L547.5,157.2 L547.9,157.4 L548.3,157.8 L548.7,157.8 L549.1,158.1 L549.5,157.5 L549.9,157.6 L550.3,158.1 L550.7,157.8 L551.1,157.9 L551.5,157.7 L551.9,157.8 L552.3,157.8 L552.7,157.9 L553.1,157.9 L553.5,158.0 L553.9,158.0 L554.3,158.5 L554.7,158.7 L555.1,158.1 L555.5,158.6 L555.9,158.3 L556.3,157.5 L556.7,158.2 L557.1,157.7 L557.5,158.4 L557.9,157.9 L558.3,158.5 L558.7,158.3 L559.1,157.7 L559.5,157.4 L559.9,157.9 L560.3,157.1 L560.7,157.0 L561.1,156.9 L561.5,156.0 L561.9,155.4 L562.3,154.8 L562.7,153.4 L563.1,152.9 L563.5,152.7 L563.9,153.0 L564.3,154.8 L564.7,155.7 L565.1,156.6 L565.5,156.9 L565.9,157.1 L566.3,157.4 L566.7,157.8 L567.1,157.7 L567.5,157.7 L567.9,158.3 L568.3,158.3 L568.7,158.5 L569.1,158.3 L569.5,158.4 L569.9,158.2 L570.3,158.4 L570.7,158.8 L571.1,159.1 L571.5,158.6 L571.9,158.8 L572.3,158.5 L572.7,158.3 L573.1,158.6 L573.5,158.7 L573.9,158.7 L574.3,158.5 L574.7,158.8 L575.1,159.1 L575.5,158.6 L575.9,158.9 L576.3,159.0 L576.7,159.1 L577.1,159.0 L577.5,159.2 L577.9,158.9 L578.3,158.5 L578.7,158.6 L579.1,158.8 L579.5,158.6 L579.9,158.7 L580.3,158.9 L580.7,158.9 L581.1,158.8 L581.5,159.1 L581.9,159.6 L582.3,158.7 L582.7,158.9 L583.1,158.7 L583.5,159.4 L583.9,159.3 L584.3,158.7 L584.7,159.2 L585.1,158.7 L585.5,159.2 L585.9,159.1 L586.3,159.1 L586.7,158.6 L587.1,159.2 L587.5,159.2 L587.9,159.5 L588.3,159.2 L588.7,159.2 L589.1,159.0 L589.5,159.4 L589.9,159.4 L590.3,159.4 L590.7,159.5 L591.1,159.2 L591.5,158.8 L591.9,159.3 L592.3,159.7 L592.7,159.6 L593.1,159.1 L593.5,159.9 L593.9,159.7 L594.3,159.6 L594.7,159.1 L595.1,159.6 L595.5,159.6 L595.9,160.0 L596.3,159.3 L596.7,159.3 L597.1,159.8 L597.5,159.8 L597.9,159.7 L598.3,159.3 L598.7,159.3 L599.1,159.5 L599.5,159.6 L599.9,159.7 L600.3,159.3 L600.7,159.0 L601.1,159.8 L601.5,159.5 L601.9,159.5 L602.3,159.8 L602.7,159.1 L603.1,159.6 L603.5,159.5 L603.9,159.7 L604.3,159.6 L604.7,159.8 L605.1,159.2 L605.5,159.5 L605.9,159.4 L606.3,160.0 L606.7,160.0 L607.1,159.7 L607.5,159.9 L607.9,159.6 L608.3,159.5 L608.7,160.1 L609.1,159.7 L609.5,160.1 L609.9,160.4 L610.3,159.4 L610.7,159.9 L611.1,159.7 L611.5,159.9 L611.9,159.1 L612.3,160.0 L612.7,159.6 L613.1,159.9 L613.5,160.0 L613.9,160.1 L614.3,159.9 L614.7,160.0 L615.1,159.8 L615.5,159.5 L615.9,159.7 L616.3,159.8 L616.7,159.8 L617.1,160.0 L617.5,160.0 L617.9,160.3 L618.3,160.5 L618.7,159.7 L619.1,160.0 L619.5,160.1 L619.9,159.9 L620.3,160.2 L620.7,159.4 L621.1,160.2 L621.5,160.0 L621.9,159.5 L622.3,160.0 L622.7,160.6 L623.1,160.0 L623.5,160.7 L623.9,160.7 L624.3,160.2 L624.7,160.0 L625.1,160.3 L625.5,160.6 L625.9,160.7 L626.3,160.3 L626.7,159.9 L627.1,160.6 L627.5,159.7 L627.9,160.1 L628.3,160.2 L628.7,160.4 L629.1,160.0 L629.5,160.3 L629.9,160.5 L630.3,160.3 L630.7,160.0 L631.1,160.5 L631.5,160.3 L631.9,160.0 L632.3,160.1 L632.7,160.9 L633.1,160.3 L633.5,160.5 L633.9,160.2 L634.3,160.3 L634.7,160.3 L635.1,160.2 L635.5,160.6 L635.9,160.7 L636.3,160.6 L636.7,160.3 L637.1,160.2 L637.5,159.8 L637.9,160.7 L638.3,160.3 L638.7,160.1 L639.1,160.1 L639.5,160.7 L639.9,160.4 L640.3,160.7 L640.7,160.5 L641.1,160.8 L641.5,160.6 L641.9,159.7 L642.3,160.9 L642.7,160.2 L643.1,161.0 L643.5,160.6 L643.9,160.3 L644.3,160.4 L644.7,160.3 L645.1,160.7 L645.5,160.7 L645.9,160.2 L646.3,160.1 L646.7,161.0 L647.1,160.7 L647.5,160.3 L647.9,160.9 L648.3,161.0 L648.7,160.8 L649.1,160.8 L649.5,160.5 L649.9,159.8 L650.3,160.9 L650.7,160.5 L651.1,161.3 L651.5,160.6 L651.9,160.9 L652.3,160.5 L652.7,160.3 L653.1,160.6 L653.5,161.4 L653.9,160.8 L654.3,160.2 L654.7,161.1 L655.1,161.2 L655.5,160.6 L655.9,160.9 L656.3,160.8 L656.7,160.6 L657.1,160.9 L657.5,160.4 L657.9,161.0 L658.3,161.2 L658.7,160.6 L659.1,161.1 L659.5,161.1 L659.9,161.1 L660.3,161.3 L660.7,160.9 L661.1,160.7 L661.5,161.2 L661.9,161.1 L662.3,160.3 L662.7,161.0 L663.1,160.7 L663.5,160.9 L663.9,161.0 L664.3,161.5 L664.7,161.1 L665.1,160.8 L665.5,160.9 L665.9,161.1 L666.3,161.2 L666.7,161.9 L667.1,160.8 L667.5,160.9 L667.9,161.4 L668.3,161.0 L668.7,161.1 L669.1,160.6 L669.5,160.6 L669.9,161.3 L670.3,160.8 L670.7,161.4 L671.1,161.0 L671.5,161.2 L671.9,161.5 L672.3,160.9 L672.7,160.9 L673.1,161.5 L673.5,161.2 L673.9,161.2 L674.3,161.5" fill="none" stroke="#6cc1ea" stroke-width="1.1"/>
<path d="M406.7,97.5 L407.1,97.5 L407.5,97.6 L407.9,97.5 L408.3,97.6 L408.7,97.5 L409.1,97.4 L409.5,97.0 L409.9,97.3 L410.3,97.7 L410.7,97.3 L411.1,97.4 L411.5,97.3 L411.9,97.1 L412.3,97.4 L412.7,97.6 L413.1,97.6 L413.5,97.2 L413.9,97.1 L414.3,97.1 L414.7,97.2 L415.1,97.0 L415.5,97.1 L415.9,96.9 L416.3,96.5 L416.7,96.3 L417.1,96.4 L417.5,96.1 L417.9,95.6 L418.3,95.3 L418.7,94.3 L419.1,93.3 L419.5,91.9 L419.9,89.9 L420.3,86.3 L420.7,81.9 L421.1,75.1 L421.5,67.0 L421.9,61.9 L422.3,63.3 L422.7,67.3 L423.1,73.1 L423.5,79.0 L423.9,83.8 L424.3,88.6 L424.7,91.5 L425.1,94.2 L425.5,96.1 L425.9,97.8 L426.3,99.0 L426.7,100.0 L427.1,100.7 L427.5,101.2 L427.9,102.3 L428.3,102.7 L428.7,103.1 L429.1,103.4 L429.5,103.7 L429.9,103.8 L430.3,104.6 L430.7,104.2 L431.1,104.3 L431.5,105.0 L431.9,104.8 L432.3,105.0 L432.7,104.9 L433.1,105.2 L433.5,105.4 L433.9,105.5 L434.3,105.3 L434.7,105.7 L435.1,105.5 L435.5,105.5 L435.9,105.9 L436.3,105.9 L436.7,105.8 L437.1,105.8 L437.5,106.1 L437.9,105.9 L438.3,105.9 L438.7,106.1 L439.1,106.1 L439.5,105.9 L439.9,106.3 L440.3,105.9 L440.7,106.0 L441.1,106.2 L441.5,106.1 L441.9,106.3 L442.3,106.2 L442.7,105.8 L443.1,106.3 L443.5,106.1 L443.9,106.1 L444.3,106.0 L444.7,105.9 L445.1,106.2 L445.5,106.2 L445.9,106.1 L446.3,106.0 L446.7,106.3 L447.1,106.1 L447.5,106.1 L447.9,106.0 L448.3,106.0 L448.7,106.1 L449.1,106.1 L449.5,106.0 L449.9,105.9 L450.3,105.8 L450.7,105.6 L451.1,105.7 L451.5,105.6 L451.9,105.5 L452.3,105.6 L452.7,105.6 L453.1,105.4 L453.5,105.2 L453.9,105.3 L454.3,105.3 L454.7,105.3 L455.1,105.0 L455.5,104.9 L455.9,104.7 L456.3,104.9 L456.7,104.7 L457.1,104.7 L457.5,104.2 L457.9,104.5 L458.3,104.0 L458.7,103.8 L459.1,103.6 L459.5,103.3 L459.9,103.0 L460.3,102.1 L460.7,101.8 L461.1,101.3 L461.5,100.5 L461.9,99.4 L462.3,97.9 L462.7,96.4 L463.1,94.2 L463.5,91.6 L463.9,88.4 L464.3,84.1 L464.7,79.9 L465.1,76.2 L465.5,74.2 L465.9,74.5 L466.3,77.5 L466.7,81.6 L467.1,86.3 L467.5,89.8 L467.9,92.8 L468.3,95.2 L468.7,96.9 L469.1,98.6 L469.5,99.5 L469.9,100.7 L470.3,101.3 L470.7,101.8 L471.1,102.4 L471.5,102.6 L471.9,103.0 L472.3,103.4 L472.7,103.7 L473.1,103.7 L473.5,104.0 L473.9,103.7 L474.3,104.0 L474.7,104.1 L475.1,104.1 L475.5,104.3 L475.9,104.5 L476.3,104.4 L476.7,104.5 L477.1,104.5 L477.5,104.5 L477.9,104.4 L478.3,104.3 L478.7,104.5 L479.1,104.5 L479.5,104.3 L479.9,104.6 L480.3,104.2 L480.7,104.1 L481.1,104.3 L481.5,104.1 L481.9,104.2 L482.3,104.2 L482.7,104.1 L483.1,104.2 L483.5,103.9 L483.9,103.8 L484.3,104.2 L484.7,104.2 L485.1,104.2 L485.5,103.9 L485.9,104.0 L486.3,103.9 L486.7,104.1 L487.1,103.7 L487.5,103.9 L487.9,103.7 L488.3,103.9 L488.7,103.7 L489.1,103.4 L489.5,103.6 L489.9,103.5 L490.3,103.6 L490.7,103.6 L491.1,103.2 L491.5,103.4 L491.9,103.1 L492.3,103.1 L492.7,103.1 L493.1,103.1 L493.5,102.9 L493.9,102.7 L494.3,102.4 L494.7,102.3 L495.1,102.2 L495.5,101.9 L495.9,101.7 L496.3,101.4 L496.7,101.4 L497.1,101.0 L497.5,100.7 L497.9,100.2 L498.3,99.7 L498.7,99.3 L499.1,99.1 L499.5,98.5 L499.9,98.0 L500.3,97.8 L500.7,97.7 L501.1,97.0 L501.5,96.6 L501.9,96.2 L502.3,95.8 L502.7,95.2 L503.1,95.1 L503.5,94.8 L503.9,94.4 L504.3,94.1 L504.7,93.8 L505.1,93.7 L505.5,93.3 L505.9,93.0 L506.3,93.1 L506.7,93.2 L507.1,93.3 L507.5,93.1 L507.9,93.3 L508.3,93.4 L508.7,93.7 L509.1,93.7 L509.5,94.1 L509.9,94.4 L510.3,94.6 L510.7,94.9 L511.1,95.2 L511.5,95.5 L511.9,95.9 L512.3,96.2 L512.7,96.9 L513.1,97.2 L513.5,97.5 L513.9,97.9 L514.3,98.2 L514.7,98.8 L515.1,99.0 L515.5,99.1 L515.9,99.5 L516.3,99.4 L516.7,99.8 L517.1,99.9 L517.5,100.3 L517.9,100.3 L518.3,100.3 L518.7,100.4 L519.1,100.3 L519.5,100.4 L519.9,100.4 L520.3,100.5 L520.7,100.4 L521.1,100.4 L521.5,100.4 L521.9,100.1 L522.3,99.5 L522.7,99.5 L523.1,99.6 L523.5,99.2 L523.9,98.9 L524.3,98.6 L524.7,98.1 L525.1,98.1 L525.5,97.7 L525.9,97.3 L526.3,97.2 L526.7,97.1 L527.1,96.5 L527.5,96.1 L527.9,96.0 L528.3,95.6 L528.7,95.2 L529.1,95.2 L529.5,95.2 L529.9,94.8 L530.3,94.8 L530.7,94.7 L531.1,94.5 L531.5,94.5 L531.9,94.5 L532.3,94.5 L532.7,94.6 L533.1,94.7 L533.5,94.7 L533.9,94.8 L534.3,95.1 L534.7,95.2 L535.1,95.8 L535.5,95.7 L535.9,96.3 L536.3,96.3 L536.7,96.6 L537.1,97.0 L537.5,97.2 L537.9,97.5 L538.3,97.8 L538.7,98.0 L539.1,98.3 L539.5,98.9 L539.9,98.7 L540.3,99.6 L540.7,99.8 L541.1,99.9 L541.5,100.5 L541.9,100.8 L542.3,100.9 L542.7,100.7 L543.1,100.9 L543.5,101.5 L543.9,101.5 L544.3,101.9 L544.7,101.9 L545.1,102.2 L545.5,102.2 L545.9,102.4 L546.3,102.3 L546.7,102.7 L547.1,102.6 L547.5,103.0 L547.9,102.9 L548.3,103.1 L548.7,103.2 L549.1,103.2 L549.5,103.2 L549.9,103.4 L550.3,103.5 L550.7,103.7 L551.1,103.5 L551.5,103.5 L551.9,103.8 L552.3,103.8 L552.7,104.0 L553.1,104.1 L553.5,103.7 L553.9,104.0 L554.3,104.1 L554.7,104.1 L555.1,104.3 L555.5,104.4 L555.9,104.1 L556.3,104.1 L556.7,104.2 L557.1,104.2 L557.5,103.9 L557.9,103.9 L558.3,103.6 L558.7,102.8 L559.1,102.6 L559.5,102.1 L559.9,102.8 L560.3,103.2 L560.7,103.9 L561.1,104.3 L561.5,104.9 L561.9,105.2 L562.3,105.5 L562.7,105.6 L563.1,105.8 L563.5,106.0 L563.9,106.1 L564.3,106.4 L564.7,106.4 L565.1,106.6 L565.5,106.5 L565.9,106.6 L566.3,107.0 L566.7,106.9 L567.1,107.1 L567.5,107.0 L567.9,107.0 L568.3,107.1 L568.7,107.2 L569.1,107.6 L569.5,107.3 L569.9,107.5 L570.3,107.4 L570.7,107.5 L571.1,107.3 L571.5,107.6 L571.9,107.5 L572.3,107.4 L572.7,107.6 L573.1,107.3 L573.5,107.4 L573.9,107.6 L574.3,107.8 L574.7,107.5 L575.1,107.9 L575.5,107.8 L575.9,107.5 L576.3,107.7 L576.7,107.8 L577.1,107.5 L577.5,107.9 L577.9,107.5 L578.3,107.9 L578.7,107.9 L579.1,108.0 L579.5,107.8 L579.9,107.8 L580.3,107.5 L580.7,108.0 L581.1,107.8 L581.5,107.9 L581.9,107.7 L582.3,107.4 L582.7,107.9 L583.1,107.7 L583.5,107.8 L583.9,107.9 L584.3,107.6 L584.7,107.9 L585.1,107.7 L585.5,107.7 L585.9,107.9 L586.3,107.6 L586.7,107.8 L587.1,107.8 L587.5,108.0 L587.9,107.8 L588.3,108.0 L588.7,107.7 L589.1,107.7 L589.5,107.9 L589.9,108.1 L590.3,108.0 L590.7,107.8 L591.1,107.8 L591.5,108.1 L591.9,108.0 L592.3,107.7 L592.7,107.6 L593.1,108.2 L593.5,107.9 L593.9,107.9 L594.3,108.0 L594.7,107.9 L595.1,107.9 L595.5,107.9 L595.9,107.6 L596.3,107.9 L596.7,107.9 L597.1,108.1 L597.5,108.1 L597.9,107.9 L598.3,107.9 L598.7,108.0 L599.1,108.3 L599.5,108.1 L599.9,107.9 L600.3,108.2 L600.7,107.8 L601.1,108.1 L601.5,108.0 L601.9,107.8 L602.3,107.9 L602.7,108.0 L603.1,108.2 L603.5,108.2 L603.9,107.7 L604.3,107.9 L604.7,108.2 L605.1,108.1 L605.5,108.1 L605.9,108.1 L606.3,108.1 L606.7,108.2 L607.1,108.0 L607.5,107.7 L607.9,108.1 L608.3,107.9 L608.7,107.8 L609.1,108.0 L609.5,107.9 L609.9,108.0 L610.3,107.7 L610.7,108.1 L611.1,108.0 L611.5,108.1 L611.9,107.9 L612.3,107.9 L612.7,108.2 L613.1,108.2 L613.5,108.0 L613.9,107.9 L614.3,108.1 L614.7,108.0 L615.1,108.2 L615.5,108.0 L615.9,108.1 L616.3,108.1 L616.7,108.0 L617.1,108.2 L617.5,107.9 L617.9,108.3 L618.3,108.0 L618.7,108.0 L619.1,108.1 L619.5,108.0 L619.9,108.0 L620.3,108.1 L620.7,108.0 L621.1,108.1 L621.5,108.1 L621.9,108.1 L622.3,108.0 L622.7,108.2 L623.1,108.4 L623.5,108.0 L623.9,108.3 L624.3,108.0 L624.7,108.1 L625.1,108.0 L625.5,108.0 L625.9,108.0 L626.3,108.1 L626.7,108.1 L627.1,108.5 L627.5,108.0 L627.9,108.2 L628.3,108.3 L628.7,107.9 L629.1,107.9 L629.5,108.3 L629.9,108.0 L630.3,108.1 L630.7,107.8 L631.1,108.0 L631.5,108.1 L631.9,108.3 L632.3,108.5 L632.7,108.1 L633.1,108.4 L633.5,108.2 L633.9,108.1 L634.3,108.2 L634.7,108.2 L635.1,108.0 L635.5,108.2 L635.9,108.0 L636.3,108.2 L636.7,108.6 L637.1,108.0 L637.5,108.4 L637.9,108.0 L638.3,108.2 L638.7,108.4 L639.1,108.3 L639.5,108.4 L639.9,108.4 L640.3,108.2 L640.7,108.1 L641.1,108.3 L641.5,108.3 L641.9,108.5 L642.3,107.9 L642.7,108.4 L643.1,108.3 L643.5,108.2 L643.9,108.1 L644.3,108.1 L644.7,108.1 L645.1,108.5 L645.5,108.2 L645.9,108.2 L646.3,108.2 L646.7,108.3 L647.1,108.3 L647.5,108.2 L647.9,108.2 L648.3,108.1 L648.7,108.2 L649.1,108.2 L649.5,108.2 L649.9,108.2 L650.3,108.4 L650.7,108.4 L651.1,108.3 L651.5,108.4 L651.9,108.3 L652.3,108.4 L652.7,108.3 L653.1,108.5 L653.5,108.3 L653.9,108.2 L654.3,108.1 L654.7,108.3 L655.1,108.3 L655.5,108.1 L655.9,108.2 L656.3,108.2 L656.7,108.3 L657.1,108.1 L657.5,108.3 L657.9,108.5 L658.3,108.4 L658.7,108.3 L659.1,108.5 L659.5,108.2 L659.9,108.4 L660.3,108.3 L660.7,108.2 L661.1,108.3 L661.5,108.6 L661.9,108.2 L662.3,108.1 L662.7,108.5 L663.1,108.2 L663.5,108.3 L663.9,108.2 L664.3,108.2 L664.7,108.4 L665.1,108.1 L665.5,108.1 L665.9,108.2 L666.3,108.4 L666.7,108.5 L667.1,108.3 L667.5,108.4 L667.9,108.5 L668.3,108.4 L668.7,108.4 L669.1,108.3 L669.5,108.1 L669.9,108.4 L670.3,108.1 L670.7,108.4 L671.1,108.2 L671.5,108.1 L671.9,108.3 L672.3,108.1 L672.7,108.3 L673.1,108.3 L673.5,108.3 L673.9,108.5 L674.3,108.4" fill="none" stroke="#111" stroke-width="1.2"/>
<path d="M406.7,63.9 L407.1,63.9 L407.5,63.8 L407.9,63.7 L408.3,63.4 L408.7,63.4 L409.1,63.6 L409.5,63.4 L409.9,63.3 L410.3,63.4 L410.7,63.3 L411.1,63.3 L411.5,63.2 L411.9,63.0 L412.3,63.3 L412.7,62.7 L413.1,62.6 L413.5,62.5 L413.9,62.7 L414.3,62.1 L414.7,61.8 L415.1,61.0 L415.5,60.5 L415.9,59.9 L416.3,58.9 L416.7,57.7 L417.1,56.3 L417.5,54.2 L417.9,51.5 L418.3,47.9 L418.7,43.2 L419.1,37.4 L419.5,30.8 L419.9,24.3 L420.3,21.1 L420.7,22.4 L421.1,27.4 L421.5,34.2 L421.9,41.0 L422.3,46.2 L422.7,50.5 L423.1,53.6 L423.5,55.6 L423.9,57.4 L424.3,58.9 L424.7,60.2 L425.1,60.5 L425.5,61.7 L425.9,62.5 L426.3,62.9 L426.7,63.3 L427.1,63.6 L427.5,63.7 L427.9,64.4 L428.3,64.4 L428.7,64.8 L429.1,64.9 L429.5,65.3 L429.9,65.3 L430.3,65.4 L430.7,65.4 L431.1,65.5 L431.5,65.7 L431.9,65.9 L432.3,65.9 L432.7,65.6 L433.1,65.9 L433.5,66.4 L433.9,66.1 L434.3,66.3 L434.7,66.0 L435.1,66.3 L435.5,66.3 L435.9,66.6 L436.3,66.6 L436.7,66.6 L437.1,66.7 L437.5,66.5 L437.9,66.9 L438.3,66.6 L438.7,66.8 L439.1,67.0 L439.5,66.6 L439.9,66.8 L440.3,66.7 L440.7,66.7 L441.1,66.7 L441.5,66.7 L441.9,66.7 L442.3,66.8 L442.7,66.5 L443.1,66.5 L443.5,66.6 L443.9,66.4 L444.3,66.6 L444.7,66.5 L445.1,66.4 L445.5,66.3 L445.9,66.4 L446.3,66.5 L446.7,66.2 L447.1,66.5 L447.5,66.4 L447.9,66.3 L448.3,66.0 L448.7,66.1 L449.1,66.3 L449.5,66.1 L449.9,66.0 L450.3,65.9 L450.7,66.0 L451.1,65.6 L451.5,66.0 L451.9,65.8 L452.3,65.5 L452.7,65.7 L453.1,65.1 L453.5,65.3 L453.9,65.4 L454.3,65.5 L454.7,65.0 L455.1,64.8 L455.5,64.9 L455.9,64.7 L456.3,64.4 L456.7,64.2 L457.1,64.3 L457.5,63.7 L457.9,63.3 L458.3,63.1 L458.7,63.0 L459.1,62.4 L459.5,61.7 L459.9,60.8 L460.3,60.2 L460.7,59.6 L461.1,58.0 L461.5,56.5 L461.9,54.2 L462.3,52.0 L462.7,49.1 L463.1,46.0 L463.5,41.7 L463.9,37.7 L464.3,34.0 L464.7,31.5 L465.1,32.1 L465.5,33.8 L465.9,37.6 L466.3,41.5 L466.7,45.6 L467.1,49.1 L467.5,52.0 L467.9,54.7 L468.3,56.2 L468.7,57.9 L469.1,59.2 L469.5,60.1 L469.9,60.9 L470.3,62.0 L470.7,62.4 L471.1,62.6 L471.5,63.2 L471.9,63.4 L472.3,63.9 L472.7,63.9 L473.1,64.4 L473.5,64.6 L473.9,64.7 L474.3,64.8 L474.7,65.0 L475.1,65.0 L475.5,65.2 L475.9,65.4 L476.3,65.4 L476.7,65.3 L477.1,65.5 L477.5,65.3 L477.9,65.4 L478.3,65.3 L478.7,65.4 L479.1,65.4 L479.5,65.5 L479.9,65.5 L480.3,65.4 L480.7,65.2 L481.1,65.3 L481.5,65.3 L481.9,65.0 L482.3,64.9 L482.7,64.9 L483.1,65.2 L483.5,64.8 L483.9,64.7 L484.3,64.8 L484.7,64.4 L485.1,64.3 L485.5,64.4 L485.9,64.4 L486.3,64.1 L486.7,64.0 L487.1,63.7 L487.5,64.1 L487.9,63.6 L488.3,63.8 L488.7,63.4 L489.1,63.6 L489.5,63.5 L489.9,63.0 L490.3,63.1 L490.7,63.0 L491.1,62.9 L491.5,62.5 L491.9,62.5 L492.3,62.2 L492.7,61.8 L493.1,61.9 L493.5,61.7 L493.9,61.2 L494.3,61.0 L494.7,60.8 L495.1,60.7 L495.5,59.9 L495.9,60.0 L496.3,59.8 L496.7,59.1 L497.1,59.0 L497.5,58.6 L497.9,58.3 L498.3,58.1 L498.7,57.4 L499.1,57.2 L499.5,56.8 L499.9,56.7 L500.3,56.8 L500.7,56.1 L501.1,56.0 L501.5,55.8 L501.9,55.8 L502.3,55.5 L502.7,55.4 L503.1,55.3 L503.5,55.3 L503.9,55.2 L504.3,55.0 L504.7,55.6 L505.1,55.5 L505.5,55.5 L505.9,55.7 L506.3,55.9 L506.7,55.9 L507.1,56.2 L507.5,56.3 L507.9,56.7 L508.3,56.4 L508.7,56.8 L509.1,57.4 L509.5,57.2 L509.9,57.5 L510.3,57.7 L510.7,57.7 L511.1,58.3 L511.5,58.6 L511.9,58.7 L512.3,58.6 L512.7,58.9 L513.1,59.3 L513.5,59.2 L513.9,59.2 L514.3,59.6 L514.7,59.5 L515.1,59.3 L515.5,59.5 L515.9,59.8 L516.3,59.6 L516.7,59.6 L517.1,59.7 L517.5,59.5 L517.9,59.3 L518.3,59.5 L518.7,59.3 L519.1,59.3 L519.5,59.2 L519.9,59.1 L520.3,58.8 L520.7,59.0 L521.1,59.1 L521.5,58.5 L521.9,58.8 L522.3,58.6 L522.7,58.2 L523.1,58.0 L523.5,58.1 L523.9,57.9 L524.3,57.8 L524.7,57.6 L525.1,57.9 L525.5,57.3 L525.9,57.5 L526.3,57.7 L526.7,57.4 L527.1,57.6 L527.5,57.3 L527.9,57.3 L528.3,57.4 L528.7,57.2 L529.1,57.4 L529.5,57.5 L529.9,57.4 L530.3,57.7 L530.7,57.9 L531.1,57.7 L531.5,58.0 L531.9,58.2 L532.3,58.2 L532.7,58.7 L533.1,58.9 L533.5,58.8 L533.9,59.2 L534.3,59.3 L534.7,59.6 L535.1,59.9 L535.5,60.0 L535.9,60.3 L536.3,60.4 L536.7,60.9 L537.1,61.1 L537.5,61.1 L537.9,61.4 L538.3,62.0 L538.7,61.7 L539.1,62.2 L539.5,62.5 L539.9,62.3 L540.3,62.6 L540.7,62.3 L541.1,63.0 L541.5,63.1 L541.9,63.3 L542.3,63.3 L542.7,63.6 L543.1,63.8 L543.5,63.8 L543.9,63.8 L544.3,64.0 L544.7,64.1 L545.1,64.2 L545.5,64.2 L545.9,64.3 L546.3,64.6 L546.7,64.6 L547.1,64.7 L547.5,64.7 L547.9,64.8 L548.3,65.0 L548.7,65.1 L549.1,65.5 L549.5,65.3 L549.9,65.5 L550.3,65.5 L550.7,65.5 L551.1,65.4 L551.5,65.6 L551.9,65.6 L552.3,65.4 L552.7,65.7 L553.1,65.6 L553.5,65.4 L553.9,65.5 L554.3,65.7 L554.7,65.7 L555.1,65.4 L555.5,65.4 L555.9,65.0 L556.3,64.2 L556.7,63.7 L557.1,63.5 L557.5,63.3 L557.9,63.9 L558.3,64.8 L558.7,65.2 L559.1,65.5 L559.5,65.7 L559.9,66.4 L560.3,66.1 L560.7,66.3 L561.1,66.7 L561.5,66.6 L561.9,66.5 L562.3,66.6 L562.7,67.0 L563.1,67.0 L563.5,66.6 L563.9,66.8 L564.3,67.1 L564.7,67.3 L565.1,67.0 L565.5,67.3 L565.9,67.0 L566.3,67.0 L566.7,67.1 L567.1,67.4 L567.5,67.4 L567.9,67.5 L568.3,67.1 L568.7,67.7 L569.1,67.4 L569.5,67.9 L569.9,67.6 L570.3,67.3 L570.7,67.6 L571.1,67.5 L571.5,67.9 L571.9,67.7 L572.3,67.9 L572.7,67.6 L573.1,67.6 L573.5,67.8 L573.9,67.8 L574.3,67.7 L574.7,67.9 L575.1,68.0 L575.5,67.8 L575.9,67.8 L576.3,67.8 L576.7,68.0 L577.1,67.9 L577.5,68.0 L577.9,68.1 L578.3,67.9 L578.7,67.9 L579.1,67.9 L579.5,68.2 L579.9,67.9 L580.3,68.0 L580.7,67.9 L581.1,68.1 L581.5,68.0 L581.9,67.8 L582.3,68.1 L582.7,68.0 L583.1,68.1 L583.5,68.0 L583.9,67.9 L584.3,67.7 L584.7,68.0 L585.1,68.0 L585.5,67.7 L585.9,67.8 L586.3,67.8 L586.7,67.7 L587.1,67.7 L587.5,67.5 L587.9,67.4 L588.3,67.6 L588.7,67.1 L589.1,67.4 L589.5,67.0 L589.9,67.0 L590.3,66.8 L590.7,66.7 L591.1,66.3 L591.5,66.2 L591.9,65.6 L592.3,65.2 L592.7,64.9 L593.1,64.3 L593.5,63.3 L593.9,62.8 L594.3,61.3 L594.7,60.3 L595.1,58.6 L595.5,57.6 L595.9,57.0 L596.3,57.0 L596.7,57.6 L597.1,58.8 L597.5,60.1 L597.9,61.7 L598.3,62.6 L598.7,63.6 L599.1,64.0 L599.5,65.2 L599.9,65.8 L600.3,65.8 L600.7,66.2 L601.1,66.5 L601.5,67.1 L601.9,66.9 L602.3,67.1 L602.7,67.2 L603.1,67.6 L603.5,67.8 L603.9,67.6 L604.3,68.1 L604.7,68.0 L605.1,67.9 L605.5,68.2 L605.9,68.3 L606.3,68.4 L606.7,68.3 L607.1,68.5 L607.5,68.3 L607.9,68.4 L608.3,68.7 L608.7,68.4 L609.1,68.3 L609.5,68.3 L609.9,68.4 L610.3,68.3 L610.7,68.4 L611.1,68.4 L611.5,68.6 L611.9,68.4 L612.3,68.6 L612.7,68.7 L613.1,68.8 L613.5,68.9 L613.9,68.9 L614.3,68.7 L614.7,68.5 L615.1,68.9 L615.5,68.8 L615.9,68.7 L616.3,68.9 L616.7,69.1 L617.1,68.9 L617.5,68.8 L617.9,68.9 L618.3,68.7 L618.7,69.2 L619.1,68.7 L619.5,68.7 L619.9,69.0 L620.3,68.9 L620.7,68.7 L621.1,69.1 L621.5,69.1 L621.9,68.7 L622.3,69.0 L622.7,69.1 L623.1,69.2 L623.5,69.0 L623.9,69.1 L624.3,69.0 L624.7,69.1 L625.1,69.3 L625.5,69.1 L625.9,68.9 L626.3,69.0 L626.7,69.3 L627.1,68.8 L627.5,68.9 L627.9,68.9 L628.3,69.3 L628.7,68.9 L629.1,69.0 L629.5,69.1 L629.9,69.2 L630.3,69.2 L630.7,68.9 L631.1,68.9 L631.5,68.9 L631.9,69.3 L632.3,69.1 L632.7,69.1 L633.1,69.1 L633.5,68.9 L633.9,68.9 L634.3,69.0 L634.7,69.4 L635.1,69.1 L635.5,69.2 L635.9,69.0 L636.3,69.6 L636.7,69.2 L637.1,68.9 L637.5,69.1 L637.9,69.2 L638.3,69.3 L638.7,69.1 L639.1,69.3 L639.5,69.2 L639.9,69.2 L640.3,69.1 L640.7,69.3 L641.1,69.4 L641.5,69.2 L641.9,69.2 L642.3,69.7 L642.7,69.3 L643.1,69.3 L643.5,69.0 L643.9,69.4 L644.3,69.0 L644.7,69.4 L645.1,69.3 L645.5,69.2 L645.9,69.2 L646.3,69.3 L646.7,69.2 L647.1,69.0 L647.5,69.4 L647.9,69.0 L648.3,69.3 L648.7,69.2 L649.1,69.5 L649.5,69.1 L649.9,69.4 L650.3,69.4 L650.7,68.9 L651.1,69.1 L651.5,69.2 L651.9,69.1 L652.3,69.3 L652.7,69.4 L653.1,69.5 L653.5,69.2 L653.9,69.4 L654.3,69.3 L654.7,69.4 L655.1,69.3 L655.5,69.3 L655.9,69.3 L656.3,69.4 L656.7,69.4 L657.1,69.2 L657.5,69.0 L657.9,69.5 L658.3,69.5 L658.7,69.3 L659.1,69.5 L659.5,69.3 L659.9,69.3 L660.3,69.3 L660.7,69.5 L661.1,69.6 L661.5,69.3 L661.9,69.3 L662.3,69.5 L662.7,69.5 L663.1,69.5 L663.5,69.1 L663.9,69.4 L664.3,69.4 L664.7,69.3 L665.1,69.4 L665.5,69.3 L665.9,69.4 L666.3,69.4 L666.7,69.3 L667.1,69.6 L667.5,69.4 L667.9,69.5 L668.3,69.5 L668.7,69.2 L669.1,69.4 L669.5,69.3 L669.9,69.4 L670.3,69.2 L670.7,69.5 L671.1,69.4 L671.5,69.2 L671.9,69.5 L672.3,69.2 L672.7,69.2 L673.1,69.5 L673.5,69.4 L673.9,69.3 L674.3,69.5" fill="none" stroke="#c966b0" stroke-width="1.1"/>
<path d="M406.2,2.4 H674.4 V217.5" fill="none" stroke="#444" stroke-width="1"/>
<line x1="406.5" y1="1.5" x2="406.5" y2="218.0" stroke="#111" stroke-width="1.1"/>
<line x1="405.7" y1="217.5" x2="674.9" y2="217.5" stroke="#333" stroke-width="1.1"/>
<line x1="402.2" y1="37.7" x2="406.2" y2="37.7" stroke="#111" stroke-width="1"/>
<line x1="402.2" y1="97.6" x2="406.2" y2="97.6" stroke="#111" stroke-width="1"/>
<line x1="402.2" y1="157.6" x2="406.2" y2="157.6" stroke="#111" stroke-width="1"/>
<line x1="412.0" y1="217.5" x2="412.0" y2="219.5" stroke="#333" stroke-width="1"/>
<line x1="441.2" y1="217.5" x2="441.2" y2="221.5" stroke="#333" stroke-width="1"/>
<text x="441.2" y="234.5" font-size="11.5" text-anchor="middle" fill="#000" font-weight="normal" >50</text>
<line x1="470.3" y1="217.5" x2="470.3" y2="219.5" stroke="#333" stroke-width="1"/>
<line x1="499.5" y1="217.5" x2="499.5" y2="221.5" stroke="#333" stroke-width="1"/>
<text x="499.5" y="234.5" font-size="11.5" text-anchor="middle" fill="#000" font-weight="normal" >100</text>
<line x1="528.6" y1="217.5" x2="528.6" y2="219.5" stroke="#333" stroke-width="1"/>
<line x1="557.8" y1="217.5" x2="557.8" y2="221.5" stroke="#333" stroke-width="1"/>
<text x="557.8" y="234.5" font-size="11.5" text-anchor="middle" fill="#000" font-weight="normal" >150</text>
<line x1="586.9" y1="217.5" x2="586.9" y2="219.5" stroke="#333" stroke-width="1"/>
<line x1="616.1" y1="217.5" x2="616.1" y2="221.5" stroke="#333" stroke-width="1"/>
<text x="616.1" y="234.5" font-size="11.5" text-anchor="middle" fill="#000" font-weight="normal" >200</text>
<line x1="645.2" y1="217.5" x2="645.2" y2="219.5" stroke="#333" stroke-width="1"/>
<line x1="674.4" y1="217.5" x2="674.4" y2="221.5" stroke="#333" stroke-width="1"/>
<text x="674.4" y="234.5" font-size="11.5" text-anchor="middle" fill="#000" font-weight="normal" >250</text>
<text x="548.3" y="250.8" font-size="13.5" text-anchor="middle">Wavenumber (cm<tspan font-size="8.5" dy="-5">-1</tspan><tspan dy="5">)</tspan></text>
<text transform="translate(395.3,109.6) rotate(-90)" font-size="13.3" text-anchor="middle">Intensity (Arb. Un.)</text>
<text x="415.6" y="16.9" font-size="12">A<tspan font-size="8.6" dy="2">g</tspan></text>
<text x="423.6" y="12.299999999999999" font-size="8.6">1</text>
<text x="459.5" y="27" font-size="12">A<tspan font-size="8.6" dy="2">g</tspan></text>
<text x="467.5" y="22.4" font-size="8.6">2</text>
<text x="497.5" y="51.5" font-size="12">B<tspan font-size="8.6" dy="2">3g</tspan></text>
<text x="505.5" y="46.9" font-size="8.6">1</text>
<text x="524.8" y="51.6" font-size="12">A<tspan font-size="8.6" dy="2">g</tspan></text>
<text x="532.8" y="47.0" font-size="8.6">3</text>
<text x="551.5" y="55" font-size="12">A<tspan font-size="8.6" dy="2">g</tspan></text>
<text x="559.5" y="50.4" font-size="8.6">4</text>
<text x="580" y="52" font-size="12">SnSe<tspan font-size="8.8" dy="2.6">2</tspan></text>
<text x="632" y="48.6" font-size="12" text-anchor="start" fill="#c966b0" font-weight="normal" >Single</text>
<text x="632.5" y="62.6" font-size="12" text-anchor="start" fill="#c966b0" font-weight="normal" >Crystal</text>
<text x="634" y="100.5" font-size="12" text-anchor="start" fill="#000" font-weight="normal" >80 nm</text>
<text x="639" y="156.5" font-size="12" text-anchor="start" fill="#6cc1ea" font-weight="normal" >8 nm</text>
<text x="640" y="210.5" font-size="12" text-anchor="start" fill="#daa12a" font-weight="normal" >4 nm</text>
<text x="377.5" y="13.7" font-size="18" text-anchor="start" fill="#000" font-weight="normal" >b)</text>
</g>
<g id="pc">
<text x="1" y="259.4" font-size="18" text-anchor="start" fill="#000" font-weight="normal" >c)</text>
<line x1="83.5" y1="297" x2="93.2" y2="347.4" stroke="#7a7a7a" stroke-width="2.4"/>
<line x1="93.2" y1="347.4" x2="122.5" y2="341.5" stroke="#7a7a7a" stroke-width="2.4"/>
<line x1="122.5" y1="341.5" x2="133" y2="290.2" stroke="#7a7a7a" stroke-width="2.4"/>
<line x1="133" y1="290.2" x2="162.3" y2="297.2" stroke="#7a7a7a" stroke-width="2.4"/>
<line x1="73.1" y1="391.2" x2="83.6" y2="441.7" stroke="#7a7a7a" stroke-width="2.4"/>
<line x1="83.6" y1="441.7" x2="112.2" y2="447.8" stroke="#7a7a7a" stroke-width="2.4"/>
<line x1="112.2" y1="447.8" x2="123.2" y2="397.3" stroke="#7a7a7a" stroke-width="2.4"/>
<line x1="123.2" y1="397.3" x2="152" y2="390.8" stroke="#7a7a7a" stroke-width="2.4"/>
<line x1="152" y1="390.8" x2="161.8" y2="441.7" stroke="#7a7a7a" stroke-width="2.4"/>
<circle cx="83.5" cy="297" r="4.2" fill="#45c453" stroke="#5f7aa8" stroke-width="0.5"/>
<circle cx="93.2" cy="347.4" r="6.9" fill="#ee8a2e" stroke="#5f7aa8" stroke-width="0.5"/>
<circle cx="122.5" cy="341.5" r="4.2" fill="#45c453" stroke="#5f7aa8" stroke-width="0.5"/>
<circle cx="133" cy="290.2" r="7.1" fill="#ee8a2e" stroke="#5f7aa8" stroke-width="0.5"/>
<circle cx="162.3" cy="297.2" r="4.2" fill="#45c453" stroke="#5f7aa8" stroke-width="0.5"/>
<circle cx="73.1" cy="391.2" r="6.9" fill="#ee8a2e" stroke="#5f7aa8" stroke-width="0.5"/>
<circle cx="83.6" cy="441.7" r="4.2" fill="#45c453" stroke="#5f7aa8" stroke-width="0.5"/>
<circle cx="112.2" cy="447.8" r="6.9" fill="#ee8a2e" stroke="#5f7aa8" stroke-width="0.5"/>
<circle cx="123.2" cy="397.3" r="4.2" fill="#45c453" stroke="#5f7aa8" stroke-width="0.5"/>
<circle cx="152" cy="390.8" r="6.9" fill="#ee8a2e" stroke="#5f7aa8" stroke-width="0.5"/>
<circle cx="161.8" cy="441.7" r="4.2" fill="#45c453" stroke="#5f7aa8" stroke-width="0.5"/>
<line x1="68.4" y1="347.5" x2="158" y2="347.5" stroke="#111" stroke-width="1.2" stroke-dasharray="4,2.6"/>
<line x1="70.5" y1="391.2" x2="159" y2="391.2" stroke="#111" stroke-width="1.2" stroke-dasharray="4,2.6"/>
<line x1="229.4" y1="284.8" x2="240.4" y2="324.4" stroke="#7a7a7a" stroke-width="2.4"/>
<line x1="240.4" y1="324.4" x2="270.8" y2="318" stroke="#7a7a7a" stroke-width="2.4"/>
<line x1="270.8" y1="318" x2="282.4" y2="277.6" stroke="#7a7a7a" stroke-width="2.4"/>
<line x1="282.4" y1="277.6" x2="312.2" y2="285.3" stroke="#7a7a7a" stroke-width="2.4"/>
<line x1="216.2" y1="409.7" x2="229.4" y2="450" stroke="#7a7a7a" stroke-width="2.4"/>
<line x1="229.4" y1="450" x2="260" y2="456.2" stroke="#7a7a7a" stroke-width="2.4"/>
<line x1="260" y1="456.2" x2="271" y2="415.8" stroke="#7a7a7a" stroke-width="2.4"/>
<line x1="271" y1="415.8" x2="301.6" y2="409.2" stroke="#7a7a7a" stroke-width="2.4"/>
<line x1="301.6" y1="409.2" x2="313.7" y2="450" stroke="#7a7a7a" stroke-width="2.4"/>
<circle cx="229.4" cy="284.8" r="4.2" fill="#45c453" stroke="#5f7aa8" stroke-width="0.5"/>
<circle cx="240.4" cy="324.4" r="6.9" fill="#ee8a2e" stroke="#5f7aa8" stroke-width="0.5"/>
<circle cx="270.8" cy="318" r="4.2" fill="#45c453" stroke="#5f7aa8" stroke-width="0.5"/>
<circle cx="282.4" cy="277.6" r="7.1" fill="#ee8a2e" stroke="#5f7aa8" stroke-width="0.5"/>
<circle cx="312.2" cy="285.3" r="4.2" fill="#45c453" stroke="#5f7aa8" stroke-width="0.5"/>
<circle cx="216.2" cy="409.7" r="6.9" fill="#ee8a2e" stroke="#5f7aa8" stroke-width="0.5"/>
<circle cx="229.4" cy="450" r="4.2" fill="#45c453" stroke="#5f7aa8" stroke-width="0.5"/>
<circle cx="260" cy="456.2" r="6.9" fill="#ee8a2e" stroke="#5f7aa8" stroke-width="0.5"/>
<circle cx="271" cy="415.8" r="4.2" fill="#45c453" stroke="#5f7aa8" stroke-width="0.5"/>
<circle cx="301.6" cy="409.2" r="6.9" fill="#ee8a2e" stroke="#5f7aa8" stroke-width="0.5"/>
<circle cx="313.7" cy="450" r="4.2" fill="#45c453" stroke="#5f7aa8" stroke-width="0.5"/>
<line x1="221" y1="324.8" x2="315" y2="324.8" stroke="#111" stroke-width="1.2" stroke-dasharray="4,2.6"/>
<line x1="209.6" y1="409.5" x2="317.3" y2="409.5" stroke="#111" stroke-width="1.2" stroke-dasharray="4,2.6"/>
<line x1="73.1" y1="351.9" x2="73.1" y2="386.8" stroke="#000" stroke-width="1.1"/>
<path d="M70.89999999999999,352.9 L73.1,347.9 L75.3,352.9 Z" fill="#000"/>
<path d="M70.89999999999999,385.8 L73.1,390.8 L75.3,385.8 Z" fill="#000"/>
<line x1="229.1" y1="335.9" x2="229.1" y2="402.9" stroke="#000" stroke-width="1.1"/>
<path d="M226.9,336.9 L229.1,331.9 L231.29999999999998,336.9 Z" fill="#000"/>
<path d="M226.9,401.9 L229.1,406.9 L231.29999999999998,401.9 Z" fill="#000"/>
<path d="M152.9,367.5 H181.8 V363 L191.9,372.3 L181.8,382 V377.1 H152.9 Z" fill="#4a76c8"/>
<text x="129.6" y="362.3" font-size="9.4" text-anchor="start" fill="#000" font-weight="normal" >Decreasing thickness</text>
<text x="81.5" y="373.3" font-size="11">d<tspan font-size="7.5" dy="2.6">vdW</tspan></text>
<text x="129.2" y="386.4" font-size="11">d<tspan font-size="7.5" dy="2.6">2</tspan></text>
<text x="159.9" y="419.7" font-size="11">d<tspan font-size="7.5" dy="2.6">1</tspan></text>
<text x="236.2" y="345.9" font-size="11">d<tspan font-size="7.5" dy="2.6">vdW</tspan><tspan dy="-2.6"> + δ</tspan><tspan font-size="7.5" dy="2.6">vdW</tspan></text>
<text x="264.8" y="398.4" font-size="11">d<tspan font-size="7.5" dy="2.6">2</tspan><tspan dy="-2.6"> + δ</tspan><tspan font-size="7.5" dy="2.6">2</tspan></text>
<text x="310" y="433" font-size="11">d<tspan font-size="7.5" dy="2.6">1</tspan><tspan dy="-2.6"> - δ</tspan><tspan font-size="7.5" dy="2.6">1</tspan></text>
<text x="10.2" y="367.2" font-size="19.6" text-anchor="start" fill="#ee8a2e" font-weight="bold" >Sn</text>
<text x="10.4" y="393.6" font-size="19.6" text-anchor="start" fill="#45c453" font-weight="bold" >Se</text>
<line x1="10.5" y1="460.4" x2="10.5" y2="425" stroke="#e8262a" stroke-width="1.6"/>
<path d="M7.6,426 L10.5,420.4 L13.4,426 Z" fill="#e8262a"/>
<line x1="10.5" y1="460.4" x2="42" y2="460.4" stroke="#4a86c8" stroke-width="1.6"/>
<path d="M41,457.5 L46.5,460.4 L41,463.3 Z" fill="#4a86c8"/>
<circle cx="10.5" cy="460.4" r="1.8" fill="#4a86c8"/>
<text x="7.6" y="418.9" font-size="11" text-anchor="start" fill="#e8262a" font-weight="bold" >a</text>
<text x="17.6" y="418.9" font-size="11" text-anchor="start" fill="#e8262a" font-weight="normal" >[100]</text>
<text x="47.3" y="464.5" font-size="11" text-anchor="start" fill="#4a86c8" font-weight="bold" >c</text>
<text x="40" y="454.4" font-size="11" text-anchor="start" fill="#4a86c8" font-weight="normal" >[001]</text>
<text x="3.2" y="472" font-size="11" text-anchor="start" fill="#4a86c8" font-weight="bold" >b</text>
<text x="12.6" y="474" font-size="11" text-anchor="start" fill="#4a86c8" font-weight="normal" >[010]</text>
</g>
<g id="pd">
<text x="377" y="260.9" font-size="18" text-anchor="start" fill="#000" font-weight="normal" >d)</text>
<rect x="406.5" y="275.5" width="268.0" height="216.0" fill="none" stroke="#333" stroke-width="1"/>
<line x1="402.5" y1="491.5" x2="406.5" y2="491.5" stroke="#333" stroke-width="1"/>
<text x="399.3" y="495.7" font-size="12" text-anchor="end" fill="#000" font-weight="normal" >2.72</text>
<line x1="404.5" y1="464.5" x2="406.5" y2="464.5" stroke="#333" stroke-width="1"/>
<line x1="402.5" y1="437.5" x2="406.5" y2="437.5" stroke="#333" stroke-width="1"/>
<text x="399.3" y="441.7" font-size="12" text-anchor="end" fill="#000" font-weight="normal" >2.74</text>
<line x1="404.5" y1="410.5" x2="406.5" y2="410.5" stroke="#333" stroke-width="1"/>
<line x1="402.5" y1="383.5" x2="406.5" y2="383.5" stroke="#333" stroke-width="1"/>
<text x="399.3" y="387.7" font-size="12" text-anchor="end" fill="#000" font-weight="normal" >2.76</text>
<line x1="404.5" y1="356.5" x2="406.5" y2="356.5" stroke="#333" stroke-width="1"/>
<line x1="402.5" y1="329.5" x2="406.5" y2="329.5" stroke="#333" stroke-width="1"/>
<text x="399.3" y="333.7" font-size="12" text-anchor="end" fill="#000" font-weight="normal" >2.78</text>
<line x1="404.5" y1="302.5" x2="406.5" y2="302.5" stroke="#333" stroke-width="1"/>
<line x1="402.5" y1="275.5" x2="406.5" y2="275.5" stroke="#333" stroke-width="1"/>
<text x="399.3" y="279.7" font-size="12" text-anchor="end" fill="#000" font-weight="normal" >2.80</text>
<line x1="406.5" y1="491.5" x2="406.5" y2="495.5" stroke="#333" stroke-width="1"/>
<text x="406.5" y="508.3" font-size="11.5" text-anchor="middle" fill="#000" font-weight="normal" >0</text>
<line x1="436.3" y1="491.5" x2="436.3" y2="493.5" stroke="#333" stroke-width="1"/>
<line x1="466.1" y1="491.5" x2="466.1" y2="495.5" stroke="#333" stroke-width="1"/>
<text x="466.1" y="508.3" font-size="11.5" text-anchor="middle" fill="#000" font-weight="normal" >5</text>
<line x1="495.9" y1="491.5" x2="495.9" y2="493.5" stroke="#333" stroke-width="1"/>
<line x1="525.6" y1="491.5" x2="525.6" y2="495.5" stroke="#333" stroke-width="1"/>
<text x="525.6" y="508.3" font-size="11.5" text-anchor="middle" fill="#000" font-weight="normal" >10</text>
<line x1="555.4" y1="491.5" x2="555.4" y2="493.5" stroke="#333" stroke-width="1"/>
<line x1="585.2" y1="491.5" x2="585.2" y2="495.5" stroke="#333" stroke-width="1"/>
<text x="585.2" y="508.3" font-size="11.5" text-anchor="middle" fill="#000" font-weight="normal" >15</text>
<line x1="615.0" y1="491.5" x2="615.0" y2="493.5" stroke="#333" stroke-width="1"/>
<line x1="644.8" y1="491.5" x2="644.8" y2="495.5" stroke="#333" stroke-width="1"/>
<text x="644.8" y="508.3" font-size="11.5" text-anchor="middle" fill="#000" font-weight="normal" >20</text>
<text x="540.2" y="528.6" font-size="13" text-anchor="middle" fill="#000" font-weight="normal" >Number of layers</text>
<text transform="translate(370.4,414.2) rotate(-90)" font-size="12">Length (<tspan dx="2.5" font-size="13">Å</tspan><tspan dx="3.5">)</tspan></text>
<path d="M418.4,289.6 L419.6,291.6 L420.7,293.4 L421.8,295.3 L423.0,297.0 L424.1,298.7 L425.2,300.4 L426.4,302.0 L427.5,303.5 L428.7,305.0 L429.8,306.5 L430.9,307.9 L432.1,309.3 L433.2,310.6 L434.3,311.9 L435.5,313.2 L436.6,314.4 L437.8,315.5 L438.9,316.7 L440.0,317.8 L441.2,318.9 L442.3,319.9 L443.4,320.9 L444.6,321.9 L445.7,322.8 L446.9,323.7 L448.0,324.6 L449.1,325.5 L450.3,326.3 L451.4,327.1 L452.5,327.9 L453.7,328.6 L454.8,329.4 L456.0,330.1 L457.1,330.8 L458.2,331.4 L459.4,332.1 L460.5,332.7 L461.6,333.3 L462.8,333.9 L463.9,334.5 L465.1,335.0 L466.2,335.6 L467.3,336.1 L468.5,336.6 L469.6,337.1 L470.7,337.6 L471.9,338.0 L473.0,338.5 L474.2,338.9 L475.3,339.3 L476.4,339.7 L477.6,340.1 L478.7,340.5 L479.8,340.9 L481.0,341.2 L482.1,341.6 L483.3,341.9 L484.4,342.2 L485.5,342.5 L486.7,342.8 L487.8,343.1 L488.9,343.4 L490.1,343.7 L491.2,344.0 L492.4,344.2 L493.5,344.5 L494.6,344.7 L495.8,345.0 L496.9,345.2 L498.0,345.4 L499.2,345.6 L500.3,345.9 L501.5,346.1 L502.6,346.3 L503.7,346.4 L504.9,346.6 L506.0,346.8 L507.1,347.0 L508.3,347.2 L509.4,347.3 L510.6,347.5 L511.7,347.6 L512.8,347.8 L514.0,347.9 L515.1,348.1 L516.2,348.2 L517.4,348.3 L518.5,348.5 L519.7,348.6 L520.8,348.7 L521.9,348.8 L523.1,348.9 L524.2,349.0 L525.4,349.1 L526.5,349.2 L527.6,349.3 L528.8,349.4 L529.9,349.5 L531.0,349.6 L532.2,349.7 L533.3,349.8 L534.5,349.9 L535.6,350.0 L536.7,350.0 L537.9,350.1 L539.0,350.2 L540.1,350.2 L541.3,350.3 L542.4,350.4 L543.6,350.4 L544.7,350.5 L545.8,350.6 L547.0,350.6 L548.1,350.7 L549.2,350.7 L550.4,350.8 L551.5,350.8 L552.7,350.9 L553.8,350.9 L554.9,351.0 L556.1,351.0 L557.2,351.1 L558.3,351.1 L559.5,351.2 L560.6,351.2 L561.8,351.2 L562.9,351.3 L564.0,351.3 L565.2,351.3 L566.3,351.4 L567.4,351.4 L568.6,351.4 L569.7,351.5 L570.9,351.5 L572.0,351.5 L573.1,351.6 L574.3,351.6 L575.4,351.6 L576.5,351.6 L577.7,351.7 L578.8,351.7 L580.0,351.7 L581.1,351.7 L582.2,351.8 L583.4,351.8 L584.5,351.8 L585.6,351.8 L586.8,351.8 L587.9,351.9 L589.1,351.9 L590.2,351.9 L591.3,351.9 L592.5,351.9 L593.6,351.9 L594.7,352.0 L595.9,352.0 L597.0,352.0 L598.2,352.0 L599.3,352.0 L600.4,352.0 L601.6,352.0 L602.7,352.1 L603.8,352.1 L605.0,352.1 L606.1,352.1 L607.3,352.1 L608.4,352.1 L609.5,352.1 L610.7,352.1 L611.8,352.1 L612.9,352.2 L614.1,352.2 L615.2,352.2 L616.4,352.2 L617.5,352.2 L618.6,352.2 L619.8,352.2 L620.9,352.2 L622.0,352.2 L623.2,352.2 L624.3,352.2 L625.5,352.2 L626.6,352.2 L627.7,352.3 L628.9,352.3 L630.0,352.3 L631.1,352.3 L632.3,352.3 L633.4,352.3 L634.6,352.3 L635.7,352.3 L636.8,352.3 L638.0,352.3 L639.1,352.3 L640.2,352.3 L641.4,352.3 L642.5,352.3 L643.7,352.3 L644.8,352.3" fill="none" stroke="#d9692a" stroke-width="1.1"/>
<path d="M430.3,289.0 L431.4,296.7 L432.5,304.0 L433.6,310.9 L434.6,317.6 L435.7,323.9 L436.8,329.9 L437.9,335.6 L439.0,341.0 L440.0,346.2 L441.1,351.1 L442.2,355.8 L443.3,360.2 L444.3,364.5 L445.4,368.5 L446.5,372.4 L447.6,376.1 L448.7,379.6 L449.7,382.9 L450.8,386.0 L451.9,389.1 L453.0,391.9 L454.0,394.7 L455.1,397.3 L456.2,399.7 L457.3,402.1 L458.4,404.3 L459.4,406.5 L460.5,408.5 L461.6,410.4 L462.7,412.3 L463.7,414.0 L464.8,415.7 L465.9,417.3 L467.0,418.8 L468.1,420.2 L469.1,421.6 L470.2,422.9 L471.3,424.2 L472.4,425.3 L473.4,426.5 L474.5,427.5 L475.6,428.6 L476.7,429.5 L477.8,430.5 L478.8,431.3 L479.9,432.2 L481.0,433.0 L482.1,433.7 L483.1,434.5 L484.2,435.2 L485.3,435.8 L486.4,436.4 L487.5,437.0 L488.5,437.6 L489.6,438.1 L490.7,438.7 L491.8,439.1 L492.8,439.6 L493.9,440.1 L495.0,440.5 L496.1,440.9 L497.1,441.3 L498.2,441.6 L499.3,442.0 L500.4,442.3 L501.5,442.6 L502.5,442.9 L503.6,443.2 L504.7,443.5 L505.8,443.7 L506.8,444.0 L507.9,444.2 L509.0,444.4 L510.1,444.6 L511.2,444.8 L512.2,445.0 L513.3,445.2 L514.4,445.4 L515.5,445.6 L516.5,445.7 L517.6,445.9 L518.7,446.0 L519.8,446.1 L520.9,446.3 L521.9,446.4 L523.0,446.5 L524.1,446.6 L525.2,446.7 L526.2,446.8 L527.3,446.9 L528.4,447.0 L529.5,447.1 L530.6,447.2 L531.6,447.3 L532.7,447.3 L533.8,447.4 L534.9,447.5 L535.9,447.5 L537.0,447.6 L538.1,447.7 L539.2,447.7 L540.3,447.8 L541.3,447.8 L542.4,447.9 L543.5,447.9 L544.6,448.0 L545.6,448.0 L546.7,448.0 L547.8,448.1 L548.9,448.1 L550.0,448.2 L551.0,448.2 L552.1,448.2 L553.2,448.3 L554.3,448.3 L555.3,448.3 L556.4,448.3 L557.5,448.4 L558.6,448.4 L559.7,448.4 L560.7,448.4 L561.8,448.4 L562.9,448.5 L564.0,448.5 L565.0,448.5 L566.1,448.5 L567.2,448.5 L568.3,448.5 L569.4,448.6 L570.4,448.6 L571.5,448.6 L572.6,448.6 L573.7,448.6 L574.7,448.6 L575.8,448.6 L576.9,448.6 L578.0,448.7 L579.1,448.7 L580.1,448.7 L581.2,448.7 L582.3,448.7 L583.4,448.7 L584.4,448.7 L585.5,448.7 L586.6,448.7 L587.7,448.7 L588.8,448.7 L589.8,448.7 L590.9,448.7 L592.0,448.7 L593.1,448.7 L594.1,448.7 L595.2,448.8 L596.3,448.8 L597.4,448.8 L598.5,448.8 L599.5,448.8 L600.6,448.8 L601.7,448.8 L602.8,448.8 L603.8,448.8 L604.9,448.8 L606.0,448.8 L607.1,448.8 L608.2,448.8 L609.2,448.8 L610.3,448.8 L611.4,448.8 L612.5,448.8 L613.5,448.8 L614.6,448.8 L615.7,448.8 L616.8,448.8 L617.9,448.8 L618.9,448.8 L620.0,448.8 L621.1,448.8 L622.2,448.8 L623.2,448.8 L624.3,448.8 L625.4,448.8 L626.5,448.8 L627.6,448.8 L628.6,448.8 L629.7,448.8 L630.8,448.8 L631.9,448.8 L632.9,448.8 L634.0,448.8 L635.1,448.8 L636.2,448.8 L637.3,448.8 L638.3,448.8 L639.4,448.8 L640.5,448.8 L641.6,448.8 L642.6,448.8 L643.7,448.8 L644.8,448.8" fill="none" stroke="#111" stroke-width="1.1"/>
<path d="M430.3,480.2 L431.4,477.6 L432.5,475.2 L433.6,472.8 L434.6,470.5 L435.7,468.3 L436.8,466.1 L437.9,464.0 L439.0,461.9 L440.0,459.9 L441.1,458.0 L442.2,456.2 L443.3,454.3 L444.3,452.6 L445.4,450.9 L446.5,449.2 L447.6,447.6 L448.7,446.1 L449.7,444.5 L450.8,443.1 L451.9,441.6 L453.0,440.3 L454.0,438.9 L455.1,437.6 L456.2,436.4 L457.3,435.1 L458.4,433.9 L459.4,432.8 L460.5,431.7 L461.6,430.6 L462.7,429.5 L463.7,428.5 L464.8,427.5 L465.9,426.6 L467.0,425.6 L468.1,424.7 L469.1,423.8 L470.2,423.0 L471.3,422.2 L472.4,421.4 L473.4,420.6 L474.5,419.8 L475.6,419.1 L476.7,418.4 L477.8,417.7 L478.8,417.0 L479.9,416.4 L481.0,415.7 L482.1,415.1 L483.1,414.5 L484.2,413.9 L485.3,413.4 L486.4,412.8 L487.5,412.3 L488.5,411.8 L489.6,411.3 L490.7,410.8 L491.8,410.4 L492.8,409.9 L493.9,409.5 L495.0,409.0 L496.1,408.6 L497.1,408.2 L498.2,407.8 L499.3,407.5 L500.4,407.1 L501.5,406.7 L502.5,406.4 L503.6,406.1 L504.7,405.7 L505.8,405.4 L506.8,405.1 L507.9,404.8 L509.0,404.5 L510.1,404.2 L511.2,404.0 L512.2,403.7 L513.3,403.5 L514.4,403.2 L515.5,403.0 L516.5,402.7 L517.6,402.5 L518.7,402.3 L519.8,402.1 L520.9,401.9 L521.9,401.7 L523.0,401.5 L524.1,401.3 L525.2,401.1 L526.2,400.9 L527.3,400.7 L528.4,400.6 L529.5,400.4 L530.6,400.3 L531.6,400.1 L532.7,400.0 L533.8,399.8 L534.9,399.7 L535.9,399.5 L537.0,399.4 L538.1,399.3 L539.2,399.2 L540.3,399.0 L541.3,398.9 L542.4,398.8 L543.5,398.7 L544.6,398.6 L545.6,398.5 L546.7,398.4 L547.8,398.3 L548.9,398.2 L550.0,398.1 L551.0,398.0 L552.1,397.9 L553.2,397.8 L554.3,397.8 L555.3,397.7 L556.4,397.6 L557.5,397.5 L558.6,397.5 L559.7,397.4 L560.7,397.3 L561.8,397.3 L562.9,397.2 L564.0,397.1 L565.0,397.1 L566.1,397.0 L567.2,397.0 L568.3,396.9 L569.4,396.8 L570.4,396.8 L571.5,396.7 L572.6,396.7 L573.7,396.7 L574.7,396.6 L575.8,396.6 L576.9,396.5 L578.0,396.5 L579.1,396.4 L580.1,396.4 L581.2,396.4 L582.3,396.3 L583.4,396.3 L584.4,396.3 L585.5,396.2 L586.6,396.2 L587.7,396.2 L588.8,396.1 L589.8,396.1 L590.9,396.1 L592.0,396.0 L593.1,396.0 L594.1,396.0 L595.2,396.0 L596.3,395.9 L597.4,395.9 L598.5,395.9 L599.5,395.9 L600.6,395.8 L601.7,395.8 L602.8,395.8 L603.8,395.8 L604.9,395.8 L606.0,395.7 L607.1,395.7 L608.2,395.7 L609.2,395.7 L610.3,395.7 L611.4,395.6 L612.5,395.6 L613.5,395.6 L614.6,395.6 L615.7,395.6 L616.8,395.6 L617.9,395.6 L618.9,395.5 L620.0,395.5 L621.1,395.5 L622.2,395.5 L623.2,395.5 L624.3,395.5 L625.4,395.5 L626.5,395.5 L627.6,395.5 L628.6,395.4 L629.7,395.4 L630.8,395.4 L631.9,395.4 L632.9,395.4 L634.0,395.4 L635.1,395.4 L636.2,395.4 L637.3,395.4 L638.3,395.4 L639.4,395.4 L640.5,395.3 L641.6,395.3 L642.6,395.3 L643.7,395.3 L644.8,395.3" fill="none" stroke="#6cc1ea" stroke-width="1.1"/>
<path d="M414.8,287.1 L418.4,293.1 L422.0,287.1 Z" fill="#d9692a"/>
<path d="M426.3,300.0 L429.9,306.0 L433.5,300.0 Z" fill="#d9692a"/>
<path d="M462.4,333.0 L466.0,339.0 L469.6,333.0 Z" fill="#d9692a"/>
<path d="M474.1,340.3 L477.7,346.3 L481.3,340.3 Z" fill="#d9692a"/>
<path d="M509.9,343.9 L513.5,349.9 L517.1,343.9 Z" fill="#d9692a"/>
<path d="M521.6,345.6 L525.2,351.6 L528.8,345.6 Z" fill="#d9692a"/>
<path d="M581.5,348.6 L585.1,354.6 L588.7,348.6 Z" fill="#d9692a"/>
<path d="M593.2,349.6 L596.8,355.6 L600.4,349.6 Z" fill="#d9692a"/>
<path d="M629.1,350.0 L632.7,356.0 L636.3,350.0 Z" fill="#d9692a"/>
<path d="M640.8,350.5 L644.4,356.5 L648.0,350.5 Z" fill="#d9692a"/>
<path d="M426.2,482.8 L429.8,476.8 L433.4,482.8 Z" fill="#5db8e8"/>
<path d="M462.2,424.7 L465.8,418.7 L469.4,424.7 Z" fill="#5db8e8"/>
<path d="M474.3,420.1 L477.9,414.1 L481.5,420.1 Z" fill="#5db8e8"/>
<path d="M509.8,408.4 L513.4,402.4 L517.0,408.4 Z" fill="#5db8e8"/>
<path d="M521.9,406.2 L525.5,400.2 L529.1,406.2 Z" fill="#5db8e8"/>
<path d="M581.5,400.0 L585.1,394.0 L588.7,400.0 Z" fill="#5db8e8"/>
<path d="M593.2,398.5 L596.8,392.5 L600.4,398.5 Z" fill="#5db8e8"/>
<path d="M629.1,397.0 L632.7,391.0 L636.3,397.0 Z" fill="#5db8e8"/>
<path d="M640.8,396.5 L644.4,390.5 L648.0,396.5 Z" fill="#5db8e8"/>
<rect x="427.5" y="286.9" width="5.2" height="5.2" fill="#000"/>
<rect x="463.2" y="395.4" width="5.2" height="5.2" fill="#000"/>
<rect x="475.3" y="455.1" width="5.2" height="5.2" fill="#000"/>
<rect x="511.3" y="431.1" width="5.2" height="5.2" fill="#000"/>
<rect x="522.9" y="437.4" width="5.2" height="5.2" fill="#000"/>
<rect x="582.5" y="446.2" width="5.2" height="5.2" fill="#000"/>
<rect x="594.2" y="447.9" width="5.2" height="5.2" fill="#000"/>
<rect x="630.1" y="447.6" width="5.2" height="5.2" fill="#000"/>
<rect x="641.8" y="446.2" width="5.2" height="5.2" fill="#000"/>
<rect x="565" y="279.5" width="85.3" height="54.9" fill="#fff" stroke="#aaa" stroke-width="0.8"/>
<rect x="577.6" y="285.9" width="5.2" height="5.2" fill="#000"/>
<path d="M576.6,308.2 L580.2,302.2 L583.8,308.2 Z" fill="#5db8e8"/>
<path d="M576.6,321.4 L580.2,327.4 L583.8,321.4 Z" fill="#d9692a"/>
<text x="597.7" y="292.6" font-size="12">Avg. d<tspan font-size="8.6" dy="2.8">vdW</tspan></text>
<text x="597.7" y="309.7" font-size="12">Avg. d<tspan font-size="8.6" dy="2.8">1</tspan></text>
<text x="597.7" y="327.7" font-size="12">Avg. d<tspan font-size="8.6" dy="2.8">2</tspan></text>
</g>
</svg>
</body></html>
